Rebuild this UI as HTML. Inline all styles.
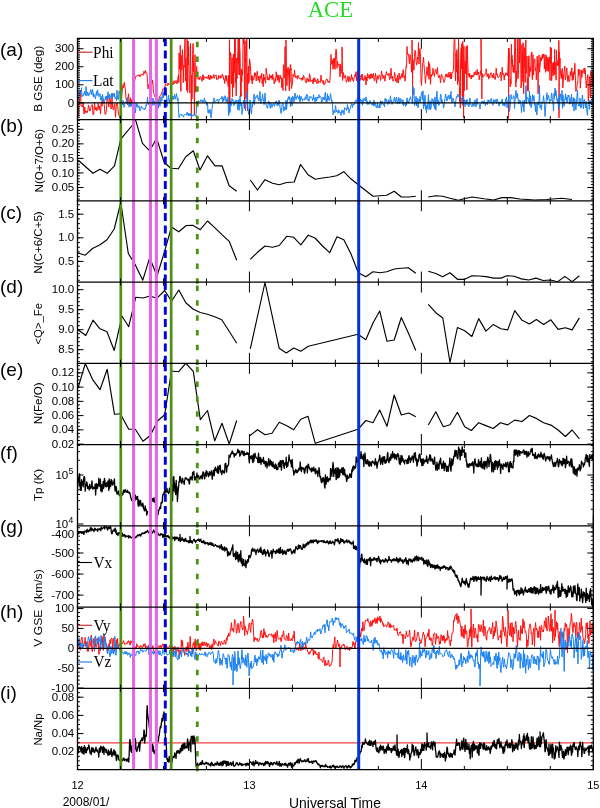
<!DOCTYPE html>
<html><head><meta charset="utf-8"><title>ACE</title>
<style>html,body{margin:0;padding:0;background:#fff;}svg{display:block;will-change:transform;}</style></head>
<body><svg width="600" height="808" viewBox="0 0 600 808">
<rect width="600" height="808" fill="#fff"/>
<text x="330.4" y="16.6" font-family="'Liberation Serif', serif" font-size="22.7" fill="#22dd22" text-anchor="middle">ACE</text>
<defs>
<clipPath id="c0"><rect x="77.5" y="38.3" width="515.8" height="81.25"/></clipPath>
<clipPath id="c1"><rect x="77.5" y="119.55" width="515.8" height="81.25"/></clipPath>
<clipPath id="c2"><rect x="77.5" y="200.8" width="515.8" height="81.25"/></clipPath>
<clipPath id="c3"><rect x="77.5" y="282.05" width="515.8" height="81.25"/></clipPath>
<clipPath id="c4"><rect x="77.5" y="363.3" width="515.8" height="81.25"/></clipPath>
<clipPath id="c5"><rect x="77.5" y="444.55" width="515.8" height="81.25"/></clipPath>
<clipPath id="c6"><rect x="77.5" y="525.8" width="515.8" height="81.25"/></clipPath>
<clipPath id="c7"><rect x="77.5" y="607.05" width="515.8" height="81.25"/></clipPath>
<clipPath id="c8"><rect x="77.5" y="688.3" width="515.8" height="81.25"/></clipPath>
</defs>
<g clip-path="url(#c0)">
<polyline points="78.00,116.69 78.75,105.91 79.50,102.65 80.25,96.35 80.50,90.00 80.80,96.35 81.00,106.24 81.75,105.67 82.50,107.09 83.25,102.34 84.00,114.12 84.75,106.98 85.50,112.82 86.25,111.03 87.00,112.76 87.75,110.98 88.50,104.93 89.25,108.59 90.00,111.24 90.75,107.64 91.50,106.22 92.25,104.54 93.00,114.82 93.75,114.29 94.50,102.37 95.25,109.96 96.00,107.13 96.75,110.79 97.50,108.77 98.25,103.27 99.00,109.72 99.75,105.90 100.50,114.05 101.25,101.72 102.00,106.45 102.75,98.81 103.50,100.37 104.25,104.51 105.00,114.30 105.75,114.29 106.50,108.97 107.25,95.61 108.00,100.66 108.75,106.89 109.50,96.98 110.25,98.88 111.00,109.09 111.75,107.27 112.00,93.00 112.30,107.27 112.50,103.33 113.25,109.93 114.00,107.67 114.75,103.53 115.50,117.25 116.25,106.57 117.00,102.89 117.75,106.48 118.50,114.55 119.00,114.89 119.50,116.98 120.00,118.23 120.50,108.81 121.00,99.33 121.50,99.47 122.00,92.20 122.50,89.81 123.00,84.79 123.50,87.66 124.00,82.65 124.50,82.30 125.00,88.04 125.50,90.12 126.00,98.64 126.50,100.39 127.00,98.32 127.50,104.78 128.00,98.43 128.50,93.74 129.00,98.93 129.50,104.06 130.00,104.89 130.50,97.72 131.00,106.32 131.50,99.79 132.00,104.46 132.50,100.08 133.00,100.54 133.50,101.16 134.00,92.10 134.50,81.08 135.00,79.54 135.50,76.64 136.00,76.51 136.50,76.32 137.00,75.41 137.50,75.48 138.00,75.89 138.50,74.79 139.00,75.20 139.50,76.45 140.00,74.58 140.50,76.41 141.00,75.35 141.50,74.78 142.00,73.89 142.50,74.79 143.00,75.39 143.50,74.13 144.00,71.16 144.50,73.39 145.00,73.39 145.50,70.44 146.00,73.16 146.50,73.27 147.00,73.31 147.50,82.66 148.00,88.95 148.50,87.19 149.00,84.14 149.50,89.18 150.00,90.33 150.50,85.62 151.00,91.10 151.50,81.38 152.00,83.75 152.50,79.90 153.00,85.02 153.50,93.23 154.00,93.72 154.50,95.25 155.00,96.81 155.50,95.99 156.00,96.49 156.50,100.47 157.00,100.13 157.50,101.02 158.00,100.50 158.50,100.51 159.00,100.58 159.50,96.93 160.00,95.72 160.50,95.57 161.00,95.32 161.50,93.02 162.00,92.29 162.50,89.38 163.00,89.25 163.50,89.23 164.00,88.12 164.50,87.64 165.00,86.20 165.50,83.77 166.00,85.56 166.50,84.87 167.00,85.39 167.50,85.51 168.00,82.92 168.50,84.62 169.00,84.58 169.50,84.46 170.00,83.76 170.50,83.98 171.00,81.60 171.50,83.13 172.00,83.46 172.50,82.61 173.00,84.77 173.50,84.21 174.00,80.62 174.50,83.53 175.00,82.31 175.50,82.90 176.00,80.47 176.50,82.08 177.00,83.95 177.50,82.11 178.00,77.39 178.50,75.10 178.80,82.44 179.10,52.98 179.40,69.21 179.70,64.26 180.00,65.10 180.30,45.32 180.60,72.10 180.90,91.35 181.20,55.18 181.50,66.29 181.80,67.71 182.10,69.81 182.40,49.63 182.70,60.07 183.00,67.65 183.30,82.67 183.60,68.51 183.90,65.28 184.20,67.35 184.50,48.53 184.80,44.22 185.10,38.30 185.40,81.02 185.70,59.44 186.00,57.88 186.30,77.59 186.60,90.33 186.90,77.97 187.20,38.98 187.50,92.48 187.80,74.41 188.10,41.10 188.40,64.93 188.70,46.62 189.00,67.87 189.30,90.75 189.60,90.72 189.90,93.03 190.20,68.65 190.50,43.33 190.80,68.38 191.10,95.28 191.40,119.50 191.70,75.13 192.00,98.92 192.30,77.20 192.60,54.63 192.90,43.77 193.20,43.44 193.50,71.88 193.80,64.40 194.10,88.02 194.40,114.81 194.70,83.74 195.00,54.70 195.30,83.79 195.60,92.35 195.90,80.81 196.20,72.58 196.70,66.38 197.20,77.55 197.70,78.85 198.20,78.94 198.70,79.36 199.20,76.94 199.70,79.55 200.20,76.31 200.70,76.48 201.20,77.80 201.70,80.80 202.20,81.30 202.70,74.87 203.20,74.92 203.70,79.98 204.20,77.07 204.70,76.74 205.20,77.75 205.70,77.15 206.20,78.39 206.70,76.85 207.20,76.44 207.70,77.59 208.20,79.14 208.70,74.85 209.20,77.37 209.70,79.97 210.20,78.67 210.70,75.23 211.20,78.89 211.70,76.05 212.20,78.06 212.70,77.93 213.20,76.91 213.70,74.45 214.20,78.49 214.70,76.40 215.20,75.04 215.70,75.89 216.20,75.20 216.70,79.76 217.20,79.03 217.70,78.61 218.20,79.23 218.70,75.13 219.20,77.28 219.70,78.00 220.20,78.50 220.70,75.67 221.20,77.05 221.70,77.67 222.20,74.13 222.70,75.48 223.20,75.54 223.70,79.65 224.20,79.18 224.70,83.50 225.20,77.99 225.70,75.52 226.20,81.15 226.70,75.64 227.20,80.47 227.70,81.01 228.20,86.61 228.70,75.19 229.20,111.21 229.50,39.69 229.80,105.39 230.10,59.98 230.40,52.08 230.70,54.88 231.00,54.28 231.30,80.31 231.60,83.94 231.90,60.06 232.20,57.66 232.50,96.92 232.80,71.02 233.10,85.62 233.40,54.04 233.70,87.48 234.00,64.42 234.30,72.86 234.60,38.30 234.90,64.00 235.20,38.30 235.50,82.47 235.80,76.82 236.10,95.84 236.40,92.98 236.70,58.12 237.00,78.59 237.30,63.70 237.60,56.64 237.90,51.71 238.20,38.30 238.50,63.55 238.80,52.22 239.10,74.95 239.00,38.60 239.30,74.95 239.40,38.30 239.70,46.75 240.00,50.31 240.30,66.13 240.60,97.01 240.90,91.27 241.20,96.16 241.50,68.91 241.80,81.74 242.10,71.24 242.40,74.96 242.70,73.02 243.00,38.30 243.00,38.50 243.30,38.30 243.30,38.30 243.60,43.97 243.90,38.30 244.20,43.33 244.50,108.51 244.80,58.07 245.10,40.78 245.40,56.57 245.70,65.13 246.00,99.01 246.30,57.44 246.60,38.30 246.90,38.95 247.20,99.55 247.50,110.97 247.80,73.64 248.10,83.97 248.40,66.13 248.70,66.11 249.00,82.46 249.30,65.61 249.60,58.81 249.90,62.36 250.20,62.38 250.70,71.98 251.20,80.43 251.70,75.55 252.20,83.98 252.70,75.92 253.20,79.33 253.70,80.17 254.20,77.69 254.70,72.61 255.20,75.75 255.70,73.02 256.20,80.92 256.70,77.63 257.20,71.18 257.70,75.28 258.20,80.48 258.70,76.28 259.20,77.34 259.70,82.70 260.20,75.62 260.70,78.47 261.20,78.24 261.70,73.26 262.20,83.67 262.70,78.72 263.20,86.72 263.70,74.11 264.20,80.24 264.70,77.08 265.20,81.17 265.70,83.20 266.20,68.29 266.70,73.39 267.20,75.25 267.70,79.93 268.20,77.54 268.70,80.05 269.20,80.17 269.70,74.45 270.20,78.07 270.70,76.25 271.20,78.14 271.70,75.43 272.20,79.65 272.70,74.23 273.20,78.44 273.70,77.73 274.20,84.09 274.70,81.24 275.20,78.53 275.70,81.61 276.20,71.75 276.70,77.44 277.20,74.72 277.70,80.42 278.20,75.04 278.70,79.86 279.20,82.57 279.70,76.70 280.20,75.07 280.70,78.71 281.20,77.62 281.50,77.81 281.80,87.50 282.10,78.33 282.40,87.33 282.70,83.09 283.00,90.49 283.30,68.99 283.60,64.71 283.90,68.24 284.20,74.67 284.50,78.18 284.80,64.99 285.10,46.74 285.40,84.53 285.70,90.88 286.00,72.06 286.00,40.00 286.30,72.06 286.30,69.82 286.60,76.75 286.90,85.87 287.20,82.40 287.50,68.94 287.80,72.65 288.10,67.18 288.40,71.42 288.70,75.86 289.00,81.32 289.30,90.80 289.60,69.20 289.90,82.64 290.20,64.76 290.50,64.52 290.80,70.06 291.10,68.27 291.40,88.57 291.70,87.33 292.00,85.16 292.50,83.89 293.00,74.40 293.50,75.79 294.00,76.86 294.50,69.93 295.00,73.90 295.50,77.49 296.00,77.94 296.50,75.91 297.00,76.73 297.50,79.23 298.00,75.38 298.50,77.59 299.00,78.03 299.50,77.93 300.00,79.19 300.50,78.79 301.00,78.97 301.50,78.12 302.00,80.53 302.50,77.09 303.00,79.54 303.50,75.40 304.00,76.46 304.50,77.26 305.00,78.88 305.50,81.85 306.00,82.91 306.50,82.64 307.00,77.84 307.50,78.64 308.00,81.47 308.50,79.10 309.00,82.07 309.50,73.79 310.00,75.72 310.50,81.20 311.00,81.69 311.50,80.74 312.00,79.76 312.50,80.01 313.00,84.06 313.50,77.99 314.00,82.18 314.50,77.74 315.00,78.81 315.50,81.55 316.00,80.55 316.50,82.18 317.00,83.82 317.50,78.76 318.00,79.16 318.50,83.21 319.00,81.44 319.50,81.76 320.00,82.24 320.50,82.50 321.00,75.05 321.50,80.78 322.00,80.08 322.50,81.10 323.00,83.56 323.50,80.59 324.00,85.09 324.50,84.31 325.00,82.50 325.50,82.87 326.00,80.41 326.50,78.88 327.00,79.37 327.50,79.56 328.00,82.42 328.50,81.04 329.00,81.99 329.50,82.71 330.00,79.53 330.50,66.84 331.00,54.48 331.50,64.35 332.00,62.90 332.50,59.87 333.00,69.23 333.50,58.59 334.00,67.55 334.50,58.01 335.00,69.47 335.50,55.51 336.00,49.07 336.50,51.55 337.00,68.35 337.50,61.06 338.00,65.40 338.50,65.62 339.00,63.81 339.50,68.39 340.00,76.98 340.50,64.19 341.00,73.51 341.50,71.48 342.00,60.44 342.00,47.00 342.30,60.44 342.50,80.45 343.00,73.09 343.50,72.55 344.00,78.32 344.50,76.66 345.00,75.54 345.50,75.35 346.00,79.86 346.50,82.42 347.00,79.73 347.50,80.03 348.00,76.09 348.50,81.60 349.00,78.81 349.50,76.75 350.00,81.82 350.50,80.51 351.00,77.88 351.50,74.44 352.00,79.51 352.50,77.49 353.00,80.84 353.50,81.61 354.00,78.34 354.50,76.76 355.00,74.46 355.50,76.55 356.00,71.71 356.50,80.65 357.00,75.85 357.50,70.73 358.00,82.28 358.50,77.85 359.00,81.12 359.50,80.44 360.00,80.87 360.50,77.22 361.00,75.71 361.50,74.47 362.00,80.05 362.50,74.15 363.00,78.98 363.50,81.02 364.00,78.69 364.50,79.47 365.00,75.48 365.50,76.69 366.00,84.94 366.50,77.04 367.00,80.84 367.50,73.56 368.00,78.03 368.50,77.73 369.00,74.64 369.50,79.20 370.00,78.38 370.50,73.84 371.00,78.48 371.50,74.13 372.00,74.28 372.50,78.05 373.00,73.98 373.50,73.45 374.00,79.67 374.50,81.03 375.00,76.94 375.50,73.26 376.00,77.81 376.50,83.28 377.00,79.36 377.50,75.80 378.00,79.52 378.50,78.58 379.00,74.87 379.50,75.37 380.00,75.51 380.50,80.53 381.00,76.92 381.50,71.12 382.00,73.63 382.50,74.68 383.00,78.76 383.50,77.09 384.00,75.38 384.50,78.42 385.00,81.29 385.50,75.35 386.00,73.70 386.50,71.62 387.00,74.99 387.50,74.71 388.00,75.73 388.50,74.65 389.00,73.03 389.50,79.70 390.00,79.08 390.50,76.69 391.00,68.17 391.50,75.28 392.00,78.63 392.50,76.42 393.00,81.28 393.50,79.90 394.00,78.97 394.50,72.16 395.00,74.16 395.50,81.30 396.00,78.77 396.50,78.54 397.00,82.86 397.50,75.43 398.00,79.07 398.50,82.75 399.00,73.02 399.50,75.05 400.00,79.56 400.50,76.67 401.00,78.19 401.50,74.92 402.00,73.41 402.50,77.38 403.00,69.67 403.50,70.64 404.00,77.65 404.50,75.76 405.00,81.20 405.50,76.44 406.00,66.52 406.50,67.42 407.00,46.45 407.50,54.42 408.00,54.64 408.50,53.88 409.00,59.65 409.50,63.86 410.00,54.63 410.50,56.19 411.00,62.61 411.50,72.29 412.00,53.89 412.00,40.00 412.30,53.89 412.50,59.30 412.50,100.00 412.80,59.30 413.00,59.42 413.50,66.45 414.00,70.21 414.50,56.55 415.00,50.28 415.50,51.46 416.00,60.30 416.50,64.91 417.00,64.61 417.50,57.24 418.00,59.00 418.50,42.54 419.00,64.10 419.50,51.82 420.00,48.68 420.50,56.26 421.00,79.90 421.50,85.52 422.00,76.58 422.50,63.37 423.00,62.37 423.50,57.16 424.00,65.16 424.50,69.33 425.00,76.77 425.50,83.32 426.00,75.88 426.50,74.56 427.00,66.90 427.50,73.77 428.00,75.92 428.50,61.47 429.00,79.41 429.50,63.45 430.00,67.46 430.50,84.37 431.00,74.70 431.50,76.75 432.00,73.96 432.50,75.13 433.00,68.18 433.50,73.61 434.00,74.15 434.50,76.47 435.00,71.10 435.50,69.28 436.00,69.92 436.50,74.10 437.00,71.30 437.50,67.59 438.00,75.46 438.50,77.54 439.00,78.06 439.50,74.95 440.00,76.85 440.50,82.98 441.00,78.62 441.50,74.07 442.00,75.98 442.50,76.55 443.00,78.40 443.50,80.10 444.00,82.50 444.50,80.67 445.00,79.17 445.50,74.42 446.00,74.55 446.50,76.63 447.00,73.71 447.50,77.16 448.00,76.15 448.50,77.20 449.00,72.06 449.50,77.14 450.00,74.37 450.50,78.97 451.00,72.30 451.50,78.94 452.00,73.63 452.50,72.93 453.00,71.68 453.50,68.07 454.00,42.53 454.30,38.30 454.60,38.30 454.90,40.85 455.20,67.00 455.50,81.00 455.80,71.82 456.10,52.86 456.40,72.11 456.70,50.68 457.00,49.61 457.30,58.35 457.60,84.51 457.90,59.64 458.20,81.30 458.50,38.30 458.80,60.75 459.10,75.21 459.40,87.91 459.70,101.68 460.00,88.09 460.30,107.99 460.60,58.50 460.90,52.93 461.20,47.47 461.50,69.02 461.80,43.63 462.10,59.74 462.40,102.62 462.70,41.32 463.00,46.68 463.30,58.26 463.60,117.65 463.90,46.05 464.20,90.71 464.50,79.54 464.80,60.97 465.10,62.32 465.40,63.56 465.70,73.95 466.00,47.24 466.30,46.59 466.60,74.21 466.90,89.96 467.20,45.47 467.70,59.98 468.20,75.34 468.70,74.21 469.20,77.29 469.70,73.32 470.20,77.09 470.70,75.85 471.20,79.08 471.70,75.17 472.20,77.48 472.70,75.09 473.20,75.88 473.70,76.57 474.20,72.26 474.70,75.00 475.20,74.35 475.70,71.33 476.20,73.86 476.70,75.05 477.20,69.46 477.70,74.73 478.20,74.29 478.70,71.98 479.20,79.79 479.70,75.76 480.20,75.53 480.70,70.85 481.20,71.72 481.00,39.00 481.30,71.72 481.70,76.04 481.80,99.00 482.10,76.04 482.20,73.44 482.70,77.14 483.20,77.04 483.70,76.33 484.20,74.60 484.70,75.21 485.20,74.13 485.70,74.05 486.20,68.76 486.70,72.56 487.20,76.73 487.70,74.66 488.20,73.59 488.70,79.13 489.20,75.78 489.70,77.63 490.20,74.02 490.70,72.93 491.20,72.72 491.70,74.54 492.20,77.62 492.70,74.93 493.20,77.99 493.70,73.16 494.20,77.91 494.70,77.70 495.20,79.59 495.70,75.62 496.20,68.26 496.70,74.70 497.20,73.76 497.70,77.26 498.20,77.76 498.70,77.56 499.20,76.74 499.70,75.49 500.20,73.38 500.70,72.08 501.20,80.92 501.70,77.24 502.20,67.36 502.70,74.66 503.20,73.67 503.70,73.50 504.20,80.07 504.70,75.14 505.20,76.05 505.70,72.76 506.20,74.70 506.70,74.03 507.20,72.79 507.70,75.89 508.20,61.21 508.70,48.03 508.50,118.50 508.80,48.03 509.20,50.36 509.70,58.11 510.20,86.92 510.50,78.76 510.80,83.70 511.10,84.15 511.40,44.21 511.70,63.10 512.00,54.92 512.30,66.31 512.60,59.60 512.90,70.60 513.20,72.40 513.50,69.72 513.80,65.37 514.10,69.19 514.40,72.70 514.70,38.30 515.00,38.30 515.30,38.30 515.60,56.03 515.90,87.06 516.20,70.55 516.50,81.76 516.80,76.95 517.10,72.68 517.40,38.30 517.70,65.02 518.00,78.67 518.30,74.06 518.60,69.35 518.90,41.15 519.20,38.30 519.50,62.86 519.80,56.94 520.10,38.30 520.40,52.09 520.70,52.86 521.00,88.01 521.30,85.45 521.60,85.45 521.90,44.51 522.20,73.32 522.50,51.32 522.80,81.56 523.10,42.64 523.40,82.72 523.70,93.78 524.00,68.65 524.30,47.49 524.60,67.29 524.90,55.58 525.20,82.49 525.50,63.32 525.80,39.87 526.10,73.29 526.40,73.22 526.70,69.27 527.00,56.00 527.30,90.62 527.60,82.85 527.90,77.86 528.20,91.36 528.50,61.21 528.80,55.72 529.10,56.23 529.40,76.71 529.70,75.86 530.00,66.76 530.30,69.66 530.60,71.42 530.90,66.11 531.20,54.51 531.50,56.16 531.80,51.93 532.10,77.33 532.40,79.60 532.70,66.12 533.00,54.78 533.30,68.46 533.60,75.11 533.90,64.81 534.20,60.37 534.50,59.49 534.80,58.88 535.10,65.67 535.40,70.67 535.70,68.27 536.00,70.12 536.30,79.89 536.60,75.51 536.90,65.28 537.20,56.20 537.50,67.78 537.80,65.14 538.10,93.85 538.40,63.25 538.70,64.70 539.00,54.97 539.30,67.21 539.60,72.29 539.90,67.13 540.20,66.63 540.50,58.05 540.80,58.13 541.10,56.88 541.40,60.82 541.70,57.75 542.00,56.10 542.30,54.67 542.60,58.45 542.90,54.28 543.20,57.27 543.50,53.94 543.80,56.57 544.10,56.90 544.40,69.00 544.70,58.29 545.00,54.64 545.30,62.09 545.60,72.37 545.90,68.75 546.20,55.18 546.50,56.34 546.80,70.71 547.10,62.49 547.40,57.69 547.70,60.60 548.00,71.16 548.30,59.54 548.60,71.42 548.90,57.09 549.20,58.24 549.50,56.84 549.80,73.40 550.10,80.41 550.40,46.97 550.70,63.22 551.00,60.47 551.30,47.83 551.60,80.72 551.90,76.92 552.20,73.00 552.50,72.52 552.80,63.27 553.10,75.89 553.40,62.00 553.70,69.86 554.00,66.77 554.30,74.61 554.60,49.09 554.90,74.42 555.20,62.19 555.50,65.83 555.80,68.13 556.10,80.20 556.40,50.32 556.70,57.25 557.00,65.74 557.30,64.10 557.60,65.11 557.90,60.53 558.20,65.92 558.50,66.24 558.80,40.24 559.10,51.75 559.00,118.00 559.30,51.75 559.40,57.34 559.70,64.10 560.00,58.04 560.30,68.82 560.80,76.39 561.30,78.66 561.80,71.02 562.30,68.34 562.80,88.02 563.30,80.04 563.80,73.40 564.30,70.77 564.80,66.10 565.30,79.80 565.80,77.67 566.30,72.08 566.80,67.87 567.30,75.75 567.80,81.58 568.30,75.40 568.80,80.01 569.30,81.70 569.80,79.95 570.30,71.54 570.80,75.97 571.30,73.73 571.80,67.78 572.30,80.52 572.80,72.90 573.30,79.67 573.80,71.66 574.30,74.56 574.80,63.22 575.30,74.69 575.80,91.38 576.30,90.22 576.80,88.58 577.30,82.07 577.80,82.52 578.30,69.20 578.80,75.64 579.30,71.61 579.80,69.39 580.30,88.08 580.80,80.76 581.30,70.00 581.80,77.57 582.30,71.04 582.80,72.97 583.30,68.70 583.80,69.60 584.30,73.68 584.80,67.99 585.30,70.07 585.80,80.11 586.30,87.97 586.80,80.49 587.30,78.32 587.80,74.68 588.30,101.04 588.80,92.53 589.30,76.51 589.80,79.72 590.30,97.81 590.80,70.92 591.30,73.91 591.80,76.44 592.30,86.79 592.80,69.90" fill="none" stroke="#ff1010" stroke-width="1.0" stroke-linejoin="round" />
<polyline points="78.00,99.66 78.50,98.28 79.00,95.65 79.50,94.02 80.00,91.50 80.50,93.09 81.00,93.64 81.50,87.74 82.00,96.95 82.50,94.97 83.00,95.86 83.50,94.02 84.00,94.08 84.50,91.08 85.00,94.78 85.50,95.54 86.00,86.58 86.50,91.34 87.00,95.85 87.50,91.89 88.00,92.83 88.50,95.86 89.00,95.56 89.50,92.93 90.00,93.49 90.50,89.90 91.00,89.51 91.50,93.90 92.00,95.13 92.50,89.50 93.00,91.84 93.50,97.08 94.00,94.18 94.50,96.29 95.00,96.97 95.50,99.04 96.00,94.12 96.50,91.54 97.00,95.60 97.50,89.71 98.00,92.88 98.50,94.00 99.00,96.62 99.50,95.56 100.00,93.66 100.50,99.81 101.00,99.44 101.50,96.44 102.00,101.06 102.50,94.41 103.00,97.45 103.50,100.18 104.00,103.58 104.50,101.59 105.00,99.34 105.50,96.38 106.00,100.23 106.50,96.24 107.00,97.11 107.50,98.67 108.00,91.80 108.50,97.87 109.00,98.98 109.50,94.13 110.00,97.63 110.50,97.12 111.00,95.51 111.50,93.33 112.00,98.71 112.50,96.58 113.00,93.43 113.50,94.09 114.00,96.77 114.50,93.25 115.00,98.65 115.50,97.65 116.00,97.87 116.50,100.59 117.00,90.10 117.50,98.72 118.00,99.72 118.50,98.91 119.00,90.95 119.50,93.38 120.00,94.16 120.50,99.27 121.00,102.47 121.50,101.10 122.00,104.67 122.50,104.74 123.00,100.35 123.50,103.48 124.00,107.40 124.50,106.11 125.00,102.50 125.50,101.66 126.00,101.33 126.50,103.33 127.00,101.96 127.50,97.56 128.00,99.11 128.50,104.14 129.00,107.18 129.50,106.64 130.00,103.40 130.50,106.49 131.00,102.86 131.50,105.73 132.00,105.46 132.50,102.82 133.00,106.84 133.50,109.15 134.00,107.84 134.50,106.18 135.00,109.13 135.50,112.85 136.00,103.03 136.50,106.93 137.00,103.80 137.50,105.29 138.00,107.68 138.50,106.84 139.00,105.57 139.50,109.90 140.00,110.92 140.50,109.87 141.00,106.86 141.50,106.04 142.00,108.35 142.50,108.14 143.00,108.22 143.50,109.27 144.00,109.01 144.50,110.01 145.00,108.20 145.50,108.89 146.00,104.58 146.50,106.10 147.00,103.58 147.50,97.03 148.00,103.14 148.50,103.31 149.00,104.98 149.50,102.23 150.00,107.90 150.50,103.60 151.00,103.65 151.50,97.84 152.00,105.89 152.50,101.87 153.00,97.88 153.50,100.72 154.00,105.21 154.50,101.75 155.00,100.93 155.50,107.11 156.00,102.94 156.50,106.08 157.00,107.43 157.50,100.23 158.00,98.80 158.50,108.11 159.00,100.77 159.50,103.20 160.00,106.30 160.50,99.66 161.00,96.64 161.50,101.37 162.00,100.16 162.50,95.36 163.00,92.01 163.50,97.81 164.00,93.16 164.50,89.09 165.00,86.88 165.50,87.22 166.00,92.48 166.50,95.44 167.00,105.19 167.50,106.21 168.00,99.42 168.50,95.03 169.00,99.59 169.50,103.26 170.00,98.66 170.50,103.06 171.00,102.95 171.50,97.97 172.00,95.98 172.50,99.79 173.00,96.05 173.50,99.22 174.00,99.32 174.50,94.41 175.00,95.97 175.50,99.16 176.00,96.65 176.50,93.57 177.00,96.59 177.50,100.56 178.00,98.27 178.50,109.94 179.00,117.46 179.50,115.21 180.00,115.02 180.50,114.39 181.00,114.15 181.50,115.45 182.00,114.44 182.50,115.27 183.00,116.26 183.50,117.16 184.00,115.12 184.50,114.46 185.00,114.42 185.50,114.44 186.00,114.80 186.50,115.21 187.00,112.14 187.50,113.16 188.00,115.18 188.50,113.09 189.00,115.98 189.50,113.65 190.00,114.60 190.50,115.59 191.00,113.12 191.50,117.60 192.00,115.49 192.50,115.15 193.00,115.98 193.50,114.70 194.00,114.21 194.50,114.61 195.00,116.02 195.50,116.15 196.00,115.43 196.50,109.28 197.00,102.41 197.50,102.21 198.00,102.06 198.50,100.45 199.00,101.10 199.50,101.74 200.00,101.49 200.50,101.39 201.00,99.63 201.50,101.22 202.00,99.94 202.50,102.07 203.00,100.58 203.50,101.72 204.00,99.64 204.50,98.03 205.00,102.27 205.50,101.06 206.00,100.99 206.50,105.17 207.00,104.87 207.50,102.48 208.00,112.66 208.50,110.38 209.00,113.35 209.50,112.39 210.00,109.03 210.50,113.21 211.00,117.95 211.50,114.54 212.00,108.86 212.50,104.42 213.00,103.06 213.50,100.26 214.00,97.94 214.50,101.83 215.00,101.23 215.50,101.48 216.00,101.46 216.50,100.13 217.00,99.84 217.50,98.99 218.00,100.37 218.50,103.16 219.00,99.36 219.50,99.62 220.00,98.70 220.50,98.43 221.00,98.30 221.50,98.61 222.00,96.39 222.50,101.49 223.00,97.32 223.50,101.26 224.00,100.80 224.50,96.87 225.00,95.67 225.50,96.73 226.00,101.82 226.50,98.94 227.00,99.04 227.50,103.21 228.00,97.11 228.50,115.68 229.00,113.67 229.50,104.19 230.00,112.53 230.50,100.73 231.00,106.02 231.50,103.31 232.00,98.38 232.50,100.68 233.00,99.65 233.50,104.87 234.00,105.70 234.50,101.74 235.00,104.11 235.50,99.86 236.00,101.71 236.50,101.35 237.00,99.92 237.50,108.34 238.00,109.78 238.50,99.69 239.00,110.42 239.50,104.74 240.00,96.29 240.50,104.33 241.00,106.36 241.50,103.43 242.00,114.41 242.50,111.18 243.00,106.30 243.50,100.00 244.00,100.70 244.50,102.44 245.00,100.66 245.50,110.92 246.00,104.62 246.50,91.07 247.00,94.77 247.50,97.82 248.00,109.14 248.50,113.19 249.00,114.75 249.50,106.51 250.00,99.94 250.50,106.82 251.00,112.40 251.50,113.86 252.00,104.44 252.50,107.23 253.00,101.30 253.50,103.18 254.00,94.15 254.50,104.74 255.00,99.14 255.50,96.83 256.00,97.75 256.50,95.74 257.00,96.35 257.50,95.04 258.00,99.15 258.50,97.86 259.00,101.12 259.50,95.60 260.00,91.42 260.50,101.47 261.00,103.63 261.50,99.19 262.00,100.15 262.50,93.91 263.00,97.27 263.50,99.71 264.00,104.66 264.50,99.78 265.00,93.07 265.50,101.32 266.00,104.76 266.50,104.80 267.00,106.93 267.50,108.45 268.00,105.38 268.50,100.92 269.00,101.81 269.50,102.43 270.00,107.46 270.50,108.33 271.00,103.29 271.50,104.44 272.00,107.47 272.50,104.80 273.00,105.04 273.50,103.37 274.00,105.24 274.50,106.43 275.00,102.85 275.50,102.74 276.00,100.74 276.50,101.21 277.00,105.52 277.50,102.34 278.00,105.93 278.50,102.04 279.00,99.97 279.50,100.81 280.00,107.46 280.50,109.13 281.00,113.53 281.50,112.84 282.00,104.64 282.50,103.08 283.00,103.20 283.50,110.95 284.00,111.14 284.50,106.88 285.00,109.49 285.50,109.51 286.00,100.05 286.50,109.63 287.00,105.14 287.50,100.02 288.00,98.18 288.50,96.71 289.00,99.66 289.50,96.68 290.00,98.80 290.50,106.61 291.00,99.51 291.50,97.54 292.00,105.92 292.50,96.43 293.00,96.35 293.50,97.78 294.00,102.46 294.50,97.05 295.00,93.07 295.50,96.38 296.00,99.61 296.50,98.30 297.00,96.00 297.50,95.56 298.00,98.17 298.50,97.78 299.00,99.54 299.50,95.13 300.00,102.15 300.50,99.09 301.00,96.11 301.50,99.10 302.00,99.40 302.50,101.24 303.00,98.59 303.50,99.09 304.00,99.84 304.50,99.96 305.00,97.61 305.50,96.81 306.00,99.53 306.50,94.07 307.00,96.07 307.50,94.98 308.00,100.35 308.50,99.06 309.00,101.38 309.50,97.00 310.00,96.32 310.50,97.87 311.00,97.27 311.50,96.98 312.00,97.37 312.50,100.74 313.00,100.10 313.50,94.69 314.00,99.11 314.50,97.92 315.00,102.08 315.50,100.02 316.00,97.07 316.50,101.15 317.00,99.71 317.50,96.95 318.00,98.34 318.50,96.38 319.00,94.59 319.50,97.71 320.00,96.85 320.50,96.46 321.00,97.04 321.50,102.22 322.00,100.77 322.50,101.22 323.00,97.14 323.50,99.28 324.00,97.25 324.50,100.01 325.00,93.22 325.50,92.12 326.00,101.66 326.50,98.83 327.00,101.87 327.50,93.74 328.00,100.25 328.50,96.01 329.00,99.42 329.50,100.60 330.00,98.00 330.50,93.55 331.00,96.67 331.50,101.39 332.00,100.33 332.50,103.61 333.00,114.76 333.50,112.71 334.00,110.23 334.50,111.92 335.00,112.74 335.50,105.55 336.00,108.72 336.50,111.98 337.00,110.65 337.50,111.41 338.00,113.47 338.50,109.91 339.00,109.95 339.50,112.70 340.00,111.94 340.50,113.27 341.00,115.49 341.50,111.78 342.00,109.91 342.50,112.66 343.00,111.24 343.50,110.63 344.00,114.80 344.50,107.70 345.00,108.59 345.50,108.49 346.00,108.03 346.50,110.64 347.00,109.45 347.50,104.54 348.00,109.06 348.50,107.66 349.00,113.03 349.50,109.82 350.00,108.92 350.50,108.53 351.00,105.91 351.50,103.64 352.00,103.62 352.50,107.52 353.00,104.36 353.50,104.98 354.00,103.99 354.50,104.37 355.00,101.36 355.50,100.56 356.00,100.05 356.50,101.93 357.00,99.83 357.50,97.49 358.00,97.59 358.50,100.02 359.00,102.51 359.50,100.94 360.00,100.40 360.50,98.86 361.00,101.80 361.50,99.98 362.00,103.32 362.50,105.30 363.00,98.53 363.50,101.49 364.00,101.05 364.50,98.38 365.00,99.30 365.50,101.10 366.00,96.88 366.50,98.99 367.00,104.39 367.50,100.92 368.00,104.42 368.50,102.78 369.00,104.33 369.50,103.18 370.00,100.42 370.50,102.79 371.00,102.37 371.50,103.65 372.00,105.15 372.50,103.11 373.00,105.51 373.50,105.85 374.00,99.92 374.50,105.49 375.00,103.64 375.50,103.16 376.00,107.09 376.50,105.90 377.00,108.12 377.50,103.11 378.00,105.81 378.50,107.16 379.00,107.88 379.50,104.33 380.00,108.02 380.50,100.83 381.00,101.11 381.50,104.77 382.00,101.03 382.50,101.91 383.00,103.34 383.50,104.92 384.00,104.88 384.50,106.96 385.00,98.38 385.50,100.18 386.00,101.73 386.50,99.18 387.00,103.22 387.50,103.03 388.00,104.54 388.50,99.66 389.00,100.93 389.50,103.25 390.00,99.57 390.50,95.80 391.00,101.73 391.50,100.03 392.00,104.49 392.50,103.43 393.00,101.92 393.50,100.19 394.00,99.07 394.50,97.18 395.00,101.89 395.50,101.62 396.00,98.08 396.50,97.27 397.00,102.75 397.50,104.07 398.00,100.64 398.50,97.29 399.00,102.91 399.50,104.02 400.00,98.13 400.50,102.34 401.00,100.61 401.50,99.42 402.00,100.66 402.50,104.31 403.00,99.74 403.50,105.64 404.00,103.72 404.50,103.70 405.00,103.27 405.50,106.54 406.00,102.94 406.50,105.27 407.00,97.76 407.50,103.11 408.00,100.76 408.50,103.45 409.00,102.17 409.50,98.80 410.00,98.89 410.50,96.75 411.00,99.49 411.50,100.46 412.00,100.70 412.50,104.07 413.00,86.60 413.50,94.52 414.00,88.35 414.50,106.01 415.00,103.93 415.50,103.30 416.00,96.24 416.50,105.97 417.00,98.01 417.50,99.36 418.00,107.98 418.50,102.90 419.00,98.90 419.50,101.50 420.00,96.55 420.50,102.68 421.00,96.68 421.50,93.81 422.00,91.68 422.50,99.30 423.00,90.92 423.50,108.49 424.00,98.19 424.50,105.83 425.00,95.07 425.50,109.30 426.00,105.99 426.50,112.90 427.00,104.65 427.50,108.45 428.00,100.97 428.50,94.76 429.00,109.63 429.50,106.92 430.00,100.70 430.50,109.65 431.00,108.53 431.50,102.92 432.00,98.47 432.50,100.30 433.00,102.11 433.50,105.60 434.00,99.17 434.50,108.64 435.00,96.90 435.50,109.27 436.00,110.29 436.50,96.77 437.00,91.12 437.50,103.99 438.00,99.87 438.50,105.24 439.00,105.42 439.50,103.39 440.00,101.62 440.50,94.08 441.00,94.99 441.50,102.60 442.00,99.49 442.50,103.23 443.00,103.57 443.50,108.06 444.00,106.08 444.50,102.07 445.00,98.14 445.50,94.20 446.00,94.93 446.50,99.91 447.00,101.11 447.50,98.77 448.00,95.85 448.50,95.50 449.00,98.43 449.50,99.17 450.00,94.84 450.50,98.75 451.00,91.34 451.50,101.32 452.00,100.97 452.50,102.40 453.00,98.05 453.50,100.75 454.00,101.20 454.50,102.16 455.00,106.78 455.50,104.56 456.00,99.12 456.50,96.57 457.00,97.40 457.50,95.23 458.00,94.01 458.50,96.91 459.00,95.74 459.50,95.71 460.00,97.21 460.50,96.99 461.00,97.87 461.50,98.75 462.00,102.72 462.50,105.38 463.00,96.60 463.50,99.70 464.00,100.13 464.50,99.69 465.00,106.63 465.50,105.53 466.00,100.01 466.50,104.33 467.00,99.33 467.50,101.46 468.00,105.38 468.50,103.23 469.00,106.82 469.50,99.44 470.00,97.96 470.50,101.87 471.00,105.21 471.50,105.47 472.00,106.88 472.50,105.18 473.00,102.80 473.50,105.32 474.00,106.39 474.50,102.98 475.00,99.81 475.50,103.76 476.00,106.93 476.50,101.72 477.00,98.33 477.50,104.11 478.00,104.38 478.50,103.68 479.00,104.24 479.50,104.69 480.00,109.05 480.50,104.11 481.00,103.83 481.50,103.45 482.00,100.85 482.50,102.83 483.00,102.28 483.50,103.98 484.00,100.40 484.50,101.05 485.00,104.18 485.50,105.78 486.00,102.38 486.50,103.35 487.00,101.82 487.50,104.61 488.00,99.63 488.50,101.97 489.00,101.03 489.50,100.47 490.00,102.65 490.50,101.25 491.00,98.71 491.50,98.13 492.00,103.19 492.50,104.67 493.00,105.43 493.50,99.82 494.00,99.45 494.50,102.16 495.00,100.58 495.50,101.61 496.00,99.36 496.50,103.45 497.00,98.95 497.50,99.60 498.00,102.09 498.50,102.19 499.00,106.24 499.50,102.07 500.00,103.38 500.50,103.62 501.00,101.62 501.50,102.48 502.00,98.88 502.50,100.88 503.00,105.64 503.50,103.11 504.00,105.36 504.50,103.01 505.00,106.35 505.50,98.90 506.00,100.31 506.50,96.89 507.00,107.83 507.50,105.62 508.00,100.49 508.50,101.45 509.00,95.30 509.50,111.56 510.00,107.13 510.50,104.43 511.00,94.52 511.50,98.48 512.00,98.94 512.50,98.52 513.00,98.16 513.50,95.60 514.00,96.17 514.50,108.40 515.00,101.59 515.50,92.75 516.00,90.47 516.50,94.39 517.00,98.33 517.50,93.44 518.00,98.90 518.50,102.43 519.00,103.95 519.50,99.98 520.00,100.02 520.50,100.68 521.00,105.54 521.50,112.53 522.00,104.79 522.50,106.26 523.00,100.43 523.50,105.98 524.00,111.68 524.50,100.31 525.00,103.05 525.50,98.69 526.00,85.58 526.50,103.97 527.00,97.41 527.50,97.39 528.00,98.38 528.50,99.98 529.00,102.33 529.50,91.33 530.00,105.52 530.50,95.79 531.00,107.74 531.50,107.04 532.00,100.82 532.50,94.66 533.00,101.11 533.50,97.94 534.00,95.61 534.50,105.14 535.00,104.57 535.50,111.66 536.00,103.40 536.50,111.64 537.00,114.94 537.50,103.48 538.00,101.76 538.50,105.12 539.00,104.37 539.50,85.09 540.00,107.91 540.50,105.12 541.00,107.14 541.50,110.10 542.00,101.66 542.50,103.07 543.00,100.81 543.50,95.73 544.00,99.92 544.50,105.62 545.00,116.44 545.50,109.00 546.00,103.76 546.50,95.99 547.00,92.72 547.50,100.23 548.00,97.34 548.50,95.28 549.00,97.32 549.50,103.54 550.00,100.42 550.50,99.55 551.00,101.04 551.50,93.19 552.00,94.85 552.50,102.45 553.00,102.36 553.50,111.12 554.00,93.35 554.50,98.56 555.00,88.06 555.50,95.61 556.00,90.49 556.50,96.98 557.00,100.89 557.50,102.79 558.00,98.34 558.50,109.67 559.00,95.28 559.50,106.81 560.00,98.57 560.50,93.82 561.00,97.65 561.50,100.54 562.00,90.42 562.50,108.35 563.00,94.89 563.50,101.50 564.00,106.37 564.50,103.56 565.00,98.42 565.50,93.80 566.00,99.92 566.50,97.22 567.00,102.63 567.50,99.43 568.00,95.18 568.50,96.72 569.00,95.21 569.50,104.16 570.00,97.83 570.50,103.91 571.00,101.40 571.50,94.32 572.00,101.54 572.50,106.41 573.00,98.52 573.50,97.56 574.00,111.11 574.50,98.54 575.00,99.49 575.50,108.26 576.00,110.07 576.50,102.59 577.00,95.05 577.50,90.14 578.00,101.98 578.50,106.19 579.00,105.07 579.50,106.09 580.00,98.06 580.50,107.89 581.00,108.37 581.50,107.25 582.00,98.50 582.50,94.93 583.00,104.75 583.50,108.90 584.00,99.89 584.50,99.51 585.00,103.84 585.50,107.79 586.00,101.26 586.50,105.29 587.00,112.59 587.50,115.34 588.00,104.82 588.50,101.61 589.00,100.94 589.50,109.37 590.00,100.15 590.50,103.82 591.00,103.43 591.50,104.29 592.00,105.20 592.50,95.99 593.00,109.28" fill="none" stroke="#1a80f0" stroke-width="1.0" stroke-linejoin="round" />
</g>
<g clip-path="url(#c1)">
<polyline points="78.30,160.30 85.60,166.80 93.00,173.30 100.00,169.30 107.20,173.30 114.50,165.80 120.80,139.20 132.50,125.00 135.30,119.20 142.50,143.30 149.70,150.80 156.70,138.30 164.20,162.50 170.80,168.30 178.30,168.80 185.80,156.70 193.30,150.80 200.00,170.00 207.50,155.80 215.00,165.80 222.00,165.80 229.20,185.80 236.70,191.30" fill="none" stroke="#000" stroke-width="1.15" stroke-linejoin="round" />
<polyline points="250.30,180.00 257.50,190.00 265.00,179.70 272.50,183.30 279.20,184.70 286.70,182.50 294.20,182.00 300.50,164.50 308.00,174.70 315.30,179.20 322.50,178.00 330.00,177.00 336.70,175.80 343.80,171.70 350.80,178.80 358.30,184.70 365.00,190.00 373.00,196.20 380.00,195.80 386.70,195.30 394.20,191.30 401.30,197.00 409.20,197.00 415.80,196.30" fill="none" stroke="#000" stroke-width="1.15" stroke-linejoin="round" />
<polyline points="428.30,197.00 435.80,195.70 442.50,196.30 450.00,198.30 458.30,200.30 465.00,198.50 472.00,197.00 484.00,198.80 493.60,200.00 502.00,197.60 510.60,197.60 520.00,199.00 534.70,200.00 546.80,199.50 561.30,198.30 572.00,199.50" fill="none" stroke="#000" stroke-width="1.15" stroke-linejoin="round" />
</g>
<g clip-path="url(#c2)">
<polyline points="78.00,253.00 85.30,255.20 92.50,248.50 100.00,244.70 107.00,239.70 114.20,229.00 120.80,202.50 128.30,253.50 135.00,264.30 142.80,280.20 149.70,257.70 157.00,276.00 164.20,252.70 171.50,227.00 178.70,231.80 186.30,225.50 192.80,225.20 200.30,229.70 207.50,221.00 214.70,227.70 222.00,234.70 229.20,241.30 236.70,260.20" fill="none" stroke="#000" stroke-width="1.15" stroke-linejoin="round" />
<polyline points="250.30,259.30 257.50,252.30 265.00,246.00 272.50,247.30 279.20,245.50 286.70,236.30 293.70,237.30 300.80,244.80 308.30,235.20 315.00,238.00 322.50,246.00 329.70,252.70 337.00,236.80 343.80,239.70 350.80,253.50 358.30,272.70 365.80,276.80 373.00,271.80 380.00,272.70 386.70,271.80 394.20,269.00 401.30,268.20 408.30,267.70 415.80,273.20" fill="none" stroke="#000" stroke-width="1.15" stroke-linejoin="round" />
<polyline points="428.30,271.30 435.80,273.50 442.50,276.80 450.00,272.70 457.40,279.30 464.70,279.30 471.90,275.70 479.00,276.00 486.00,276.60 493.60,278.10 500.90,278.10 506.90,275.70 514.20,276.20 521.40,278.90 528.70,280.00 535.90,278.10 543.20,280.50 550.40,280.00 557.70,281.70 564.90,276.40 572.10,281.70 579.40,275.70" fill="none" stroke="#000" stroke-width="1.15" stroke-linejoin="round" />
</g>
<g clip-path="url(#c3)">
<polyline points="78.30,330.00 85.80,335.50 93.00,320.20 100.00,328.80 107.00,331.70 114.20,350.50 122.00,316.30 128.70,326.70 135.80,297.20 143.00,298.00 150.00,296.00 156.70,298.30 164.70,290.50 171.50,301.30 178.80,290.00 185.80,302.70 193.30,309.20 200.30,312.50 207.50,314.30 214.70,316.70 221.70,319.70 229.20,331.30 236.70,343.30" fill="none" stroke="#000" stroke-width="1.15" stroke-linejoin="round" />
<polyline points="250.30,348.80 265.00,282.50 279.20,348.30 286.30,353.00 293.70,348.00 300.80,351.30 308.30,346.30 358.00,334.30 365.80,339.70 373.00,323.00 379.70,311.00 387.00,341.30 394.20,340.00 401.30,317.50 408.70,333.80 415.80,350.50" fill="none" stroke="#000" stroke-width="1.15" stroke-linejoin="round" />
<polyline points="428.30,304.30 435.80,312.70 442.80,318.00 450.00,362.50 457.40,327.50 464.70,330.70 471.90,336.50 478.70,318.60 485.90,331.10 493.20,324.60 500.90,328.70 507.70,329.90 514.70,310.60 522.10,320.30 529.40,323.90 536.40,319.50 543.60,324.40 550.90,319.80 558.10,329.40 565.40,327.80 572.10,329.90 579.40,317.90" fill="none" stroke="#000" stroke-width="1.15" stroke-linejoin="round" />
</g>
<g clip-path="url(#c4)">
<polyline points="78.00,388.00 85.30,363.60 92.50,379.30 100.00,389.70 107.20,369.30 114.50,414.30 120.30,413.80 128.70,429.20 135.30,429.20 143.00,441.30 150.30,435.50 157.50,421.00 164.70,414.70 171.50,371.00 178.70,371.70 185.80,363.30 193.30,371.30 200.30,419.70 207.50,410.50 214.70,440.80 222.00,423.30 229.20,444.00 236.70,420.50" fill="none" stroke="#000" stroke-width="1.15" stroke-linejoin="round" />
<polyline points="250.00,435.50 257.50,429.70 265.00,434.70 272.00,433.30 279.20,422.20 286.30,425.50 293.70,429.70 300.80,419.30 308.00,416.30 315.30,443.30 358.00,429.30 365.80,420.50 373.00,422.70 379.70,410.00 387.00,426.30 394.20,395.00 401.30,415.00 408.70,413.00 415.80,416.70" fill="none" stroke="#000" stroke-width="1.15" stroke-linejoin="round" />
<polyline points="428.30,425.00 435.80,411.80 443.30,426.70 450.00,424.70 457.40,412.30 464.70,426.80 471.40,430.50 478.70,422.70 485.90,425.60 493.20,428.50 500.40,422.70 507.70,424.90 514.70,420.10 522.10,421.50 529.40,415.50 536.40,418.40 543.60,422.70 550.90,425.10 558.10,430.00 565.40,436.50 572.10,430.00 579.40,438.90" fill="none" stroke="#000" stroke-width="1.15" stroke-linejoin="round" />
</g>
<g clip-path="url(#c5)">
<polyline points="78.00,477.55 78.40,481.70 78.80,476.93 79.20,484.85 79.60,473.60 80.00,483.98 80.40,490.15 80.80,482.74 81.20,490.44 81.60,479.68 82.00,483.15 82.40,481.29 82.80,484.82 83.20,486.79 83.60,480.23 84.00,476.69 84.40,476.63 84.80,479.16 85.20,491.17 85.60,485.54 86.00,485.98 86.40,484.55 86.80,481.91 87.20,483.78 87.60,488.40 88.00,487.72 88.40,486.53 88.80,487.69 89.20,490.01 89.60,484.38 90.00,487.70 90.40,488.47 90.80,488.36 91.20,486.33 91.60,483.88 92.00,480.91 92.40,487.93 92.80,489.04 93.20,488.50 93.60,487.16 94.00,488.50 94.40,488.11 94.80,486.68 95.20,484.13 95.60,494.99 96.00,488.59 96.40,483.53 96.80,484.98 97.20,488.48 97.60,488.05 98.00,484.09 98.40,485.75 98.80,478.23 99.20,484.38 99.60,485.70 100.00,486.70 100.40,479.08 100.80,490.99 101.20,485.45 101.60,484.57 102.00,491.86 102.40,489.87 102.80,488.60 103.20,481.45 103.60,488.34 104.00,486.82 104.40,478.49 104.80,479.87 105.20,483.78 105.60,486.41 106.00,484.16 106.40,486.90 106.80,482.64 107.20,483.49 107.60,486.07 108.00,481.01 108.40,484.74 108.80,490.35 109.20,478.87 109.60,488.09 110.00,481.45 110.40,486.07 110.80,486.30 111.20,479.43 111.60,480.38 112.00,480.95 112.40,484.68 112.80,485.17 113.20,483.10 113.60,483.21 114.00,481.17 114.40,478.97 114.80,488.16 115.20,491.24 115.60,486.91 116.00,486.43 116.40,487.29 116.80,493.03 117.20,494.39 117.60,492.75 118.00,492.52 118.40,490.86 118.80,493.94 119.20,495.30 119.60,495.52 120.00,495.94 120.40,494.53 120.80,495.66 121.20,496.50 121.60,494.05 122.00,494.99 122.40,493.04 122.80,494.80 123.20,492.69 123.60,490.08 124.00,492.36 124.40,490.90 124.80,492.04 125.20,489.36 125.60,491.54 126.00,491.95 126.40,491.99 126.80,491.68 127.20,490.19 127.60,492.33 128.00,492.13 128.40,491.78 128.80,491.72 129.20,493.26 129.60,492.67 130.00,493.17 130.40,495.29 130.80,497.63 131.20,498.42 131.60,500.28 132.00,498.98 132.40,500.21 132.80,498.10 133.20,497.15 133.60,498.74 134.00,499.44 134.40,500.39 134.80,501.18 135.20,495.01 135.60,496.76 136.00,496.78 136.40,499.43 136.80,498.00 137.20,496.38 137.60,496.43 138.00,504.33 138.40,506.12 138.80,499.86 139.20,503.04 139.60,501.95 140.00,505.86 140.40,500.45 140.80,502.82 141.20,503.81 141.60,504.37 142.00,506.09 142.40,506.62 142.80,503.09 143.20,505.29 143.60,508.81 144.00,508.94 144.40,510.79 144.80,510.40 145.20,505.91 145.60,508.53 146.00,510.74 146.40,509.70 146.80,515.20 147.20,513.59 147.60,510.98" fill="none" stroke="#000" stroke-width="1.3" stroke-linejoin="round" />
<polyline points="152.00,498.59 152.40,498.69 152.80,500.84 153.20,501.59 153.60,498.29 154.00,497.78 154.40,500.90 154.80,502.99" fill="none" stroke="#000" stroke-width="1.3" stroke-linejoin="round" />
<polyline points="157.00,518.27 157.40,513.09 157.80,514.92 158.20,514.00 158.60,511.21 159.00,509.33 159.40,509.27 159.80,507.05 160.20,507.53 160.60,508.55 161.00,503.32 161.40,502.17 161.80,503.04 162.20,502.48 162.60,496.25 163.00,494.20 163.40,494.58 163.80,493.69 164.20,491.59 164.60,493.73 165.00,487.89 165.40,492.40 165.80,489.86 166.20,491.94 166.60,491.68 167.00,488.44 167.40,492.20 167.80,491.72 168.20,492.23 168.60,493.54 169.00,492.51 169.40,488.08 169.80,491.81 170.20,489.99 170.60,490.27 171.00,489.62 171.40,488.01 171.80,496.69 172.20,485.37 172.60,500.85 173.00,477.09 173.40,490.78 173.80,476.62 174.20,482.88 174.60,483.08 175.00,492.25 175.40,490.16 175.80,494.69 176.20,480.38 176.60,489.82 177.00,486.57 177.40,501.37 177.80,495.47 178.20,490.39 178.60,487.24 179.00,481.50 179.40,482.08 179.80,476.33 180.20,476.83 180.60,477.46 181.00,482.32 181.40,482.22 181.80,483.54 182.20,480.47 182.60,478.32 183.00,480.96 183.40,481.67 183.80,482.18 184.20,484.46 184.60,480.64 185.00,479.16 185.40,477.53 185.80,478.93 186.20,478.14 186.60,478.72 187.00,478.77 187.40,480.01 187.80,479.89 188.20,479.04 188.60,479.23 189.00,482.65 189.40,484.05 189.80,480.77 190.20,477.01 190.60,479.30 191.00,478.59 191.40,476.83 191.80,477.80 192.20,480.02 192.60,472.47 193.00,472.28 193.40,474.27 193.80,471.49 194.20,476.27 194.60,479.97 195.00,476.81 195.40,479.75 195.80,477.02 196.20,477.26 196.60,476.06 197.00,472.96 197.40,479.74 197.80,476.25 198.20,475.42 198.60,478.36 199.00,478.15 199.40,478.60 199.80,479.17 200.20,476.01 200.60,477.48 201.00,477.13 201.40,478.02 201.80,475.24 202.20,478.84 202.60,475.15 203.00,471.86 203.40,472.14 203.80,473.66 204.20,476.72 204.60,478.82 205.00,476.85 205.40,472.91 205.80,474.55 206.20,470.65 206.60,476.25 207.00,471.29 207.40,473.72 207.80,473.79 208.20,473.73 208.60,476.67 209.00,475.13 209.40,471.57 209.80,474.59 210.20,475.18 210.60,472.31 211.00,473.78 211.40,470.60 211.80,473.94 212.20,479.23 212.60,476.18 213.00,473.40 213.40,470.37 213.80,470.24 214.20,475.75 214.60,471.57 215.00,468.17 215.40,467.19 215.80,470.32 216.20,470.53 216.60,468.89 217.00,471.91 217.40,472.94 217.80,466.26 218.20,467.99 218.60,473.27 219.00,469.41 219.40,465.94 219.80,468.96 220.20,465.14 220.60,470.61 221.00,472.35 221.40,472.86 221.80,474.51 222.20,470.68 222.60,470.31 223.00,471.21 223.40,472.41 223.80,471.34 224.20,473.14 224.60,472.21 225.00,464.19 225.40,463.40 225.80,463.35 226.20,467.67 226.60,472.15 227.00,466.36 227.40,466.77 227.80,465.48 228.20,465.43 228.60,464.51 229.00,455.22 229.40,457.78 229.80,456.83 230.20,457.03 230.60,454.69 231.00,453.34 231.40,453.80 231.80,452.79 232.20,450.97 232.60,451.86 233.00,453.73 233.40,453.14 233.80,453.47 234.20,457.03 234.60,453.81 235.00,453.66 235.40,455.36 235.80,454.98 236.20,454.03 236.60,453.80 237.00,452.68 237.40,452.00 237.80,449.21 238.20,452.08 238.60,452.69 239.00,450.72 239.40,451.28 239.80,456.30 240.20,455.03 240.60,455.16 241.00,453.06 241.40,450.95 241.80,452.52 242.20,451.29 242.60,451.11 243.00,454.49 243.40,453.67 243.80,455.71 244.20,451.35 244.60,455.12 245.00,453.31 245.40,454.64 245.80,453.88 246.20,454.30 246.60,453.75 247.00,452.35 247.40,454.37 247.80,452.97 248.20,452.91 248.60,454.21 249.00,460.33 249.40,462.96 249.80,455.95 250.20,458.43 250.60,457.26 251.00,456.14 251.40,458.60 251.80,455.64 252.20,456.74 252.60,462.08 253.00,462.56 253.40,454.21 253.80,461.12 254.20,458.43 254.60,456.84 255.00,453.18 255.40,455.68 255.80,456.72 256.20,457.94 256.60,458.27 257.00,458.07 257.40,458.50 257.80,462.49 258.20,457.02 258.60,453.07 259.00,462.72 259.40,459.30 259.80,462.24 260.20,457.43 260.60,457.43 261.00,464.32 261.40,460.79 261.80,459.48 262.20,461.95 262.60,460.61 263.00,460.84 263.40,457.46 263.80,463.54 264.20,460.93 264.60,463.37 265.00,461.27 265.40,466.25 265.80,461.66 266.20,464.62 266.60,461.56 267.00,468.02 267.40,463.86 267.80,463.96 268.20,463.93 268.60,458.65 269.00,466.06 269.40,464.71 269.80,462.88 270.20,459.93 270.60,464.82 271.00,464.58 271.40,461.39 271.80,465.27 272.20,466.63 272.60,465.10 273.00,461.97 273.40,466.82 273.80,464.77 274.20,468.21 274.60,466.27 275.00,468.36 275.40,463.86 275.80,465.45 276.20,465.06 276.60,469.68 277.00,467.61 277.40,468.01 277.80,469.65 278.20,465.83 278.60,463.12 279.00,462.67 279.40,462.97 279.80,466.99 280.20,460.63 280.60,466.11 281.00,460.54 281.40,470.16 281.80,465.70 282.20,463.19 282.60,460.44 283.00,462.08 283.40,460.82 283.80,466.08 284.20,468.48 284.60,464.76 285.00,463.01 285.40,464.26 285.80,464.93 286.20,457.21 286.60,467.41 287.00,464.92 287.40,463.02 287.80,466.21 288.20,462.50 288.60,460.69 289.00,454.93 289.40,459.08 289.80,460.14 290.20,460.37 290.60,462.88 291.00,460.63 291.40,466.86 291.80,462.89 292.20,459.29 292.60,466.50 293.00,469.14 293.40,470.62 293.80,475.03 294.20,473.17 294.60,472.20 295.00,470.66 295.40,471.00 295.80,469.29 296.20,472.89 296.60,471.09 297.00,470.34 297.40,472.28 297.80,470.29 298.20,471.12 298.60,469.81 299.00,468.18 299.40,468.02 299.80,469.85 300.20,461.99 300.60,468.58 301.00,467.11 301.40,471.66 301.80,467.35 302.20,467.64 302.60,469.07 303.00,468.98 303.40,468.24 303.80,467.86 304.20,472.08 304.60,473.28 305.00,471.20 305.40,468.30 305.80,466.83 306.20,466.33 306.60,465.95 307.00,468.48 307.40,472.91 307.80,466.17 308.20,464.15 308.60,464.77 309.00,467.91 309.40,467.29 309.80,469.47 310.20,468.86 310.60,469.60 311.00,470.40 311.40,471.93 311.80,467.83 312.20,468.20 312.60,470.96 313.00,470.81 313.40,469.20 313.80,467.14 314.20,470.93 314.60,469.30 315.00,470.64 315.40,473.96 315.80,468.56 316.20,472.86 316.60,472.67 317.00,472.77 317.40,470.94 317.80,476.46 318.20,472.57 318.60,472.20 319.00,467.61 319.40,469.85 319.80,476.11 320.20,477.67 320.60,476.51 321.00,480.69 321.40,482.72 321.80,478.95 322.20,480.05 322.60,481.94 323.00,477.53 323.40,480.46 323.80,478.01 324.20,481.93 324.60,486.74 325.00,488.02 325.40,474.91 325.80,478.51 326.20,484.01 326.60,477.91 327.00,481.24 327.40,476.87 327.80,481.43 328.20,481.62 328.60,478.73 329.00,478.99 329.40,479.89 329.80,478.41 330.20,479.93 330.60,468.49 331.00,469.73 331.40,470.33 331.80,476.32 332.20,471.99 332.60,466.76 333.00,462.43 333.40,466.34 333.80,476.50 334.20,469.82 334.60,473.02 335.00,472.01 335.40,468.50 335.80,473.49 336.20,479.59 336.60,478.14 337.00,467.54 337.40,471.87 337.80,477.85 338.20,468.30 338.60,468.19 339.00,477.38 339.40,470.12 339.80,475.76 340.20,469.72 340.60,471.69 341.00,471.19 341.40,472.46 341.80,467.78 342.20,468.06 342.60,473.48 343.00,474.85 343.40,467.75 343.80,474.04 344.20,469.97 344.60,469.38 345.00,476.05 345.40,474.11 345.80,474.88 346.20,477.31 346.60,481.38 347.00,480.40 347.40,475.18 347.80,477.06 348.20,478.32 348.60,477.15 349.00,477.68 349.40,476.81 349.80,473.96 350.20,476.89 350.60,476.22 351.00,473.93 351.40,477.42 351.80,469.94 352.20,471.82 352.60,467.45 353.00,470.68 353.40,465.91 353.80,467.06 354.20,466.44 354.60,468.91 355.00,466.97 355.40,467.89 355.80,466.49 356.20,456.90 356.60,458.18 357.00,459.54 357.40,462.29 357.80,461.39 358.20,458.76 358.60,460.04 359.00,455.62 359.40,457.40 359.80,454.34 360.20,457.71 360.60,458.53 361.00,451.75 361.40,455.33 361.80,456.54 362.20,459.16 362.60,457.25 363.00,457.65 363.40,454.29 363.80,466.55 364.20,460.28 364.60,459.30 365.00,452.97 365.40,456.86 365.80,463.67 366.20,461.12 366.60,461.79 367.00,463.98 367.40,459.77 367.80,462.84 368.20,460.81 368.60,465.56 369.00,463.13 369.40,466.27 369.80,461.48 370.20,462.61 370.60,463.59 371.00,465.28 371.40,466.12 371.80,461.75 372.20,461.68 372.60,461.02 373.00,462.60 373.40,462.10 373.80,463.30 374.20,462.80 374.60,465.00 375.00,461.26 375.40,458.74 375.80,462.04 376.20,464.93 376.60,462.02 377.00,468.23 377.40,465.74 377.80,463.05 378.20,461.52 378.60,460.93 379.00,460.16 379.40,457.72 379.80,455.07 380.20,458.80 380.60,464.28 381.00,461.50 381.40,461.84 381.80,457.78 382.20,461.86 382.60,464.28 383.00,456.58 383.40,457.36 383.80,460.83 384.20,461.95 384.60,456.68 385.00,463.28 385.40,462.89 385.80,460.34 386.20,462.72 386.60,459.38 387.00,460.10 387.40,453.90 387.80,452.50 388.20,460.56 388.60,461.91 389.00,462.62 389.40,460.40 389.80,457.44 390.20,457.07 390.60,460.24 391.00,454.06 391.40,456.93 391.80,458.31 392.20,457.15 392.60,451.41 393.00,456.97 393.40,455.43 393.80,457.24 394.20,453.70 394.60,458.86 395.00,458.20 395.40,454.67 395.80,456.74 396.20,457.27 396.60,459.58 397.00,454.29 397.40,455.62 397.80,453.49 398.20,456.71 398.60,454.81 399.00,460.11 399.40,463.70 399.80,458.30 400.20,464.62 400.60,461.10 401.00,455.52 401.40,462.05 401.80,459.26 402.20,456.00 402.60,460.70 403.00,458.73 403.40,460.63 403.80,462.40 404.20,461.50 404.60,463.93 405.00,460.18 405.40,460.19 405.80,460.25 406.20,460.44 406.60,460.31 407.00,463.57 407.40,459.77 407.80,458.71 408.20,463.43 408.60,457.52 409.00,455.58 409.40,457.62 409.80,458.88 410.20,462.49 410.60,461.72 411.00,457.89 411.40,459.90 411.80,459.03 412.20,455.87 412.60,457.19 413.00,456.92 413.40,462.13 413.80,457.55 414.20,453.14 414.60,457.47 415.00,457.89 415.40,452.69 415.80,460.49 416.20,458.10 416.60,462.15 417.00,466.18 417.40,464.69 417.80,459.35 418.20,461.64 418.60,460.67 419.00,454.85 419.40,455.55 419.80,453.84 420.20,457.14 420.60,460.61 421.00,462.22 421.40,459.24 421.80,465.50 422.20,460.55 422.60,459.17 423.00,465.49 423.40,458.82 423.80,463.83 424.20,462.14 424.60,461.86 425.00,460.45 425.40,459.82 425.80,461.32 426.20,461.28 426.60,455.96 427.00,459.92 427.40,462.95 427.80,463.33 428.20,459.77 428.60,459.77 429.00,458.41 429.40,457.20 429.80,454.64 430.20,461.07 430.60,455.77 431.00,459.60 431.40,459.08 431.80,460.96 432.20,458.89 432.60,459.50 433.00,463.35 433.40,464.43 433.80,462.39 434.20,460.03 434.60,457.20 435.00,463.83 435.40,465.44 435.80,470.19 436.20,465.57 436.60,466.74 437.00,462.18 437.40,470.28 437.80,467.51 438.20,464.08 438.60,465.21 439.00,469.05 439.40,461.20 439.80,464.02 440.20,460.25 440.60,458.04 441.00,463.83 441.40,464.76 441.80,468.49 442.20,463.98 442.60,468.04 443.00,466.68 443.40,461.12 443.80,464.09 444.20,470.71 444.60,463.17 445.00,465.34 445.40,463.53 445.80,466.10 446.20,469.30 446.60,471.37 447.00,466.11 447.40,466.64 447.80,469.22 448.20,471.35 448.60,466.87 449.00,464.82 449.40,464.81 449.80,458.00 450.20,462.10 450.60,469.57 451.00,471.15 451.40,464.63 451.80,458.82 452.20,461.14 452.60,465.24 453.00,463.05 453.40,459.36 453.80,456.22 454.20,456.51 454.60,453.76 455.00,450.26 455.40,456.10 455.80,450.86 456.20,451.08 456.60,450.68 457.00,456.81 457.40,458.34 457.80,458.79 458.20,454.28 458.60,447.04 459.00,450.60 459.40,449.04 459.80,454.74 460.20,459.91 460.60,450.48 461.00,450.10 461.40,455.19 461.80,455.63 462.20,446.74 462.60,450.57 463.00,452.02 463.40,451.19 463.80,450.38 464.20,449.65 464.60,457.26 465.00,453.00 465.40,453.28 465.80,452.93 466.20,461.49 466.60,460.72 467.00,466.79 467.40,463.91 467.80,464.16 468.20,467.26 468.60,464.70 469.00,467.06 469.40,463.78 469.80,463.60 470.20,465.58 470.60,465.55 471.00,465.49 471.40,463.66 471.80,463.09 472.20,464.76 472.60,461.83 473.00,466.06 473.40,465.41 473.80,473.00 474.20,461.83 474.60,460.77 475.00,458.82 475.40,463.13 475.80,465.68 476.20,463.98 476.60,464.15 477.00,466.70 477.40,464.38 477.80,466.62 478.20,463.37 478.60,459.56 479.00,466.53 479.40,464.73 479.80,464.51 480.20,461.56 480.60,465.94 481.00,466.89 481.40,457.87 481.80,467.67 482.20,465.51 482.60,464.21 483.00,468.62 483.40,462.34 483.80,462.79 484.20,461.22 484.60,469.19 485.00,462.84 485.40,466.02 485.80,461.42 486.20,461.51 486.60,463.19 487.00,467.97 487.40,459.34 487.80,457.21 488.20,459.43 488.60,461.54 489.00,466.61 489.40,462.66 489.80,461.67 490.20,454.33 490.60,455.03 491.00,459.90 491.40,463.81 491.80,471.75 492.20,462.29 492.60,462.60 493.00,463.68 493.40,471.93 493.80,468.32 494.20,465.58 494.60,461.66 495.00,469.53 495.40,460.70 495.80,466.19 496.20,461.10 496.60,463.32 497.00,464.46 497.40,469.18 497.80,461.52 498.20,467.05 498.60,465.73 499.00,462.91 499.40,459.93 499.80,465.38 500.20,463.76 500.60,473.38 501.00,467.86 501.40,464.10 501.80,465.85 502.20,465.39 502.60,467.94 503.00,469.39 503.40,463.81 503.80,463.96 504.20,464.62 504.60,465.90 505.00,466.46 505.40,466.17 505.80,462.35 506.20,467.12 506.60,466.77 507.00,464.31 507.40,463.93 507.80,462.25 508.20,464.67 508.60,471.79 509.00,469.02 509.40,471.71 509.80,462.23 510.20,463.08 510.60,461.74 511.00,467.15 511.40,463.70 511.80,467.61 512.20,467.43 512.60,467.23 513.00,468.05 513.40,460.78 513.80,462.00 514.20,450.14 514.60,451.37 515.00,449.95 515.40,455.11 515.80,452.89 516.20,449.99 516.60,453.76 517.00,450.82 517.40,455.69 517.80,456.36 518.20,450.29 518.60,453.77 519.00,451.54 519.40,450.72 519.80,455.50 520.20,451.64 520.60,451.59 521.00,452.60 521.40,452.30 521.80,453.17 522.20,452.41 522.60,452.35 523.00,451.36 523.40,450.02 523.80,449.91 524.20,454.08 524.60,451.24 525.00,454.14 525.40,452.82 525.80,451.37 526.20,454.66 526.60,451.37 527.00,457.23 527.40,454.30 527.80,455.22 528.20,451.77 528.60,456.01 529.00,453.97 529.40,453.78 529.80,454.39 530.20,451.94 530.60,451.33 531.00,449.25 531.40,451.66 531.80,449.23 532.20,448.29 532.60,455.28 533.00,453.94 533.40,454.79 533.80,455.48 534.20,454.68 534.60,458.12 535.00,458.56 535.40,452.61 535.80,457.94 536.20,456.13 536.60,457.00 537.00,458.70 537.40,457.70 537.80,454.88 538.20,456.19 538.60,453.97 539.00,456.85 539.40,457.04 539.80,456.00 540.20,454.41 540.60,456.80 541.00,452.12 541.40,456.93 541.80,456.04 542.20,454.61 542.60,458.23 543.00,457.23 543.40,459.22 543.80,454.59 544.20,453.33 544.60,455.29 545.00,456.28 545.40,459.59 545.80,460.97 546.20,458.01 546.60,457.85 547.00,456.87 547.40,456.38 547.80,458.52 548.20,456.94 548.60,459.01 549.00,457.45 549.40,456.86 549.80,460.98 550.20,457.03 550.60,458.12 551.00,458.65 551.40,454.81 551.80,458.39 552.20,460.14 552.60,463.12 553.00,464.40 553.40,466.50 553.80,464.97 554.20,462.48 554.60,466.17 555.00,462.93 555.40,466.23 555.80,464.72 556.20,462.43 556.60,461.04 557.00,462.20 557.40,458.45 557.80,461.53 558.20,465.52 558.60,466.85 559.00,464.21 559.40,459.28 559.80,461.67 560.20,462.92 560.60,461.13 561.00,461.84 561.40,464.95 561.80,461.33 562.20,465.82 562.60,463.56 563.00,458.47 563.40,463.85 563.80,458.63 564.20,463.24 564.60,463.55 565.00,459.33 565.40,467.68 565.80,464.82 566.20,464.54 566.60,456.23 567.00,461.78 567.40,463.31 567.80,461.90 568.20,461.25 568.60,461.72 569.00,461.80 569.40,466.02 569.80,464.69 570.20,463.39 570.60,461.03 571.00,458.93 571.40,467.09 571.80,458.84 572.20,463.31 572.60,465.54 573.00,467.59 573.40,473.13 573.80,469.73 574.20,466.77 574.60,473.83 575.00,474.35 575.40,474.91 575.80,469.08 576.20,470.74 576.60,470.31 577.00,476.15 577.40,468.20 577.80,470.60 578.20,470.14 578.60,468.80 579.00,467.50 579.40,464.55 579.80,468.28 580.20,470.91 580.60,466.13 581.00,468.72 581.40,461.25 581.80,462.76 582.20,462.82 582.60,463.91 583.00,463.00 583.40,466.95 583.80,464.74 584.20,465.01 584.60,464.12 585.00,461.59 585.40,457.70 585.80,456.39 586.20,454.36 586.60,457.82 587.00,461.86 587.40,455.94 587.80,455.63 588.20,461.78 588.60,458.54 589.00,462.64 589.40,466.35 589.80,454.46 590.20,457.25 590.60,458.22 591.00,457.29 591.40,457.93 591.80,454.88 592.20,459.92 592.60,458.23 593.00,453.76" fill="none" stroke="#000" stroke-width="1.3" stroke-linejoin="round" />
</g>
<g clip-path="url(#c6)">
<polyline points="78.00,534.15 78.40,531.38 78.80,533.79 79.20,531.93 79.60,531.69 80.00,532.85 80.40,531.88 80.80,531.66 81.20,532.22 81.60,533.34 82.00,532.49 82.40,533.13 82.80,531.65 83.20,532.19 83.60,533.82 84.00,534.48 84.40,531.19 84.80,531.26 85.20,531.24 85.60,531.13 86.00,530.84 86.40,532.66 86.80,530.44 87.20,529.28 87.60,531.73 88.00,530.70 88.40,531.75 88.80,530.85 89.20,529.84 89.60,530.99 90.00,531.01 90.40,527.71 90.80,529.07 91.20,527.94 91.60,530.62 92.00,528.32 92.40,530.10 92.80,529.95 93.20,529.47 93.60,529.52 94.00,531.54 94.40,529.55 94.80,528.24 95.20,530.13 95.60,528.97 96.00,529.73 96.40,529.73 96.80,529.49 97.20,529.22 97.60,531.27 98.00,528.96 98.40,529.20 98.80,529.64 99.20,528.64 99.60,529.67 100.00,529.81 100.40,528.64 100.80,530.68 101.20,527.03 101.60,528.73 102.00,528.24 102.40,528.92 102.80,528.10 103.20,527.98 103.60,527.44 104.00,527.82 104.40,525.80 104.80,529.00 105.20,526.05 105.60,526.72 106.00,526.64 106.40,527.17 106.80,528.07 107.20,528.79 107.60,530.19 108.00,527.46 108.40,526.86 108.80,527.04 109.20,528.71 109.60,528.20 110.00,527.83 110.40,526.08 110.80,527.42 111.20,531.10 111.60,533.33 112.00,533.78 112.40,532.70 112.80,530.78 113.20,530.32 113.60,530.89 114.00,529.46 114.40,531.10 114.80,529.40 115.20,528.14 115.60,532.28 116.00,529.87 116.40,534.31 116.80,533.86 117.20,534.31 117.60,533.05 118.00,535.59 118.40,533.00 118.80,533.45 119.20,532.40 119.60,532.72 120.00,533.58 120.40,535.25 120.80,535.93 121.20,534.59 121.60,534.95 122.00,535.11 122.40,533.25 122.80,536.32 123.20,535.16 123.60,536.01 124.00,534.98 124.40,534.54 124.80,534.93 125.20,537.08 125.60,535.98 126.00,535.63 126.40,536.50 126.80,536.57 127.20,536.22 127.60,536.00 128.00,536.89 128.40,535.72 128.80,538.21 129.20,536.47 129.60,536.78 130.00,535.98 130.40,536.86 130.80,537.60 131.20,537.74 131.60,537.68 132.00,537.22 132.40,537.19 132.80,536.56 133.20,536.88 133.60,536.71 134.00,538.29 134.40,538.19 134.80,537.85 135.20,537.97 135.60,537.91 136.00,536.49 136.40,537.12 136.80,537.01 137.20,535.39 137.60,535.48 138.00,534.94 138.40,535.27 138.80,535.80 139.20,534.67 139.60,534.33 140.00,535.34 140.40,535.62 140.80,536.11 141.20,533.89 141.60,534.32 142.00,533.61 142.40,532.96 142.80,533.08 143.20,533.56 143.60,533.36 144.00,532.82 144.40,533.47 144.80,532.29 145.20,532.44 145.60,532.82 146.00,531.26 146.40,532.00 146.80,531.96 147.20,531.26 147.60,530.43 148.00,532.15 148.40,532.22 148.80,532.73 149.20,532.89 149.60,533.46 150.00,536.14 150.40,535.50 150.80,535.17 151.20,533.92 151.60,532.56 152.00,533.07 152.40,533.05 152.80,531.78 153.20,531.29 153.60,529.94 154.00,530.72 154.40,531.96 154.80,532.19 155.20,533.22 155.60,531.92 156.00,532.88 156.40,534.08 156.80,534.55 157.20,533.12 157.60,533.79 158.00,533.02 158.40,534.87 158.80,534.68 159.20,534.86 159.60,535.02 160.00,535.79 160.40,534.35 160.80,533.62 161.20,534.22 161.60,534.65 162.00,534.50 162.40,534.18 162.80,537.36 163.20,534.45 163.60,534.67 164.00,537.18 164.40,536.93 164.80,535.54 165.20,532.93 165.60,536.75 166.00,535.42 166.40,536.78 166.80,536.94 167.20,535.93 167.60,536.59 168.00,535.30 168.40,537.04 168.80,537.59 169.20,536.65 169.60,538.01 170.00,537.77 170.40,539.01 170.80,537.62 171.20,537.78 171.60,537.33 172.00,538.45 172.40,536.78 172.80,538.80 173.20,538.16 173.60,537.68 174.00,538.17 174.40,536.98 174.80,540.61 175.20,538.48 175.60,537.23 176.00,537.65 176.40,538.88 176.80,537.05 177.20,538.39 177.60,537.43 178.00,537.91 178.40,540.18 178.80,540.53 179.20,539.10 179.60,537.52 180.00,540.34 180.00,534.50 180.30,540.34 180.40,541.69 180.80,540.08 181.20,539.87 181.60,540.31 182.00,537.43 182.40,539.86 182.80,539.25 183.20,539.18 183.60,541.15 184.00,539.67 184.40,541.24 184.80,541.17 185.20,538.37 185.60,538.47 186.00,540.82 186.40,541.44 186.80,540.50 187.20,541.72 187.60,541.65 188.00,540.82 188.40,541.36 188.80,542.71 189.20,540.78 189.60,542.62 190.00,540.00 190.00,536.50 190.30,540.00 190.40,540.82 190.80,541.81 191.20,542.46 191.60,540.76 192.00,542.42 192.40,543.09 192.80,541.11 193.20,540.75 193.60,539.85 194.00,539.15 194.40,539.49 194.80,541.45 195.20,541.03 195.60,542.58 196.00,540.57 196.40,541.10 196.80,540.74 197.20,540.12 197.60,539.63 198.00,539.78 198.40,540.70 198.80,539.00 199.20,539.67 199.60,541.29 200.00,540.91 200.40,539.89 200.80,539.06 201.20,541.35 201.60,542.41 202.00,541.72 202.40,542.41 202.80,541.28 203.20,542.93 203.60,540.59 204.00,541.22 204.40,542.90 204.80,543.76 205.20,542.19 205.60,543.78 206.00,542.69 206.40,543.01 206.80,542.93 207.20,543.44 207.60,542.49 208.00,544.33 208.40,544.93 208.80,544.39 209.20,543.03 209.60,543.51 210.00,544.54 210.40,542.67 210.80,544.64 211.20,543.69 211.60,542.82 212.00,545.32 212.40,545.28 212.80,543.33 213.20,545.58 213.60,545.68 214.00,546.31 214.40,545.75 214.80,545.37 215.20,544.44 215.60,545.36 216.00,545.47 216.40,545.68 216.80,546.50 217.20,546.92 217.60,546.00 218.00,546.09 218.40,546.21 218.80,546.98 219.20,545.78 219.60,546.76 220.00,548.55 220.40,546.86 220.80,546.84 221.20,544.37 221.60,547.32 222.00,549.74 222.40,546.62 222.80,548.82 223.20,550.16 223.60,548.45 224.00,548.69 224.40,546.91 224.80,551.01 225.20,550.13 225.60,548.35 226.00,547.76 226.40,547.80 226.80,550.23 227.20,549.14 227.60,555.98 228.00,555.37 228.40,552.88 228.80,551.76 229.20,554.90 229.60,553.77 230.00,554.72 230.40,553.22 230.80,552.03 231.20,550.11 231.60,549.70 232.00,547.63 232.40,547.74 232.80,544.87 233.20,555.12 233.60,556.66 234.00,556.26 234.40,553.91 234.80,553.39 235.20,553.49 235.60,559.50 236.00,551.17 236.40,558.59 236.80,558.68 237.20,552.82 237.60,552.36 238.00,560.13 238.40,561.77 238.80,556.52 239.20,554.59 239.60,554.46 240.00,561.00 240.40,560.24 240.80,550.67 241.20,562.45 241.60,563.34 242.00,558.39 242.40,565.96 242.80,565.55 243.20,565.03 243.60,559.42 244.00,564.86 244.40,564.41 244.80,565.82 245.20,565.81 245.60,560.03 246.00,567.71 246.40,562.48 246.80,561.64 247.20,563.25 247.60,559.58 248.00,560.86 248.40,561.84 248.80,555.92 249.20,555.38 249.60,555.72 250.00,557.64 250.40,556.71 250.80,555.51 251.20,554.08 251.60,549.46 252.00,551.60 252.40,550.60 252.80,548.21 253.20,550.38 253.60,551.00 254.00,550.60 254.40,549.80 254.80,549.18 255.20,551.99 255.60,550.98 256.00,554.71 256.40,550.73 256.80,550.32 257.20,550.04 257.60,549.08 258.00,550.71 258.40,552.27 258.80,551.28 259.20,551.60 259.60,549.95 260.00,548.53 260.40,552.03 260.80,547.23 261.20,552.50 261.60,549.95 262.00,552.80 262.40,554.20 262.80,554.67 263.20,553.22 263.60,550.13 264.00,553.53 264.40,549.50 264.80,550.61 265.20,551.36 265.60,555.91 266.00,552.33 266.40,553.66 266.80,553.63 267.20,552.29 267.60,550.03 268.00,550.38 268.40,553.21 268.80,555.72 269.20,556.63 269.60,554.16 270.00,553.51 270.40,552.07 270.80,552.73 271.20,550.60 271.60,554.03 272.00,558.08 272.40,551.51 272.80,553.27 273.20,549.07 273.60,550.85 274.00,551.60 274.40,551.34 274.80,551.76 275.20,551.39 275.60,553.55 276.00,552.70 276.40,550.13 276.80,552.69 277.20,549.89 277.60,551.51 278.00,550.32 278.40,552.77 278.80,548.64 279.20,553.23 279.60,552.79 280.00,550.47 280.40,547.39 280.80,553.15 281.20,551.14 281.60,552.05 282.00,552.41 282.40,549.63 282.80,554.39 283.20,550.87 283.60,553.36 284.00,553.53 284.40,553.27 284.80,550.54 285.20,551.48 285.60,553.74 286.00,554.56 286.40,552.27 286.80,551.64 287.20,549.82 287.60,549.46 288.00,549.65 288.40,551.30 288.80,549.34 289.20,550.67 289.60,549.79 290.00,548.64 290.40,549.11 290.80,549.76 291.20,551.08 291.60,553.06 292.00,553.95 292.40,551.96 292.80,551.90 293.20,552.44 293.60,550.10 294.00,551.92 294.40,550.25 294.80,553.10 295.20,550.11 295.60,548.33 296.00,546.39 296.40,548.23 296.80,548.30 297.20,549.04 297.60,549.58 298.00,548.19 298.40,545.15 298.80,545.23 299.20,548.44 299.60,545.77 300.00,545.45 300.40,546.78 300.80,546.28 301.20,548.84 301.60,548.41 302.00,549.44 302.40,549.05 302.80,547.69 303.20,544.20 303.60,547.43 304.00,545.65 304.40,545.45 304.80,547.62 305.20,544.40 305.60,546.25 306.00,544.97 306.40,543.53 306.80,545.33 307.20,543.30 307.60,543.15 308.00,541.90 308.40,544.22 308.80,543.94 309.20,542.94 309.60,541.72 310.00,541.04 310.40,542.10 310.80,540.18 311.20,542.79 311.60,540.30 312.00,542.22 312.40,541.01 312.80,540.28 313.20,542.94 313.60,541.82 314.00,540.03 314.40,541.15 314.80,541.28 315.20,540.35 315.60,541.05 316.00,539.74 316.40,541.10 316.80,541.90 317.20,542.68 317.60,543.56 318.00,540.72 318.40,542.29 318.80,541.01 319.20,541.91 319.60,541.23 320.00,541.20 320.40,541.22 320.80,541.38 321.20,540.63 321.60,540.92 322.00,541.61 322.40,540.80 322.80,541.01 323.20,541.81 323.60,542.54 324.00,540.39 324.40,541.46 324.80,542.36 325.20,542.52 325.60,541.98 326.00,542.57 326.40,542.01 326.80,542.65 327.20,540.61 327.60,541.75 328.00,542.44 328.40,543.04 328.80,543.96 329.20,541.22 329.60,541.92 330.00,543.28 330.40,541.01 330.80,541.77 331.20,542.89 331.60,543.46 332.00,543.03 332.40,542.17 332.80,541.21 333.20,542.42 333.60,542.78 334.00,542.61 334.40,544.95 334.80,542.32 335.20,539.69 335.60,541.02 336.00,539.47 336.40,540.41 336.80,540.44 337.20,541.15 337.60,539.09 338.00,538.78 338.40,541.82 338.80,540.30 339.20,543.15 339.60,543.79 340.00,542.71 340.40,542.50 340.80,538.44 341.20,541.46 341.60,541.49 342.00,539.67 342.40,541.37 342.80,539.66 343.20,540.11 343.60,542.75 344.00,542.73 344.40,543.02 344.80,541.06 345.20,541.45 345.60,541.76 346.00,541.57 346.40,540.08 346.80,539.86 347.20,542.56 347.60,541.18 348.00,541.18 348.40,541.70 348.80,540.39 349.20,541.10 349.60,542.95 350.00,543.06 350.40,541.83 350.80,542.30 351.20,544.18 351.60,543.04 352.00,543.74 352.40,543.18 352.80,543.56 353.20,541.19 353.60,548.33 354.00,547.46 354.40,548.62 354.80,547.37 355.20,545.76 355.60,549.45 356.00,548.81 356.40,547.29 356.80,546.50 357.20,550.74" fill="none" stroke="#000" stroke-width="1.3" stroke-linejoin="round" />
<polyline points="359.00,560.94 359.40,569.25 359.80,564.08 360.20,558.74 360.60,560.38 361.00,561.73 361.40,554.93 361.80,554.13 362.20,558.48 362.60,560.10 363.00,560.90 363.40,559.88 363.80,562.22 364.20,562.65 364.60,558.74 365.00,562.92 365.40,560.91 365.80,561.24 366.20,564.07 366.60,559.71 367.00,562.31 367.40,564.47 367.80,559.59 368.20,559.04 368.60,559.96 369.00,559.95 369.40,560.56 369.80,557.95 370.20,557.42 370.60,565.60 371.00,561.34 371.40,559.05 371.80,560.42 372.20,560.15 372.60,560.28 373.00,558.82 373.40,560.08 373.80,560.22 374.20,557.31 374.60,558.19 375.00,559.20 375.40,558.89 375.80,560.09 376.20,560.21 376.60,558.62 377.00,561.77 377.40,559.00 377.80,558.18 378.20,558.42 378.60,556.33 379.00,561.02 379.40,559.00 379.80,562.32 380.20,559.90 380.60,563.83 381.00,561.29 381.40,561.42 381.80,560.46 382.20,560.84 382.60,559.64 383.00,560.23 383.40,561.01 383.80,562.18 384.20,560.86 384.60,562.01 385.00,560.15 385.40,558.62 385.80,560.76 386.20,560.54 386.60,559.49 387.00,560.63 387.40,562.36 387.80,560.50 388.20,560.21 388.60,560.24 389.00,556.29 389.40,559.55 389.80,559.59 390.20,560.42 390.60,559.86 391.00,559.98 391.40,562.21 391.80,560.95 392.20,560.77 392.60,559.40 393.00,560.47 393.40,560.10 393.80,558.57 394.20,560.87 394.60,559.85 395.00,559.21 395.40,559.51 395.80,560.68 396.20,560.35 396.60,557.50 397.00,561.07 397.40,560.48 397.80,558.86 398.20,562.66 398.60,559.09 399.00,560.33 399.40,561.32 399.80,558.18 400.20,560.10 400.60,558.28 401.00,560.56 401.40,560.89 401.80,561.42 402.20,559.90 402.60,560.91 403.00,563.40 403.40,561.30 403.80,560.80 404.20,559.70 404.60,561.52 405.00,559.95 405.40,559.69 405.80,557.57 406.20,560.38 406.60,563.78 407.00,560.43 407.40,561.48 407.80,560.77 408.20,564.93 408.60,561.40 409.00,558.84 409.40,559.20 409.80,560.05 410.20,560.62 410.60,559.25 411.00,562.05 411.40,559.95 411.80,560.58 412.20,560.66 412.60,562.10 413.00,559.96 413.40,558.76 413.80,559.23 414.20,560.76 414.60,561.03 415.00,556.68 415.40,559.95 415.80,558.70 416.20,558.52 416.60,555.93 417.00,560.91 417.40,559.01 417.80,557.56 418.20,556.89 418.60,560.75 419.00,559.85 419.40,558.91 419.80,557.51 420.20,558.94 420.60,559.13 421.00,558.21 421.40,559.11 421.80,557.19 422.20,560.42 422.60,559.91 423.00,560.04 423.40,558.69 423.80,564.21 424.20,560.44 424.60,562.86 425.00,560.92 425.40,563.61 425.80,563.48 426.20,560.44 426.60,560.04 427.00,565.14 427.40,563.65 427.80,566.51 428.20,559.89 428.60,560.52 429.00,561.24 429.40,564.90 429.80,563.19 430.20,563.79 430.60,567.57 431.00,565.65 431.40,565.94 431.80,564.43 432.20,567.16 432.60,564.97 433.00,567.59 433.40,565.85 433.80,567.09 434.20,565.18 434.60,567.16 435.00,569.12 435.40,567.87 435.80,565.36 436.20,566.61 436.60,568.14 437.00,565.22 437.40,567.34 437.80,564.91 438.20,568.31 438.60,567.77 439.00,566.56 439.40,566.84 439.80,567.63 440.20,570.49 440.60,567.34 441.00,567.74 441.40,568.29 441.80,568.32 442.20,566.58 442.60,567.04 443.00,568.02 443.40,566.73 443.80,565.71 444.20,567.28 444.60,566.29 445.00,566.77 445.40,568.25 445.80,569.29 446.20,567.55 446.60,567.37 447.00,567.85 447.40,567.69 447.80,568.48 448.20,570.12 448.60,568.21 449.00,569.64 449.40,567.63 449.80,566.93 450.20,569.14 450.60,566.12 451.00,566.71 451.40,567.51 451.80,568.03 452.20,569.66 452.60,570.94 453.00,570.30 453.40,569.94 453.80,572.66 454.20,570.73 454.60,571.70 455.00,573.89 455.40,576.05 455.80,575.53 456.20,575.11 456.60,577.28 457.00,575.11 457.40,577.36 457.80,578.25 458.20,580.73 458.60,580.22 459.00,582.12 459.40,581.95 459.80,584.14 460.20,583.91 460.60,586.55 461.00,586.26 461.40,583.44 461.80,581.26 462.20,578.06 462.60,580.94 463.00,582.65 463.40,582.91 463.80,581.28 464.20,582.57 464.60,583.74 465.00,581.38 465.40,584.83 465.80,582.06 466.20,578.63 466.60,580.12 467.00,582.82 467.40,582.69 467.80,585.28 468.20,587.07 468.60,584.03 469.00,587.18 469.40,583.81 469.80,583.17 470.20,579.75 470.60,578.33 471.00,577.88 471.40,579.26 471.80,579.83 472.20,578.69 472.60,579.51 473.00,576.43 473.40,577.85 473.80,581.47 474.20,580.03 474.60,576.91 475.00,579.15 475.40,579.06 475.80,576.35 476.20,580.60 476.60,581.09 477.00,577.24 477.40,579.88 477.80,579.31 478.20,577.49 478.60,577.02 479.00,579.41 479.40,578.55 479.80,578.99 480.20,579.62 480.60,576.76 481.00,579.39 481.00,595.00 481.30,579.39 481.40,580.80 481.80,577.33 482.20,577.93 482.60,577.23 483.00,577.63 483.40,579.15 483.80,577.07 484.20,580.09 484.60,577.29 485.00,579.08 485.40,579.95 485.80,579.66 486.20,581.38 486.60,578.35 487.00,576.30 487.40,578.41 487.80,579.15 488.20,579.13 488.60,580.69 489.00,578.62 489.40,577.23 489.80,579.21 490.20,580.19 490.60,581.39 491.00,576.99 491.40,576.09 491.80,579.32 492.20,578.84 492.60,579.43 493.00,578.33 493.40,578.18 493.80,577.82 494.20,576.90 494.60,578.80 495.00,576.85 495.40,577.48 495.80,579.65 496.20,578.75 496.60,577.68 497.00,578.76 497.40,579.08 497.80,577.62 498.20,578.62 498.60,581.18 499.00,579.81 499.40,577.77 499.80,575.34 500.20,577.81 500.60,578.47 501.00,576.18 501.40,578.34 501.80,579.75 502.20,581.42 502.60,579.57 503.00,579.03 503.40,577.27 503.80,579.52 504.20,579.15 504.60,577.93 505.00,579.25 505.40,576.44 505.80,578.04 506.20,576.92 506.60,578.71 507.00,577.08 507.00,589.00 507.30,577.08 507.40,575.83 507.80,581.67 508.20,582.30 508.60,579.58 509.00,582.20 509.40,580.11 509.80,578.88 510.20,579.98 510.60,581.33 511.00,580.32 511.40,579.33 511.80,578.84 512.20,579.79 512.60,583.20 513.00,589.17 513.40,590.44 513.80,588.80 514.20,590.49 514.60,594.27 515.00,591.54 515.40,592.18 515.80,593.56 516.20,590.95 516.60,595.87 517.00,590.41 517.40,590.30 517.80,591.61 518.20,590.42 518.60,593.68 519.00,590.19 519.40,594.99 519.80,591.16 520.20,593.65 520.60,593.13 521.00,587.75 521.40,592.87 521.80,592.87 522.20,588.94 522.60,591.31 523.00,591.21 523.40,594.98 523.80,592.94 524.20,590.02 524.60,590.12 525.00,589.85 525.40,587.19 525.80,591.74 526.20,591.56 526.60,591.87 527.00,590.17 527.40,592.42 527.80,590.46 528.20,591.62 528.60,588.81 529.00,589.29 529.40,591.94 529.80,588.57 530.20,591.62 530.60,587.62 531.00,592.59 531.40,591.76 531.80,587.82 532.20,592.92 532.60,589.11 533.00,593.07 533.40,588.48 533.80,588.38 534.20,586.74 534.60,588.52 535.00,593.23 535.40,593.72 535.80,587.46 536.20,592.26 536.60,593.36 537.00,588.53 537.40,588.34 537.80,588.63 538.20,592.32 538.60,594.20 539.00,590.55 539.40,589.80 539.80,591.37 540.20,592.87 540.60,584.63 541.00,589.92 541.40,591.03 541.80,592.59 542.20,590.67 542.60,587.37 543.00,588.00 543.40,590.36 543.80,589.48 544.20,587.99 544.60,588.95 545.00,589.49 545.40,590.49 545.80,586.66 546.20,593.24 546.60,591.43 547.00,586.65 547.40,590.08 547.80,589.41 548.20,589.77 548.60,586.11 549.00,587.71 549.40,591.74 549.80,591.08 550.20,593.49 550.60,590.51 551.00,594.09 551.40,589.39 551.80,589.29 552.20,589.60 552.60,590.13 553.00,585.14 553.40,591.15 553.80,592.89 554.20,587.08 554.60,590.00 555.00,588.28 555.40,588.11 555.80,589.45 556.20,585.03 556.60,587.65 557.00,584.23 557.40,581.49 557.80,588.73 558.20,597.59 558.60,588.15 559.00,587.36 559.40,596.42 559.80,592.95 560.20,590.82 560.60,596.29 561.00,594.58 561.40,588.77 561.80,583.69 562.20,591.18 562.60,586.84 563.00,588.34 563.40,590.93 563.80,590.17 564.20,590.31 564.60,589.50 565.00,593.72 565.40,589.21 565.80,590.78 566.20,597.54 566.60,590.31 567.00,592.25 567.40,596.26 567.80,593.82 568.20,585.97 568.60,587.96 569.00,590.58 569.40,592.25 569.80,588.32 570.20,590.16 570.60,586.19 571.00,587.85 571.40,592.23 571.80,596.81 572.20,592.64 572.60,591.98 573.00,596.77 573.40,586.23 573.80,593.31 574.20,587.68 574.60,588.07 575.00,585.66 575.40,593.08 575.80,593.75 576.20,593.82 576.60,599.73 577.00,600.75 577.40,591.78 577.80,584.00 578.20,589.24 578.60,594.64 579.00,591.05 579.40,587.63 579.80,601.04 580.20,596.99 580.60,595.44 581.00,597.57 581.40,589.23 581.80,593.10 582.20,595.53 582.60,602.59 583.00,598.49 583.40,591.92 583.80,595.52 584.20,592.54 584.60,593.78 585.00,596.60 585.40,599.22 585.80,602.49 586.20,588.19 586.60,597.13 587.00,600.36 587.40,593.29 587.80,596.08 588.20,598.29 588.60,596.07 589.00,598.71 589.40,601.50 589.80,591.82 590.20,590.39 590.60,588.72 591.00,596.12 591.40,599.49 591.80,604.89 592.20,599.49 592.60,606.68 593.00,601.29" fill="none" stroke="#000" stroke-width="1.3" stroke-linejoin="round" />
</g>
<g clip-path="url(#c7)">
<polyline points="78.00,644.74 78.55,642.14 79.10,643.90 79.65,648.16 80.20,650.14 80.75,642.10 81.30,638.94 81.85,636.96 82.40,640.18 82.95,644.16 83.50,647.11 84.05,643.24 84.60,643.84 85.15,637.39 85.70,646.46 86.25,644.90 86.80,641.60 87.35,651.33 87.90,646.22 88.45,651.22 89.00,642.37 89.55,640.62 90.10,646.46 90.65,644.83 91.20,635.07 91.75,649.07 92.30,651.74 92.85,647.22 93.40,638.78 93.95,640.87 94.50,651.27 95.05,637.53 95.60,646.59 96.15,646.05 96.70,647.24 97.25,640.38 97.80,637.96 98.35,638.93 98.90,654.41 99.45,648.61 100.00,645.85 100.55,642.98 101.10,638.34 101.65,643.73 102.20,636.62 102.75,643.96 103.30,650.46 103.85,634.89 104.40,641.20 104.95,636.69 105.50,644.01 106.05,643.31 106.60,644.22 107.15,652.25 107.70,650.96 108.25,648.18 108.80,643.89 109.35,648.77 109.90,640.10 110.45,643.66 111.00,638.57 111.55,638.05 112.10,640.00 112.65,649.93 113.20,638.13 113.75,639.20 114.30,651.31 114.85,649.45 115.40,649.33 115.95,646.53 116.50,639.64 117.05,648.56 117.60,638.33 118.15,648.52 118.70,644.88 119.25,646.10 119.80,643.80 120.35,643.01 120.90,644.45 121.45,643.79 122.00,643.03 122.55,643.99 123.10,641.94 123.65,640.58 124.20,642.92 124.75,644.58 125.30,644.40 125.85,643.50 126.40,643.16 126.95,644.13 127.50,641.62 128.05,642.49 128.60,640.58 129.15,641.70 129.70,644.82 130.25,644.95 130.80,640.58 131.35,641.08 131.90,643.00 132.45,643.13 133.00,642.10 133.55,644.13 134.10,647.73 134.65,650.10 135.20,646.72 135.75,648.98 136.30,648.80 136.85,643.71 137.40,646.23 137.95,646.78 138.50,646.26 139.05,646.13 139.60,648.87 140.15,646.76 140.70,645.28 141.25,647.06 141.80,646.41 142.35,647.66 142.90,647.12 143.45,644.06 144.00,646.57 144.55,645.28 145.10,643.59 145.65,648.48 146.20,646.58 146.75,646.16 147.30,647.95 147.85,648.10 148.40,645.17 148.95,646.11 149.50,643.75 150.05,646.27 150.60,647.18 151.15,648.20 151.70,646.14 152.25,648.45 152.80,645.56 153.35,649.08 153.90,651.03 154.45,651.64 155.00,652.72 155.55,651.34 156.10,647.82 156.65,652.14 157.20,646.38 157.75,647.71 158.30,646.65 158.85,645.43 159.40,647.16 159.95,647.64 160.50,645.47 161.05,647.60 161.60,645.72 162.15,646.42 162.70,643.96 163.25,643.85 163.80,646.85 164.35,649.27 164.90,646.88 165.45,649.57 166.00,644.70 166.55,647.15 167.10,647.06 167.65,646.80 168.20,647.79 168.75,647.25 169.30,646.56 169.85,645.16 170.40,648.14 170.95,647.79 171.50,645.00 172.05,645.51 172.60,647.21 173.15,656.81 173.70,647.19 174.25,649.86 174.80,646.19 175.35,649.02 175.90,651.80 176.45,649.40 177.00,650.84 177.55,651.27 178.10,646.90 178.65,649.02 179.20,658.41 179.75,650.02 180.30,650.60 180.85,654.22 181.40,639.78 181.95,646.26 182.50,640.61 183.05,649.92 183.60,652.19 184.15,651.38 184.70,655.38 185.25,647.80 185.80,650.22 186.35,646.79 186.90,651.61 187.45,648.32 188.00,642.17 188.55,652.72 189.10,646.44 189.65,646.72 190.20,636.43 190.75,648.84 191.30,648.97 191.85,649.43 192.40,653.87 192.95,643.76 193.50,645.09 194.05,641.78 194.60,648.75 195.15,638.89 195.70,648.55 196.25,650.48 196.80,647.71 197.35,643.41 197.90,639.05 198.45,647.63 199.00,643.45 199.55,649.81 200.10,643.55 200.65,650.33 201.20,645.50 201.75,642.35 202.30,645.80 202.85,641.71 203.40,645.33 203.95,645.90 204.50,641.91 205.05,644.41 205.60,645.53 206.15,642.43 206.70,645.48 207.25,646.93 207.80,643.49 208.35,645.04 208.90,643.79 209.45,647.76 210.00,646.45 210.55,647.70 211.10,645.23 211.65,649.54 212.20,643.96 212.75,647.58 213.30,642.40 213.85,638.90 214.40,645.15 214.95,642.96 215.50,640.78 216.05,642.70 216.60,643.51 217.15,644.20 217.70,645.58 218.25,646.20 218.80,640.88 219.35,642.13 219.90,643.50 220.45,645.48 221.00,642.45 221.55,641.19 222.10,642.52 222.65,644.02 223.20,643.73 223.75,644.40 224.30,640.01 224.85,640.32 225.40,644.15 225.95,644.18 226.50,637.64 227.05,640.49 227.60,635.61 228.15,636.93 228.70,633.15 229.25,636.21 229.80,635.43 230.35,629.72 230.90,627.70 231.45,622.74 232.00,630.74 232.55,628.86 233.10,628.10 233.65,632.27 234.20,625.06 234.75,619.46 235.30,623.59 235.85,624.21 236.40,633.33 236.95,631.84 237.50,626.72 238.05,623.18 238.60,627.07 239.15,632.72 239.70,630.30 240.25,624.45 240.80,621.35 241.35,626.32 241.90,626.61 242.45,629.91 243.00,629.75 243.55,616.06 244.10,622.77 244.65,635.62 245.20,626.06 245.75,628.82 246.30,632.04 246.85,631.01 247.40,634.44 247.95,631.25 248.50,627.55 249.05,623.52 249.60,622.96 250.15,629.51 250.70,632.54 251.25,622.96 251.80,624.28 252.35,619.03 252.90,620.08 253.45,629.10 254.00,641.79 254.55,637.64 255.10,639.41 255.65,637.68 256.20,640.04 256.75,640.31 257.30,638.35 257.85,641.33 258.40,641.91 258.95,640.91 259.50,639.13 260.05,638.17 260.60,632.49 261.15,630.39 261.70,632.61 262.25,637.87 262.80,634.87 263.35,637.97 263.90,628.56 264.45,634.96 265.00,631.69 265.55,636.87 266.10,637.32 266.65,635.08 267.20,637.37 267.75,637.26 268.30,635.57 268.85,634.22 269.40,633.99 269.95,634.63 270.50,635.10 271.05,634.18 271.60,633.88 272.15,636.91 272.70,636.80 273.25,634.40 273.80,642.80 274.35,634.74 274.90,637.94 275.45,632.56 276.00,641.65 276.55,637.85 277.10,630.32 277.65,635.61 278.20,638.72 278.75,638.97 279.30,638.80 279.85,638.50 280.40,637.60 280.95,641.64 281.50,641.08 282.05,634.89 282.60,636.62 283.15,632.58 283.70,630.88 284.25,639.06 284.80,638.61 285.35,639.54 285.90,640.43 286.45,635.33 287.00,636.78 287.55,636.93 288.10,641.02 288.65,632.92 289.20,639.47 289.75,639.98 290.30,640.79 290.85,639.09 291.40,638.36 291.95,640.70 292.50,640.47 293.05,635.41 293.60,638.03 294.15,630.93 294.70,641.21 295.25,643.53 295.80,648.16 296.35,649.64 296.90,650.08 297.45,649.05 298.00,647.54 298.55,650.65 299.10,648.91 299.65,643.56 300.20,646.97 300.75,650.81 301.30,646.81 301.85,650.15 302.40,646.53 302.95,649.75 303.50,648.38 304.05,646.94 304.60,648.47 305.15,649.43 305.70,642.52 306.25,648.20 306.80,647.82 307.35,649.56 307.90,652.32 308.45,652.34 309.00,654.39 309.55,651.88 310.10,653.25 310.65,651.16 311.20,650.99 311.75,648.59 312.30,650.29 312.85,648.66 313.40,655.32 313.95,650.11 314.50,651.50 315.05,654.09 315.60,651.24 316.15,654.63 316.70,654.26 317.25,653.83 317.80,655.42 318.35,659.15 318.90,652.03 319.45,657.85 320.00,659.42 320.55,659.99 321.10,659.34 321.65,660.62 322.20,661.47 322.75,662.51 323.30,658.27 323.85,656.85 324.40,662.38 324.95,665.79 325.50,660.58 326.05,665.47 326.60,663.56 327.15,665.05 327.70,664.35 328.25,659.98 328.80,661.62 329.35,666.32 329.90,666.32 330.45,665.07 331.00,665.12 331.55,663.46 332.10,660.88 332.65,649.86 333.20,644.57 333.75,647.74 334.30,640.75 334.85,636.87 335.40,648.32 335.95,648.24 336.50,645.45 337.05,643.09 337.60,640.04 338.15,643.48 338.70,646.57 339.25,643.77 339.80,647.17 340.00,667.00 340.30,647.17 340.35,649.50 340.90,647.25 341.45,647.60 342.00,644.80 342.55,644.99 343.10,645.57 343.65,643.91 344.20,644.52 344.75,647.66 345.30,649.77 345.85,647.49 346.40,647.17 346.95,646.13 347.50,649.39 348.05,649.26 348.60,649.91 349.15,647.23 349.70,650.61 350.25,648.06 350.80,647.14 351.35,649.14 351.90,646.88 352.45,646.48 353.00,641.45 353.55,644.99 354.10,642.88 354.65,648.85 355.20,646.97 355.75,642.02 356.30,639.18 356.85,637.27 357.40,637.86 357.95,637.94 358.50,635.21 359.05,632.82 359.60,635.11 360.15,632.74 360.70,637.16 361.25,631.13 361.80,628.14 362.35,631.30 362.90,621.70 363.45,628.90 364.00,630.71 364.55,626.71 365.10,621.97 365.65,620.14 366.20,620.43 366.75,620.54 367.30,621.06 367.85,618.44 368.40,622.61 368.95,622.49 369.50,622.83 370.05,626.75 370.60,621.07 371.15,621.33 371.70,626.21 372.25,625.07 372.80,619.93 373.35,622.48 373.90,619.72 374.45,621.49 375.00,617.84 375.55,623.40 376.10,623.28 376.65,618.64 377.20,623.41 377.75,616.76 378.30,618.75 378.85,620.31 379.40,620.82 379.95,615.94 380.50,622.68 381.05,618.34 381.60,621.15 382.15,620.91 382.70,624.64 383.25,623.47 383.80,626.90 384.35,625.55 384.90,624.85 385.45,624.91 386.00,625.75 386.55,627.20 387.10,625.26 387.65,623.37 388.20,621.90 388.75,622.85 389.30,627.52 389.85,623.42 390.40,627.83 390.95,624.61 391.50,626.99 392.05,627.10 392.60,626.68 393.15,625.40 393.70,625.29 394.25,630.20 394.80,629.07 395.35,629.52 395.90,630.60 396.45,630.75 397.00,627.81 397.55,634.55 398.10,635.27 398.65,635.58 399.20,633.16 399.75,632.06 400.30,631.54 400.85,633.49 401.40,635.54 401.95,634.84 402.50,634.46 403.05,643.61 403.60,634.49 404.15,637.52 404.70,638.11 405.25,638.76 405.80,635.95 406.35,631.11 406.90,635.03 407.45,636.92 408.00,636.15 408.55,635.39 409.10,634.30 409.65,629.98 410.20,638.80 410.75,646.92 411.30,645.80 411.85,641.86 412.40,639.32 412.95,636.82 413.50,640.33 414.05,637.02 414.60,629.94 415.15,640.49 415.70,641.95 416.25,640.10 416.80,638.08 417.35,634.94 417.90,631.85 418.45,634.39 419.00,636.35 419.55,640.96 420.10,639.75 420.65,643.60 421.20,643.19 421.75,640.22 422.30,637.58 422.85,634.67 423.40,632.01 423.95,635.27 424.50,635.02 425.05,646.79 425.60,638.40 426.15,638.60 426.70,637.71 427.25,635.82 427.80,632.89 428.35,636.64 428.90,629.15 429.45,639.74 430.00,637.45 430.55,640.71 431.10,637.80 431.65,638.39 432.20,645.57 432.75,642.94 433.30,636.57 433.85,633.49 434.40,632.98 434.95,633.29 435.50,644.34 436.05,640.39 436.60,633.69 437.15,638.54 437.70,638.41 438.25,636.24 438.80,637.78 439.35,644.44 439.90,641.11 440.45,643.78 441.00,634.63 441.55,636.25 442.10,640.57 442.65,636.04 443.20,640.58 443.75,635.18 444.30,636.71 444.85,643.19 445.40,639.24 445.95,640.58 446.50,637.96 447.05,640.34 447.60,630.55 448.15,637.81 448.70,636.36 449.25,640.09 449.80,643.03 450.35,646.04 450.90,640.06 451.45,641.07 452.00,632.67 452.55,632.76 453.10,632.49 453.65,620.33 454.20,621.30 454.75,616.26 455.30,615.79 455.85,614.67 456.40,619.67 456.95,613.42 457.50,618.01 458.05,623.47 458.60,615.80 459.15,620.49 459.70,620.11 460.25,624.61 460.80,627.36 461.35,636.32 461.90,626.12 462.45,633.99 463.00,637.23 463.55,629.02 464.10,638.48 464.65,627.50 465.20,624.76 465.75,634.30 466.30,630.68 466.85,632.02 467.40,647.18 467.95,646.03 468.50,638.10 469.05,639.16 469.60,629.57 470.15,636.54 470.70,627.40 471.25,633.54 471.00,609.00 471.30,633.54 471.80,647.21 472.35,630.93 472.90,629.60 473.45,623.97 474.00,638.10 474.55,632.94 475.10,628.00 475.65,629.52 476.20,638.14 476.75,637.23 477.30,634.57 477.85,642.13 478.40,624.54 478.95,624.28 479.50,627.86 480.05,631.75 480.60,630.14 481.15,624.77 481.70,629.01 482.25,631.62 482.80,632.61 483.35,620.08 483.90,636.09 484.45,626.53 485.00,626.40 485.55,631.32 486.10,638.33 486.65,640.26 487.20,633.31 487.75,630.75 488.30,630.13 488.85,630.03 489.40,627.20 489.95,628.47 490.50,633.09 491.05,633.97 491.60,629.02 492.15,627.80 492.70,622.52 493.25,638.83 493.80,630.87 494.35,635.94 494.90,626.78 495.45,632.33 496.00,621.01 496.55,624.46 497.10,628.77 497.65,634.03 498.20,640.16 498.75,637.62 499.30,635.74 499.85,636.89 500.40,637.55 500.95,630.05 501.50,643.51 502.05,630.85 502.60,616.20 503.15,621.51 503.70,631.91 504.25,632.02 504.80,636.12 505.35,626.99 505.90,632.62 506.45,642.26 507.00,646.93 507.55,634.42 508.10,627.77 508.00,610.00 508.30,627.77 508.65,626.41 509.20,630.75 509.75,635.54 510.30,623.13 510.85,634.85 511.40,637.10 511.95,622.55 512.50,626.57 513.05,641.63 513.60,627.43 514.15,631.29 514.70,633.67 515.25,624.79 515.80,621.42 516.35,628.49 516.90,633.06 517.45,647.16 518.00,638.50 518.55,630.04 519.10,639.27 519.65,638.08 520.20,640.49 520.75,625.65 521.30,633.32 521.85,628.77 522.40,633.92 522.95,618.92 523.50,628.01 524.05,621.27 524.60,625.69 525.15,632.31 525.70,631.35 526.25,634.19 526.80,647.63 527.35,639.74 527.90,646.22 528.45,639.82 529.00,628.36 529.55,626.98 530.10,623.80 530.65,626.43 531.20,633.90 531.75,632.79 532.30,644.76 532.85,637.28 533.40,629.94 533.95,628.21 534.50,646.51 535.05,627.82 535.60,622.58 536.15,630.23 536.70,628.32 537.25,629.79 537.80,637.83 538.35,631.09 538.90,637.47 539.45,626.60 540.00,627.86 540.55,640.29 541.10,625.57 541.65,625.32 542.20,631.59 542.75,630.39 543.30,632.03 543.85,628.75 544.40,620.78 544.95,624.37 545.50,627.34 546.05,617.58 546.60,629.07 547.15,631.05 547.70,629.66 548.25,615.97 548.80,620.95 549.35,627.44 549.90,631.44 550.45,627.12 551.00,613.71 551.55,631.20 552.10,619.04 552.65,642.84 553.20,627.37 553.75,632.32 554.30,640.50 554.85,636.75 555.00,610.00 555.30,636.75 555.40,634.63 555.95,630.46 556.50,621.49 557.05,629.53 557.60,623.04 558.15,633.15 558.70,639.49 559.25,646.60 559.80,631.54 560.35,640.24 560.90,637.26 561.45,631.95 562.00,632.53 562.55,637.66 563.10,633.28 563.65,645.28 564.20,627.85 564.75,630.69 565.30,622.84 565.85,627.24 566.40,624.29 566.95,628.48 567.50,652.98 568.05,628.34 568.60,642.10 569.15,638.57 569.70,628.98 570.25,622.95 570.80,622.11 571.35,613.25 571.90,617.57 572.45,629.10 573.00,632.72 573.55,625.05 574.10,622.56 574.65,626.50 575.20,625.60 575.75,635.22 576.30,622.07 576.85,623.08 577.40,637.92 577.95,631.98 578.50,636.91 579.05,631.42 579.60,622.43 580.15,629.72 580.70,632.42 581.25,618.21 581.80,630.11 582.35,626.44 582.90,636.97 583.45,640.23 584.00,639.39 584.55,643.50 585.10,640.24 585.65,634.21 586.20,623.09 586.75,628.85 587.30,622.64 587.85,638.46 588.40,634.10 588.95,643.62 589.50,629.19 590.05,620.42 590.60,635.34 591.15,634.03 591.70,629.09 592.25,623.19 592.80,634.20" fill="none" stroke="#ff1010" stroke-width="1.0" stroke-linejoin="round" />
<polyline points="78.00,645.61 78.55,646.40 79.10,637.79 79.65,645.72 80.20,642.94 80.75,647.97 81.30,645.32 81.85,642.59 82.40,648.37 82.95,644.13 83.50,646.19 84.05,646.20 84.60,645.20 85.15,644.56 85.70,644.40 86.25,643.48 86.80,645.38 87.35,648.59 87.90,640.23 88.45,636.66 89.00,638.69 89.55,642.31 90.10,639.17 90.65,639.59 91.20,636.88 91.75,637.49 92.30,642.00 92.85,641.35 93.40,643.94 93.95,643.44 94.50,650.56 95.05,637.31 95.60,635.80 96.15,640.54 96.70,639.05 97.25,644.52 97.80,640.83 98.35,642.57 98.90,636.53 99.45,639.66 100.00,642.31 100.55,650.99 101.10,635.37 101.65,640.00 102.20,648.19 102.75,644.27 103.30,643.91 103.85,642.78 104.40,634.23 104.95,647.54 105.50,639.51 106.05,644.64 106.60,645.52 107.15,647.84 107.70,653.84 108.25,645.64 108.80,646.86 109.35,652.75 109.90,656.82 110.45,655.87 111.00,646.14 111.55,653.28 112.10,653.26 112.65,650.72 113.20,649.59 113.75,654.26 114.30,649.29 114.85,636.33 115.40,643.36 115.95,655.38 116.50,648.90 117.05,648.25 117.60,642.99 118.15,648.51 118.70,649.14 119.25,648.22 119.80,650.22 120.35,647.93 120.90,650.29 121.45,648.77 122.00,651.77 122.55,652.11 123.10,652.98 123.65,654.16 124.20,652.95 124.75,651.38 125.30,654.04 125.85,651.54 126.40,654.03 126.95,652.15 127.50,655.09 128.05,655.01 128.60,652.98 129.15,653.05 129.70,652.91 130.25,657.54 130.80,654.34 131.35,654.32 131.90,655.49 132.45,653.70 133.00,654.48 133.55,654.96 134.10,654.21 134.65,653.87 135.20,654.75 135.75,655.61 136.30,651.57 136.85,651.63 137.40,650.91 137.95,652.23 138.50,651.48 139.05,654.12 139.60,652.59 140.15,650.57 140.70,649.15 141.25,650.81 141.80,649.96 142.35,650.14 142.90,652.26 143.45,651.13 144.00,650.67 144.55,650.09 145.10,650.60 145.65,651.55 146.20,651.00 146.75,648.84 147.30,649.60 147.85,647.66 148.40,645.77 148.95,654.74 149.50,651.01 150.05,656.03 150.60,652.76 151.15,655.65 151.70,650.68 152.25,651.61 152.80,653.40 153.35,651.48 153.90,654.35 154.45,653.69 155.00,651.01 155.55,651.07 156.10,648.62 156.65,650.07 157.20,652.92 157.75,651.89 158.30,650.63 158.85,654.66 159.40,654.79 159.95,650.72 160.50,654.31 161.05,655.52 161.60,655.59 162.15,653.83 162.70,649.67 163.25,652.31 163.80,652.30 164.35,654.73 164.90,653.25 165.45,650.68 166.00,651.28 166.55,653.65 167.10,655.30 167.65,654.62 168.20,654.66 168.75,654.16 169.30,654.09 169.85,650.10 170.40,652.02 170.95,652.16 171.50,654.86 172.05,652.40 172.60,655.57 173.15,651.72 173.70,656.20 174.25,650.82 174.80,652.96 175.35,657.13 175.90,647.11 176.45,651.69 177.00,658.42 177.55,659.89 178.10,659.83 178.65,655.51 179.20,658.81 179.75,654.84 180.30,651.09 180.85,651.35 181.40,656.94 181.95,652.26 182.50,649.74 183.05,650.43 183.60,647.91 184.15,652.03 184.70,652.49 185.25,653.13 185.80,654.37 186.35,652.76 186.90,654.71 187.45,652.95 188.00,656.70 188.55,656.00 189.10,650.32 189.65,652.86 190.20,651.18 190.75,655.81 191.30,652.11 191.85,656.98 192.40,648.10 192.95,651.43 193.50,648.69 194.05,654.36 194.60,657.19 195.15,659.60 195.70,651.77 196.25,656.49 196.80,653.62 197.35,655.14 197.90,656.31 198.45,654.84 199.00,654.63 199.55,653.31 200.10,655.08 200.65,654.24 201.20,655.06 201.75,653.49 202.30,653.74 202.85,654.54 203.40,654.30 203.95,655.36 204.50,654.08 205.05,651.73 205.60,656.27 206.15,653.77 206.70,653.78 207.25,656.76 207.80,655.17 208.35,653.13 208.90,652.17 209.45,652.90 210.00,652.47 210.55,654.51 211.10,653.30 211.65,653.06 212.20,651.41 212.75,651.82 213.30,654.06 213.85,661.70 214.40,662.10 214.95,660.94 215.50,663.55 216.05,658.49 216.60,663.10 217.15,659.80 217.70,655.68 218.25,650.34 218.80,651.15 219.35,657.50 219.90,665.22 220.45,658.22 221.00,663.68 221.55,660.39 222.10,665.25 222.65,657.35 223.20,653.71 223.75,655.65 224.30,658.44 224.85,659.21 225.40,658.08 225.95,664.26 226.50,657.83 227.05,668.31 227.60,661.94 228.15,654.41 228.70,655.12 229.25,655.62 229.80,662.13 230.35,667.18 230.90,661.80 231.45,670.10 232.00,657.63 232.55,654.38 233.10,657.54 233.00,685.00 233.30,657.54 233.65,661.36 234.20,670.75 234.75,651.46 235.30,658.81 235.85,670.23 236.40,664.00 236.95,671.65 237.50,664.30 238.05,650.85 238.60,664.98 239.15,657.68 239.70,664.53 240.25,668.77 240.80,665.18 241.35,660.52 241.90,649.55 242.45,657.03 243.00,663.23 243.55,657.60 244.10,659.06 244.65,663.08 245.20,665.49 245.75,654.98 246.30,659.78 246.85,667.17 247.40,658.31 247.95,652.99 248.50,658.62 249.05,675.95 249.60,671.89 250.15,663.33 250.70,667.83 251.25,660.98 251.80,668.74 252.35,667.06 252.90,667.20 253.45,666.05 254.00,662.73 254.55,656.75 255.10,655.12 255.65,662.30 256.20,658.56 256.75,665.65 257.30,658.93 257.85,662.18 258.40,656.68 258.95,658.73 259.50,657.43 260.05,659.59 260.60,650.49 261.15,658.37 261.70,661.88 262.25,663.01 262.80,649.91 263.35,664.48 263.90,655.76 264.45,659.42 265.00,657.36 265.55,661.05 266.10,654.47 266.65,663.95 267.20,656.45 267.75,658.11 268.30,652.92 268.85,653.29 269.40,655.73 269.95,653.94 270.50,657.20 271.05,657.00 271.60,656.87 272.15,654.13 272.70,660.16 273.25,654.45 273.80,662.41 274.35,655.40 274.90,651.60 275.45,652.12 276.00,654.27 276.55,654.56 277.10,653.51 277.65,657.05 278.20,654.12 278.75,656.20 279.30,653.52 279.85,651.40 280.40,649.69 280.95,645.35 281.50,652.79 282.05,658.23 282.60,653.26 283.15,650.98 283.70,651.69 284.25,648.05 284.80,644.80 285.35,647.78 285.90,650.42 286.45,647.73 287.00,647.84 287.55,648.67 288.10,648.46 288.65,647.30 289.20,648.80 289.75,647.80 290.30,648.79 290.85,651.93 291.40,649.73 291.95,650.08 292.50,650.14 293.05,651.85 293.60,653.08 294.15,649.47 294.70,651.74 295.25,646.88 295.80,646.18 296.35,642.16 296.90,644.12 297.45,641.04 298.00,643.46 298.55,642.30 299.10,643.25 299.65,643.91 300.20,640.51 300.75,639.28 301.30,649.97 301.85,648.82 302.40,641.33 302.95,647.09 303.50,645.03 304.05,642.46 304.60,644.45 305.15,642.45 305.70,643.74 306.25,640.73 306.80,637.12 307.35,643.26 307.90,641.35 308.45,639.55 309.00,639.77 309.55,640.43 310.10,637.97 310.65,631.89 311.20,637.44 311.75,637.07 312.30,637.83 312.85,635.76 313.40,635.21 313.95,633.97 314.50,631.95 315.05,634.58 315.60,633.32 316.15,630.38 316.70,630.62 317.25,631.71 317.80,629.06 318.35,630.88 318.90,630.12 319.45,630.41 320.00,628.71 320.55,634.01 321.10,633.29 321.65,630.49 322.20,629.08 322.75,625.58 323.30,626.51 323.85,624.54 324.40,624.50 324.95,632.71 325.50,626.76 326.05,624.30 326.60,623.38 327.15,619.73 327.70,626.65 328.25,625.52 328.80,631.06 329.35,623.55 329.90,621.27 330.45,622.00 331.00,621.90 331.55,621.36 332.10,618.24 332.65,620.76 333.20,625.41 333.75,620.77 334.30,622.13 334.85,622.54 335.40,617.46 335.95,619.90 336.50,617.70 337.05,619.22 337.60,619.80 338.15,617.77 338.70,618.05 339.25,623.20 339.80,625.35 340.35,622.59 340.90,627.71 341.45,625.33 342.00,623.55 342.55,625.14 343.10,625.03 343.65,628.35 344.20,628.46 344.75,626.19 345.30,626.86 345.85,625.31 346.40,632.77 346.95,631.96 347.50,631.84 348.05,630.24 348.60,630.24 349.15,628.90 349.70,633.54 350.25,632.78 350.80,633.32 351.35,632.72 351.90,633.55 352.45,635.17 353.00,634.50 353.55,632.92 354.10,637.99 354.65,640.15 355.20,637.48 355.75,636.66 356.30,637.14 356.85,641.98 357.40,637.59 357.95,640.92 358.50,646.69 359.05,641.93 359.60,641.22 360.15,640.46 360.70,639.42 361.25,640.49 361.80,638.31 362.35,642.76 362.90,642.84 363.45,644.49 364.00,635.20 364.55,641.66 365.10,638.63 365.65,641.83 366.20,635.80 366.75,635.73 367.30,636.88 367.85,641.14 368.40,638.93 368.95,641.43 369.50,642.85 370.05,642.30 370.60,642.17 371.15,642.37 371.70,640.04 372.25,644.84 372.80,647.44 373.35,650.46 373.90,638.67 374.45,643.45 375.00,637.18 375.55,641.02 376.10,643.30 376.65,640.16 377.20,640.85 377.75,645.17 378.30,645.22 378.85,643.36 379.40,645.39 379.95,651.10 380.50,651.50 381.05,651.79 381.60,649.90 382.15,654.24 382.70,652.38 383.25,658.83 383.80,647.58 384.35,652.66 384.90,650.15 385.45,654.97 386.00,654.20 386.55,652.67 387.10,651.85 387.65,658.08 388.20,650.54 388.75,653.58 389.30,651.55 389.85,653.68 390.40,654.37 390.95,650.43 391.50,649.50 392.05,650.73 392.60,650.77 393.15,653.95 393.70,658.31 394.25,648.91 394.80,651.47 395.35,654.05 395.90,654.95 396.45,654.46 397.00,653.24 397.55,653.37 398.10,658.13 398.65,649.47 399.20,658.88 399.75,656.99 400.30,659.81 400.85,652.44 401.40,659.74 401.95,655.90 402.50,662.66 403.05,660.29 403.60,654.71 404.15,659.34 404.70,660.06 405.25,660.56 405.80,649.76 406.35,655.62 406.90,664.22 407.45,651.15 408.00,654.79 408.55,650.18 409.10,656.05 409.65,665.93 410.20,658.68 410.75,657.10 411.30,661.75 411.85,667.28 412.40,660.21 412.95,655.26 413.50,662.84 414.05,662.75 414.60,656.82 415.15,665.37 415.70,656.65 416.25,654.94 416.80,657.92 417.35,662.44 417.90,660.44 418.45,659.90 419.00,657.23 419.55,642.40 420.10,657.86 420.65,650.98 421.20,653.50 421.75,656.12 422.30,653.12 422.85,649.21 423.40,651.88 423.95,652.04 424.50,648.41 425.05,651.01 425.60,658.07 426.15,656.99 426.70,650.14 427.25,654.76 427.80,653.79 428.35,654.00 428.90,650.70 429.45,659.67 430.00,659.44 430.55,657.65 431.10,653.39 431.65,658.15 432.20,648.33 432.75,648.16 433.30,652.72 433.85,645.12 434.40,649.63 434.95,653.87 435.50,652.37 436.05,658.70 436.60,650.86 437.15,652.69 437.70,650.11 438.25,654.17 438.80,655.19 439.35,646.30 439.90,653.42 440.45,653.69 441.00,653.10 441.55,653.65 442.10,654.35 442.65,656.62 443.20,656.15 443.75,656.42 444.30,655.98 444.85,651.81 445.40,650.88 445.95,651.30 446.50,649.57 447.05,651.63 447.60,654.31 448.15,655.40 448.70,656.61 449.25,651.07 449.80,651.94 450.35,657.87 450.90,658.02 451.45,654.76 452.00,654.27 452.55,657.23 453.10,656.18 453.65,659.27 454.20,657.95 454.75,660.49 455.30,664.57 455.85,669.49 456.40,664.81 456.95,668.19 457.50,665.42 458.05,665.28 458.60,666.00 459.15,659.77 459.70,664.83 460.25,659.97 460.80,654.05 461.35,653.18 461.90,666.86 462.45,661.23 463.00,663.20 463.55,656.47 464.10,660.34 464.65,657.52 465.20,659.41 465.75,663.74 466.30,659.67 466.85,660.52 467.40,655.89 467.95,662.52 468.50,650.74 469.05,651.64 469.60,659.05 470.15,658.60 470.70,654.51 471.25,657.37 471.80,655.40 472.35,656.10 472.90,658.98 473.45,660.96 474.00,659.91 474.55,667.06 475.10,666.39 475.65,652.88 476.20,656.36 476.75,652.86 477.30,649.63 477.85,663.52 478.40,662.26 478.95,668.64 479.50,664.16 480.05,672.32 480.00,686.00 480.30,672.32 480.60,656.35 481.15,646.88 481.70,654.39 482.25,656.25 482.80,652.04 483.35,657.38 483.90,651.30 484.45,656.30 485.00,662.24 485.55,660.15 486.10,651.10 486.65,658.49 487.20,661.42 487.75,654.59 488.30,651.82 488.85,663.58 489.40,651.56 489.95,662.10 490.50,656.88 491.05,666.46 491.60,665.05 492.15,664.63 492.70,663.84 493.25,662.36 493.80,664.67 494.35,655.97 494.90,660.42 495.45,660.73 496.00,652.93 496.55,663.21 497.10,668.50 497.65,655.91 498.20,664.71 498.75,651.98 499.30,660.79 499.85,657.66 500.40,668.72 500.95,672.57 501.50,664.39 502.05,661.21 502.60,657.01 503.15,664.60 503.70,667.24 504.25,658.82 504.80,663.26 505.35,666.99 505.90,665.59 506.45,669.00 507.00,665.80 507.55,660.79 508.10,657.63 508.65,652.50 509.20,653.28 509.75,654.35 510.30,657.01 510.85,667.72 511.40,662.21 511.95,659.35 512.50,669.69 513.05,667.82 513.60,664.33 514.15,653.67 514.70,658.16 515.25,658.20 515.80,650.99 516.35,645.45 516.90,653.30 517.45,660.03 518.00,661.23 518.55,659.68 519.10,652.26 519.65,654.42 520.20,668.40 520.75,653.63 521.30,656.55 521.85,660.20 522.40,661.89 522.95,667.93 523.50,649.76 524.05,666.88 524.60,653.87 525.15,663.60 525.70,673.21 526.25,659.18 526.80,664.78 527.35,655.32 527.90,656.31 528.45,669.68 529.00,665.97 529.55,659.13 530.10,667.83 530.65,665.75 531.20,657.88 531.75,655.29 532.30,654.81 532.85,656.52 533.40,663.63 533.95,656.34 534.50,656.89 535.05,664.07 535.60,659.68 536.15,658.87 536.70,665.06 537.25,655.83 537.80,657.98 538.35,656.64 538.90,670.14 539.45,658.84 540.00,662.10 540.55,646.21 541.10,656.59 541.65,654.38 542.20,654.00 542.75,658.19 543.30,651.50 543.85,666.77 544.40,664.06 544.95,662.88 545.50,655.71 546.05,648.48 546.60,649.48 547.15,657.39 547.70,660.61 548.25,660.89 548.80,664.03 549.35,664.46 549.90,656.66 550.45,649.62 551.00,654.75 551.55,657.72 552.10,658.39 552.65,656.72 553.20,659.88 553.75,661.20 554.30,664.37 554.85,659.56 555.40,664.42 555.95,662.00 556.50,663.74 557.05,661.62 557.60,655.94 558.15,664.43 558.70,659.22 559.25,658.41 559.80,648.27 560.35,644.76 560.90,628.14 561.45,642.50 562.00,656.87 562.55,650.97 563.10,631.40 563.65,650.46 564.20,671.36 564.75,643.69 565.30,639.88 565.85,650.20 566.40,648.17 566.95,641.96 567.50,643.42 568.05,646.62 568.60,638.68 569.15,635.74 569.70,635.92 570.25,646.07 570.80,640.48 571.35,648.79 571.90,634.39 572.45,633.62 573.00,638.15 573.55,639.19 574.10,658.09 574.65,645.22 575.20,643.55 575.75,634.43 576.30,651.80 576.85,637.80 577.40,644.89 577.95,663.96 578.50,640.45 579.05,632.81 579.60,639.67 580.15,635.78 580.70,636.81 581.25,659.32 581.80,655.46 582.35,648.33 582.90,640.51 583.45,656.38 584.00,647.45 584.55,656.00 585.10,647.25 585.65,645.98 586.20,647.55 586.75,647.34 587.30,640.39 587.85,657.93 588.40,655.28 588.95,651.21 589.50,668.53 590.05,655.06 590.60,651.63 591.15,655.98 591.70,657.00 592.25,654.06 592.80,670.38" fill="none" stroke="#1a80f0" stroke-width="1.0" stroke-linejoin="round" />
</g>
<g clip-path="url(#c8)">
<line x1="77.5" y1="742.8" x2="593.3" y2="742.8" stroke="#f04040" stroke-width="1.3"/>
<polyline points="78.00,748.79 78.40,752.71 78.80,746.65 79.20,746.75 79.60,746.63 80.00,747.50 80.40,748.95 80.80,750.53 81.20,748.60 81.60,746.70 82.00,752.05 82.40,753.42 82.80,750.43 83.20,747.67 83.60,752.28 84.00,754.17 84.40,745.73 84.80,750.80 85.20,747.18 85.60,752.64 86.00,749.68 86.40,752.63 86.80,749.26 87.20,747.66 87.60,749.78 88.00,747.80 88.40,747.50 88.80,744.99 89.20,746.64 89.60,749.63 90.00,753.06 90.40,751.05 90.80,753.54 91.20,754.71 91.60,747.85 92.00,747.73 92.40,749.12 92.80,751.87 93.20,748.12 93.60,749.25 94.00,750.46 94.40,752.54 94.80,752.26 95.20,750.80 95.60,748.91 96.00,747.15 96.40,750.66 96.80,751.15 97.20,749.80 97.60,751.89 98.00,751.89 98.40,752.59 98.80,757.08 99.20,748.64 99.60,747.99 100.00,752.32 100.40,751.10 100.80,746.17 101.20,747.19 101.60,748.52 102.00,747.54 102.40,752.41 102.80,749.16 103.20,746.39 103.60,750.45 104.00,754.35 104.40,747.62 104.80,750.19 105.20,749.11 105.60,749.22 106.00,752.32 106.40,749.39 106.80,752.37 107.20,753.08 107.60,753.15 108.00,755.30 108.40,749.80 108.80,753.96 109.20,754.78 109.60,751.95 110.00,754.47 110.40,754.37 110.80,750.41 111.20,748.56 111.60,754.78 112.00,756.55 112.40,752.89 112.80,754.94 113.20,751.37 113.60,750.96 114.00,749.81 114.40,755.18 114.80,751.24 115.20,751.68 115.60,752.77 116.00,756.71 116.40,760.50 116.80,759.78 117.20,754.97 117.60,755.13 118.00,755.08 118.40,756.75 118.80,759.71 119.20,760.01 119.60,760.47 120.00,760.19 120.40,761.08 120.80,761.00 121.20,761.24 121.60,761.34 122.00,760.42 122.40,760.55 122.80,760.41 123.20,758.19 123.60,758.84 124.00,758.32 124.40,760.60 124.80,760.08 125.20,759.60 125.60,759.60 126.00,759.01 126.40,761.23 126.80,760.20 127.20,759.68 127.60,760.94 128.00,758.31 128.40,760.90 128.80,762.15 129.20,753.48 129.60,741.43 130.00,739.46 130.40,744.73 130.80,750.68 131.20,751.77 131.60,752.19 132.00,745.15 132.40,746.82 132.80,748.75 133.20,750.24 133.60,749.57 134.00,749.06 134.40,752.84 134.80,749.22 135.20,738.41 135.60,740.40 136.00,748.53 136.40,749.48 136.80,751.67 137.20,750.10 137.60,748.33 138.00,746.15 138.40,747.19 138.80,743.62 139.20,742.20 139.60,751.11 140.00,745.43 140.40,742.02 140.80,740.31 141.20,740.59 141.60,739.83 142.00,737.94 142.40,740.66 142.80,740.31 143.20,738.49 143.60,736.39 144.00,729.80 144.40,731.99 144.80,742.99 145.20,735.77 145.60,735.31 146.00,735.63 146.40,736.28 146.80,712.37 147.20,705.61 147.60,713.35 148.00,717.05 148.40,719.58 148.80,721.41 149.20,726.94 149.60,728.82 150.00,730.07 150.40,736.80 150.80,748.05 151.20,752.13 151.60,751.53 152.00,751.43 152.40,744.16 152.80,745.22 153.20,746.32 153.60,751.98 154.00,750.20 154.40,753.72 154.80,750.88 155.20,750.68 155.60,749.26 156.00,747.76 156.40,748.46 156.80,741.73 157.20,745.17 157.60,739.67 158.00,741.05 158.40,741.24 158.80,736.09 159.20,735.66 159.60,731.97 160.00,728.42 160.40,726.30 160.80,727.99 161.20,724.44 161.60,721.91 162.00,718.38 162.40,719.82 162.80,721.06 163.20,715.44 163.60,713.91 164.00,711.99 164.40,717.91 164.80,723.64 165.20,733.38 165.60,739.98 166.00,743.02 166.40,747.29 166.80,758.90 167.20,758.54 167.60,761.38 168.00,759.42 168.40,761.48 168.80,762.11 169.20,756.31 169.60,760.58 170.00,761.07 170.40,758.63 170.80,757.41 171.20,757.80 171.60,758.89 172.00,762.32 172.40,758.57 172.80,757.18 173.20,756.26 173.60,757.12 174.00,757.70 174.40,755.82 174.80,752.95 175.20,755.88 175.60,754.95 176.00,758.38 176.40,753.49 176.80,751.50 177.20,750.61 177.60,752.87 178.00,752.55 178.40,750.67 178.80,752.90 179.20,751.56 179.60,753.41 180.00,750.01 180.40,748.53 180.80,752.10 181.20,750.08 181.60,745.48 182.00,750.56 182.40,744.83 182.80,750.17 183.20,743.77 183.60,747.99 184.00,744.26 184.40,748.58 184.80,743.06 185.20,746.15 185.60,747.84 186.00,746.67 186.40,747.13 186.80,747.83 187.20,743.67 187.60,738.92 188.00,741.93 188.40,748.56 188.80,750.44 189.20,742.34 189.60,744.45 190.00,744.26 190.40,739.70 190.80,751.76 191.20,736.54 191.60,736.36 192.00,737.74 192.40,736.28 192.80,744.06 193.20,736.33 193.60,736.17 194.00,736.02 194.40,743.89 194.80,737.78 195.20,744.32 195.60,757.41 196.00,764.90 196.40,767.29 196.80,765.38 197.20,765.10 197.60,763.12 198.00,765.58 198.40,765.33 198.80,765.22 199.20,764.61 199.60,763.74 200.00,764.50 200.40,762.69 200.80,762.76 201.20,764.68 201.60,763.77 202.00,761.48 202.40,760.54 202.80,763.33 203.20,764.08 203.60,764.15 204.00,763.12 204.40,764.31 204.80,763.98 205.20,763.84 205.60,763.08 206.00,762.13 206.40,763.26 206.80,762.68 207.20,763.99 207.60,764.01 208.00,762.89 208.40,763.78 208.80,764.36 209.20,765.15 209.60,764.50 210.00,763.71 210.40,763.49 210.80,766.19 211.20,763.92 211.60,762.25 212.00,764.19 212.40,763.40 212.80,765.35 213.20,764.47 213.60,765.45 214.00,765.76 214.40,764.09 214.80,764.27 215.20,763.16 215.60,764.92 216.00,764.29 216.40,763.80 216.80,765.00 217.20,761.69 217.60,763.14 218.00,764.12 218.40,763.24 218.80,765.36 219.20,765.29 219.60,763.03 220.00,763.86 220.40,765.08 220.80,762.22 221.20,764.39 221.60,762.62 222.00,765.91 222.40,761.36 222.80,763.62 223.20,765.07 223.60,762.44 224.00,760.71 224.40,762.31 224.80,763.31 225.20,763.29 225.60,761.23 226.00,762.87 226.40,766.06 226.80,761.29 227.20,763.78 227.60,765.16 228.00,761.56 228.40,762.09 228.80,765.51 229.20,764.69 229.60,764.60 230.00,763.52 230.40,762.36 230.80,763.11 231.20,764.59 231.60,765.32 232.00,763.16 232.40,762.98 232.80,764.00 233.20,761.30 233.60,765.98 234.00,766.12 234.40,765.84 234.80,766.00 235.20,765.31 235.60,765.17 236.00,763.40 236.40,762.73 236.80,763.47 237.20,762.87 237.60,764.40 238.00,764.46 238.40,765.27 238.80,765.03 239.20,763.68 239.60,762.87 240.00,764.04 240.40,764.10 240.80,763.39 241.20,765.00 241.60,763.80 242.00,765.55 242.40,764.14 242.80,765.01 243.20,764.58 243.60,764.78 244.00,764.49 244.40,764.36 244.80,764.08 245.20,764.44 245.60,763.58 246.00,765.85 246.40,763.47 246.80,764.04 247.20,764.87 247.60,763.14 248.00,764.43 248.40,765.03 248.80,764.55 249.20,763.29 249.60,763.16 250.00,762.06 250.40,761.89 250.80,762.15 251.20,762.32 251.60,762.99 252.00,764.57 252.40,764.85 252.80,762.87 253.20,761.40 253.60,762.62 254.00,765.93 254.40,762.93 254.80,764.65 255.20,763.36 255.60,760.68 256.00,761.42 256.40,763.48 256.80,762.64 257.20,763.55 257.60,761.88 258.00,762.75 258.40,763.48 258.80,765.51 259.20,763.71 259.60,762.85 260.00,763.52 260.40,762.94 260.80,764.03 261.20,764.27 261.60,764.62 262.00,763.27 262.40,763.93 262.80,763.42 263.20,764.28 263.60,765.63 264.00,764.92 264.40,762.96 264.80,765.15 265.20,764.35 265.60,761.51 266.00,763.31 266.40,762.35 266.80,763.68 267.20,761.63 267.60,763.52 268.00,761.76 268.40,763.68 268.80,763.05 269.20,764.98 269.60,766.49 270.00,763.45 270.40,764.70 270.80,762.39 271.20,762.36 271.60,764.20 272.00,763.11 272.40,764.62 272.80,764.94 273.20,764.38 273.60,762.69 274.00,763.27 274.40,762.54 274.80,762.96 275.20,762.90 275.60,763.23 276.00,764.46 276.40,764.19 276.80,761.32 277.20,763.31 277.60,763.21 278.00,765.28 278.40,764.33 278.80,764.78 279.20,761.34 279.60,764.36 280.00,766.45 280.40,763.54 280.80,763.76 281.20,764.90 281.60,766.11 282.00,764.56 282.40,763.57 282.80,764.38 283.20,764.64 283.60,764.86 284.00,764.98 284.40,763.98 284.80,763.52 285.20,765.21 285.60,763.07 286.00,765.25 286.40,764.25 286.80,765.53 287.20,765.73 287.60,767.24 288.00,764.35 288.40,763.76 288.80,763.25 289.20,765.11 289.60,764.91 290.00,763.51 290.40,762.52 290.80,764.48 291.20,766.01 291.60,767.26 292.00,763.24 292.40,764.65 292.80,765.27 293.20,765.53 293.60,766.20 294.00,765.49 294.40,762.96 294.80,764.51 295.20,764.06 295.60,762.50 296.00,762.65 296.40,761.52 296.80,760.82 297.20,761.91 297.60,762.89 298.00,759.17 298.40,761.20 298.80,759.85 299.20,763.11 299.60,760.97 300.00,759.43 300.40,758.56 300.80,759.94 301.20,760.74 301.60,761.84 302.00,761.10 302.40,761.34 302.80,761.00 303.20,761.47 303.60,760.95 304.00,761.43 304.40,760.04 304.80,759.76 305.20,760.50 305.60,761.85 306.00,761.40 306.40,761.36 306.80,761.14 307.20,759.11 307.60,759.12 308.00,761.11 308.40,758.69 308.80,762.03 309.20,761.43 309.60,762.70 310.00,761.81 310.40,762.06 310.80,762.10 311.20,762.13 311.60,761.11 312.00,762.87 312.40,763.20 312.80,763.27 313.20,760.93 313.60,761.08 314.00,761.66 314.40,761.74 314.80,761.02 315.20,760.82 315.60,761.40 316.00,760.61 316.40,762.39 316.80,761.92 317.20,763.43 317.60,764.19 318.00,764.66 318.40,763.87 318.80,763.98 319.20,765.19 319.60,765.35 320.00,765.90 320.40,767.77 320.80,765.33 321.20,765.40 321.60,765.66 322.00,766.36 322.40,765.42 322.80,765.87 323.20,766.53 323.60,766.67 324.00,765.85 324.40,766.76 324.80,766.33 325.20,765.47 325.60,764.48 326.00,766.72 326.40,766.23 326.80,765.89 327.20,766.38 327.60,767.26 328.00,767.29 328.40,766.97 328.80,766.80 329.20,766.89 329.60,767.41 330.00,765.96 330.40,766.25 330.80,768.04 331.20,767.42 331.60,767.53 332.00,766.59 332.40,765.63 332.80,765.52 333.20,766.60 333.60,765.12 334.00,766.76 334.40,766.12 334.80,767.97 335.20,768.18 335.60,767.61 336.00,766.36 336.40,766.40 336.80,766.69 337.20,767.28 337.60,766.14 338.00,766.85 338.40,767.28 338.80,767.39 339.20,767.23 339.60,766.61 340.00,765.78 340.40,766.02 340.80,766.86 341.20,766.94 341.60,767.66 342.00,766.05 342.40,766.11 342.80,765.57 343.20,766.95 343.60,767.14 344.00,768.48 344.40,766.51 344.80,766.52 345.20,766.25 345.60,766.13 346.00,765.51 346.40,767.25 346.80,767.51 347.20,768.09 347.60,766.43 348.00,766.23 348.40,767.10 348.80,765.44 349.20,765.74 349.60,766.32 350.00,767.60 350.40,767.82 350.80,766.50 351.20,767.21 351.60,766.42 352.00,766.11 352.40,764.06 352.80,765.68 353.20,764.21 353.60,763.73 354.00,764.30 354.40,764.16 354.80,760.89 355.20,760.06 355.60,761.75 356.00,761.38 356.40,761.09 356.80,758.67 357.20,757.18" fill="none" stroke="#000" stroke-width="1.3" stroke-linejoin="round" />
<polyline points="359.00,756.58 359.40,756.20 359.80,752.13 360.20,752.88 360.60,751.35 361.00,751.68 361.40,749.82 361.80,745.26 362.20,747.49 362.60,744.37 363.00,742.09 363.40,743.41 363.80,743.96 364.20,744.30 364.60,743.19 365.00,742.57 365.40,738.83 365.80,741.47 366.20,741.63 366.60,743.10 367.00,742.97 367.40,744.27 367.80,744.48 368.20,744.92 368.60,741.67 369.00,742.73 369.40,745.12 369.80,740.22 370.20,745.35 370.60,744.98 371.00,745.37 371.40,741.10 371.80,742.25 372.20,743.70 372.60,743.53 373.00,746.54 373.40,743.46 373.80,741.58 374.20,743.60 374.60,744.24 375.00,741.68 375.40,740.16 375.80,745.28 376.20,749.36 376.60,749.23 377.00,751.71 377.40,747.83 377.80,750.73 378.20,751.01 378.60,752.19 379.00,752.81 379.40,746.96 379.80,750.08 380.20,750.54 380.60,745.14 381.00,746.84 381.40,746.71 381.80,749.20 382.20,750.21 382.60,746.68 383.00,746.05 383.40,746.57 383.80,749.80 384.20,753.33 384.60,750.32 385.00,749.75 385.40,749.19 385.80,752.04 386.20,753.05 386.60,748.71 387.00,746.48 387.40,750.04 387.80,746.99 388.20,743.94 388.60,748.51 389.00,750.39 389.40,747.45 389.80,749.27 390.20,748.58 390.60,748.82 391.00,751.22 391.40,752.57 391.80,748.48 392.20,750.76 392.60,749.19 393.00,749.61 393.40,746.05 393.80,746.68 394.20,750.40 394.60,747.43 395.00,744.94 395.40,750.13 395.80,750.72 396.20,751.55 396.60,754.93 397.00,751.47 397.00,735.00 397.30,751.47 397.40,755.66 397.80,748.92 398.20,749.61 398.60,755.49 399.00,757.47 399.40,754.10 399.80,751.60 400.20,751.55 400.60,750.59 401.00,753.01 401.40,749.52 401.80,756.50 402.20,749.78 402.60,753.88 403.00,754.66 403.40,748.71 403.80,754.75 404.20,748.21 404.60,757.67 405.00,754.46 405.40,748.36 405.80,752.27 406.20,752.22 406.60,748.39 407.00,749.78 407.40,745.02 407.80,753.52 408.20,753.54 408.60,749.67 409.00,752.89 409.40,754.46 409.80,759.98 410.20,756.76 410.60,757.14 411.00,753.21 411.40,753.18 411.80,751.48 412.20,744.16 412.60,750.11 413.00,750.80 413.40,745.67 413.80,752.46 414.20,755.59 414.60,754.76 415.00,750.62 415.40,749.71 415.80,746.98 416.20,750.05 416.60,750.61 417.00,755.21 417.40,750.89 417.80,749.55 418.20,751.77 418.60,757.73 419.00,754.45 419.40,752.76 419.80,754.44 420.20,754.47 420.60,749.45 421.00,752.82 421.40,750.58 421.80,743.80 422.20,744.16 422.60,750.57 423.00,746.10 423.40,744.96 423.80,750.28 424.20,747.74 424.60,742.74 425.00,744.74 425.40,744.78 425.80,745.74 426.20,750.14 426.60,744.17 427.00,743.79 427.00,733.00 427.30,743.79 427.40,746.64 427.80,746.56 428.20,745.92 428.60,742.58 429.00,747.15 429.40,746.55 429.80,746.83 430.20,747.10 430.60,748.93 431.00,744.14 431.40,741.79 431.80,743.69 432.20,746.72 432.60,749.78 433.00,742.49 433.40,741.51 433.80,744.67 434.20,742.29 434.60,746.05 435.00,742.39 435.40,749.46 435.80,752.04 436.20,756.91 436.60,757.07 437.00,756.95 437.40,757.15 437.80,756.67 438.20,754.19 438.60,751.86 439.00,753.54 439.40,750.93 439.80,752.83 440.20,757.41 440.60,753.38 441.00,753.81 441.40,753.81 441.80,755.36 442.20,756.79 442.60,754.98 443.00,753.97 443.40,757.43 443.80,753.73 444.20,754.30 444.60,752.25 445.00,757.46 445.40,761.01 445.80,755.27 446.20,758.05 446.60,752.53 447.00,747.25 447.40,747.79 447.80,753.90 448.20,752.90 448.60,754.37 449.00,756.34 449.40,754.74 449.80,757.03 450.20,753.38 450.60,753.16 451.00,756.59 451.40,756.44 451.80,753.85 452.20,757.30 452.60,754.29 453.00,754.01 453.40,753.71 453.80,752.37 454.20,749.87 454.60,753.59 455.00,755.17 455.40,751.20 455.80,745.82 456.20,743.81 456.60,739.06 457.00,745.30 457.40,744.08 457.80,745.37 458.20,743.38 458.60,742.87 459.00,743.27 459.40,743.40 459.80,748.59 460.20,750.26 460.60,749.65 461.00,749.08 461.40,743.57 461.80,740.86 462.20,746.11 462.60,749.11 463.00,749.09 463.40,739.98 463.80,738.24 464.20,745.18 464.60,747.12 465.00,751.36 465.40,743.74 465.80,739.30 466.20,749.24 466.60,744.28 467.00,742.81 467.40,748.17 467.80,749.41 468.20,749.66 468.60,747.73 469.00,744.10 469.40,753.37 469.80,748.92 470.20,758.74 470.60,748.90 471.00,747.59 471.40,745.08 471.80,746.69 472.20,757.20 472.60,743.86 473.00,744.68 473.40,741.48 473.80,750.80 474.20,744.15 474.60,744.29 475.00,749.72 475.40,746.94 475.80,748.28 476.20,745.59 476.60,746.83 477.00,747.38 477.40,752.91 477.80,749.19 478.20,744.89 478.60,754.17 479.00,755.36 479.40,745.82 479.80,742.95 480.20,742.79 480.60,748.47 481.00,745.40 481.40,743.92 481.80,743.84 482.20,744.75 482.60,745.32 483.00,748.67 483.40,749.32 483.80,742.99 484.20,748.60 484.60,743.88 485.00,749.23 485.40,749.26 485.80,750.17 486.20,748.78 486.60,745.75 487.00,750.20 487.40,747.44 487.80,748.44 488.20,749.20 488.60,746.77 489.00,748.38 489.40,749.84 489.80,748.20 490.20,753.37 490.60,751.22 491.00,746.24 491.40,748.90 491.80,745.80 492.20,746.83 492.60,744.01 493.00,742.11 493.40,745.89 493.80,741.93 494.20,740.34 494.60,747.02 495.00,744.22 495.40,746.60 495.80,748.35 496.20,744.30 496.60,748.78 497.00,743.25 497.40,739.84 497.80,743.33 498.20,739.46 498.60,743.34 499.00,738.48 499.40,744.13 499.80,747.73 500.20,743.66 500.60,746.49 501.00,741.83 501.40,747.05 501.80,745.61 502.20,748.51 502.60,747.06 503.00,753.14 503.40,746.99 503.80,753.20 504.20,747.05 504.60,751.09 505.00,744.66 505.40,745.89 505.80,741.98 506.20,743.98 506.60,745.30 507.00,739.91 507.40,745.60 507.80,747.80 508.20,744.04 508.60,744.48 509.00,746.81 509.40,743.66 509.80,747.71 510.20,743.81 510.60,747.66 511.00,743.51 511.40,744.76 511.80,739.70 512.20,741.94 512.60,751.80 513.00,744.60 513.40,749.13 513.80,745.10 514.20,750.41 514.60,746.61 515.00,745.47 515.40,743.67 515.80,748.54 516.20,747.08 516.60,743.65 517.00,746.59 517.40,747.22 517.80,749.65 518.20,743.67 518.60,739.98 519.00,744.92 519.40,734.43 519.80,741.82 520.20,741.98 520.60,741.21 521.00,742.98 521.40,748.55 521.80,743.81 522.20,744.16 522.60,740.14 523.00,741.30 523.40,736.17 523.80,744.76 524.20,747.51 524.00,734.00 524.30,747.51 524.60,736.32 525.00,741.68 525.40,739.16 525.80,738.52 526.20,739.83 526.60,735.41 527.00,740.29 527.40,733.39 527.80,740.40 528.20,742.62 528.60,737.08 529.00,742.09 529.40,747.78 529.80,749.00 530.20,743.53 530.60,749.19 531.00,744.55 531.40,736.76 531.80,748.54 532.20,745.65 532.60,747.41 533.00,736.82 533.40,742.55 533.80,742.67 534.20,749.08 534.60,747.11 535.00,745.17 535.40,748.45 535.80,746.06 536.20,748.42 536.60,744.19 537.00,738.21 537.40,746.31 537.80,745.38 538.20,740.72 538.60,736.91 539.00,743.44 539.40,746.72 539.80,746.62 540.20,737.28 540.00,732.00 540.30,737.28 540.60,746.84 541.00,737.29 541.40,743.62 541.80,737.85 542.20,736.10 542.60,735.60 543.00,734.34 543.40,732.76 543.80,737.20 544.20,740.19 544.60,744.08 545.00,751.77 545.40,751.14 545.80,740.68 546.20,739.76 546.60,746.27 547.00,748.36 547.40,748.28 547.80,750.93 548.20,751.27 548.60,755.37 549.00,744.25 549.40,754.72 549.80,751.61 550.20,753.42 550.60,747.81 551.00,744.21 551.40,746.97 551.80,753.53 552.20,757.78 552.60,744.27 553.00,749.74 553.40,747.85 553.80,752.23 554.20,759.06 554.60,753.07 555.00,758.16 555.40,756.01 555.80,745.57 556.20,751.78 556.60,749.44 557.00,749.67 557.40,746.79 557.80,749.37 558.20,749.50 558.60,753.34 559.00,757.51 559.40,742.10 559.80,747.84 560.20,750.29 560.60,749.45 561.00,745.39 561.40,748.62 561.80,748.38 562.20,754.96 562.60,757.31 563.00,754.13 563.40,751.14 563.80,758.94 564.20,757.70 564.60,754.64 565.00,752.75 565.40,749.61 565.80,755.70 566.20,754.17 566.60,751.87 567.00,747.29 567.40,747.26 567.80,747.79 568.20,754.76 568.60,751.64 569.00,747.19 569.40,747.02 569.80,749.93 570.20,747.35 570.60,745.04 571.00,749.64 571.40,755.24 571.80,754.25 572.20,746.44 572.60,752.04 573.00,744.56 573.40,746.52 573.80,742.78 574.20,742.71 574.60,746.60 575.00,747.84 575.40,749.55 575.80,748.44 576.20,746.87 576.60,748.12 577.00,749.57 577.40,749.72 577.80,756.50 578.20,750.11 578.60,746.14 579.00,749.55 579.40,749.60 579.80,744.05 580.20,741.98 580.60,745.79 581.00,746.38 581.40,746.40 581.80,756.66 582.20,750.90 582.60,742.45 583.00,747.24 583.40,749.63 583.80,750.06 584.20,753.31 584.60,753.14 585.00,747.84 585.40,749.98 585.80,750.30 586.20,750.33 586.60,748.90 587.00,748.05 587.40,748.56 587.80,748.64 588.20,746.13 588.60,750.97 589.00,755.26 589.40,748.07 589.80,745.75 590.20,747.78 590.60,747.85 591.00,748.28 591.40,745.11 591.80,748.07 592.20,748.32 592.60,751.35 593.00,752.10" fill="none" stroke="#000" stroke-width="1.3" stroke-linejoin="round" />
</g>
<line x1="120.8" y1="38.3" x2="120.8" y2="769.55" stroke="#4e9114" stroke-width="2.7" />
<line x1="133.5" y1="38.3" x2="133.5" y2="769.55" stroke="#e864e8" stroke-width="3.0" />
<line x1="150.5" y1="38.3" x2="150.5" y2="769.55" stroke="#e864e8" stroke-width="3.0" />
<line x1="156.4" y1="38.3" x2="156.4" y2="769.55" stroke="#e864e8" stroke-width="3.0" />
<line x1="165.3" y1="38.3" x2="165.3" y2="119.55" stroke="#0000e0" stroke-width="2.9" stroke-dasharray="8 4.3"/>
<line x1="165.3" y1="119.55" x2="165.3" y2="200.8" stroke="#0000e0" stroke-width="2.9" stroke-dasharray="8 4.3"/>
<line x1="165.3" y1="200.8" x2="165.3" y2="282.05" stroke="#0000e0" stroke-width="2.9" stroke-dasharray="8 4.3"/>
<line x1="165.3" y1="282.05" x2="165.3" y2="363.3" stroke="#0000e0" stroke-width="2.9" stroke-dasharray="8 4.3"/>
<line x1="165.3" y1="363.3" x2="165.3" y2="444.55" stroke="#0000e0" stroke-width="2.9" stroke-dasharray="8 4.3"/>
<line x1="165.3" y1="444.55" x2="165.3" y2="525.8" stroke="#0000e0" stroke-width="2.9" stroke-dasharray="8 4.3"/>
<line x1="165.3" y1="525.8" x2="165.3" y2="607.05" stroke="#0000e0" stroke-width="2.9" stroke-dasharray="8 4.3"/>
<line x1="165.3" y1="607.05" x2="165.3" y2="688.3" stroke="#0000e0" stroke-width="2.9" stroke-dasharray="8 4.3"/>
<line x1="165.3" y1="688.3" x2="165.3" y2="769.55" stroke="#0000e0" stroke-width="2.9" stroke-dasharray="8 4.3"/>
<line x1="171.2" y1="38.3" x2="171.2" y2="769.55" stroke="#4e9114" stroke-width="2.7" />
<line x1="197.3" y1="41.8" x2="197.3" y2="121.55" stroke="#4c9312" stroke-width="2.8" stroke-dasharray="5.5 9.3"/>
<line x1="197.3" y1="123.05" x2="197.3" y2="202.8" stroke="#4c9312" stroke-width="2.8" stroke-dasharray="5.5 9.3"/>
<line x1="197.3" y1="204.3" x2="197.3" y2="284.05" stroke="#4c9312" stroke-width="2.8" stroke-dasharray="5.5 9.3"/>
<line x1="197.3" y1="285.55" x2="197.3" y2="365.3" stroke="#4c9312" stroke-width="2.8" stroke-dasharray="5.5 9.3"/>
<line x1="197.3" y1="366.8" x2="197.3" y2="446.55" stroke="#4c9312" stroke-width="2.8" stroke-dasharray="5.5 9.3"/>
<line x1="197.3" y1="448.05" x2="197.3" y2="527.8" stroke="#4c9312" stroke-width="2.8" stroke-dasharray="5.5 9.3"/>
<line x1="197.3" y1="529.3" x2="197.3" y2="609.05" stroke="#4c9312" stroke-width="2.8" stroke-dasharray="5.5 9.3"/>
<line x1="197.3" y1="610.55" x2="197.3" y2="690.3" stroke="#4c9312" stroke-width="2.8" stroke-dasharray="5.5 9.3"/>
<line x1="197.3" y1="691.8" x2="197.3" y2="771.55" stroke="#4c9312" stroke-width="2.8" stroke-dasharray="5.5 9.3"/>
<line x1="358.7" y1="38.3" x2="358.7" y2="769.55" stroke="#0033dd" stroke-width="3.0" />
<line x1="77.50" y1="38.3" x2="77.50" y2="48.8" stroke="#000" stroke-width="1"/>
<line x1="77.50" y1="119.55" x2="77.50" y2="109.05" stroke="#000" stroke-width="1"/>
<line x1="120.48" y1="38.3" x2="120.48" y2="41.9" stroke="#000" stroke-width="1"/>
<line x1="120.48" y1="119.55" x2="120.48" y2="115.95" stroke="#000" stroke-width="1"/>
<line x1="163.47" y1="38.3" x2="163.47" y2="41.9" stroke="#000" stroke-width="1"/>
<line x1="163.47" y1="119.55" x2="163.47" y2="115.95" stroke="#000" stroke-width="1"/>
<line x1="206.45" y1="38.3" x2="206.45" y2="41.9" stroke="#000" stroke-width="1"/>
<line x1="206.45" y1="119.55" x2="206.45" y2="115.95" stroke="#000" stroke-width="1"/>
<line x1="249.43" y1="38.3" x2="249.43" y2="48.8" stroke="#000" stroke-width="1"/>
<line x1="249.43" y1="119.55" x2="249.43" y2="109.05" stroke="#000" stroke-width="1"/>
<line x1="292.42" y1="38.3" x2="292.42" y2="41.9" stroke="#000" stroke-width="1"/>
<line x1="292.42" y1="119.55" x2="292.42" y2="115.95" stroke="#000" stroke-width="1"/>
<line x1="335.40" y1="38.3" x2="335.40" y2="41.9" stroke="#000" stroke-width="1"/>
<line x1="335.40" y1="119.55" x2="335.40" y2="115.95" stroke="#000" stroke-width="1"/>
<line x1="378.38" y1="38.3" x2="378.38" y2="41.9" stroke="#000" stroke-width="1"/>
<line x1="378.38" y1="119.55" x2="378.38" y2="115.95" stroke="#000" stroke-width="1"/>
<line x1="421.37" y1="38.3" x2="421.37" y2="48.8" stroke="#000" stroke-width="1"/>
<line x1="421.37" y1="119.55" x2="421.37" y2="109.05" stroke="#000" stroke-width="1"/>
<line x1="464.35" y1="38.3" x2="464.35" y2="41.9" stroke="#000" stroke-width="1"/>
<line x1="464.35" y1="119.55" x2="464.35" y2="115.95" stroke="#000" stroke-width="1"/>
<line x1="507.33" y1="38.3" x2="507.33" y2="41.9" stroke="#000" stroke-width="1"/>
<line x1="507.33" y1="119.55" x2="507.33" y2="115.95" stroke="#000" stroke-width="1"/>
<line x1="550.32" y1="38.3" x2="550.32" y2="41.9" stroke="#000" stroke-width="1"/>
<line x1="550.32" y1="119.55" x2="550.32" y2="115.95" stroke="#000" stroke-width="1"/>
<line x1="593.30" y1="38.3" x2="593.30" y2="48.8" stroke="#000" stroke-width="1"/>
<line x1="593.30" y1="119.55" x2="593.30" y2="109.05" stroke="#000" stroke-width="1"/>
<line x1="77.50" y1="119.55" x2="77.50" y2="130.05" stroke="#000" stroke-width="1"/>
<line x1="77.50" y1="200.8" x2="77.50" y2="190.3" stroke="#000" stroke-width="1"/>
<line x1="120.48" y1="119.55" x2="120.48" y2="123.14999999999999" stroke="#000" stroke-width="1"/>
<line x1="120.48" y1="200.8" x2="120.48" y2="197.20000000000002" stroke="#000" stroke-width="1"/>
<line x1="163.47" y1="119.55" x2="163.47" y2="123.14999999999999" stroke="#000" stroke-width="1"/>
<line x1="163.47" y1="200.8" x2="163.47" y2="197.20000000000002" stroke="#000" stroke-width="1"/>
<line x1="206.45" y1="119.55" x2="206.45" y2="123.14999999999999" stroke="#000" stroke-width="1"/>
<line x1="206.45" y1="200.8" x2="206.45" y2="197.20000000000002" stroke="#000" stroke-width="1"/>
<line x1="249.43" y1="119.55" x2="249.43" y2="130.05" stroke="#000" stroke-width="1"/>
<line x1="249.43" y1="200.8" x2="249.43" y2="190.3" stroke="#000" stroke-width="1"/>
<line x1="292.42" y1="119.55" x2="292.42" y2="123.14999999999999" stroke="#000" stroke-width="1"/>
<line x1="292.42" y1="200.8" x2="292.42" y2="197.20000000000002" stroke="#000" stroke-width="1"/>
<line x1="335.40" y1="119.55" x2="335.40" y2="123.14999999999999" stroke="#000" stroke-width="1"/>
<line x1="335.40" y1="200.8" x2="335.40" y2="197.20000000000002" stroke="#000" stroke-width="1"/>
<line x1="378.38" y1="119.55" x2="378.38" y2="123.14999999999999" stroke="#000" stroke-width="1"/>
<line x1="378.38" y1="200.8" x2="378.38" y2="197.20000000000002" stroke="#000" stroke-width="1"/>
<line x1="421.37" y1="119.55" x2="421.37" y2="130.05" stroke="#000" stroke-width="1"/>
<line x1="421.37" y1="200.8" x2="421.37" y2="190.3" stroke="#000" stroke-width="1"/>
<line x1="464.35" y1="119.55" x2="464.35" y2="123.14999999999999" stroke="#000" stroke-width="1"/>
<line x1="464.35" y1="200.8" x2="464.35" y2="197.20000000000002" stroke="#000" stroke-width="1"/>
<line x1="507.33" y1="119.55" x2="507.33" y2="123.14999999999999" stroke="#000" stroke-width="1"/>
<line x1="507.33" y1="200.8" x2="507.33" y2="197.20000000000002" stroke="#000" stroke-width="1"/>
<line x1="550.32" y1="119.55" x2="550.32" y2="123.14999999999999" stroke="#000" stroke-width="1"/>
<line x1="550.32" y1="200.8" x2="550.32" y2="197.20000000000002" stroke="#000" stroke-width="1"/>
<line x1="593.30" y1="119.55" x2="593.30" y2="130.05" stroke="#000" stroke-width="1"/>
<line x1="593.30" y1="200.8" x2="593.30" y2="190.3" stroke="#000" stroke-width="1"/>
<line x1="77.50" y1="200.8" x2="77.50" y2="211.3" stroke="#000" stroke-width="1"/>
<line x1="77.50" y1="282.05" x2="77.50" y2="271.55" stroke="#000" stroke-width="1"/>
<line x1="120.48" y1="200.8" x2="120.48" y2="204.4" stroke="#000" stroke-width="1"/>
<line x1="120.48" y1="282.05" x2="120.48" y2="278.45" stroke="#000" stroke-width="1"/>
<line x1="163.47" y1="200.8" x2="163.47" y2="204.4" stroke="#000" stroke-width="1"/>
<line x1="163.47" y1="282.05" x2="163.47" y2="278.45" stroke="#000" stroke-width="1"/>
<line x1="206.45" y1="200.8" x2="206.45" y2="204.4" stroke="#000" stroke-width="1"/>
<line x1="206.45" y1="282.05" x2="206.45" y2="278.45" stroke="#000" stroke-width="1"/>
<line x1="249.43" y1="200.8" x2="249.43" y2="211.3" stroke="#000" stroke-width="1"/>
<line x1="249.43" y1="282.05" x2="249.43" y2="271.55" stroke="#000" stroke-width="1"/>
<line x1="292.42" y1="200.8" x2="292.42" y2="204.4" stroke="#000" stroke-width="1"/>
<line x1="292.42" y1="282.05" x2="292.42" y2="278.45" stroke="#000" stroke-width="1"/>
<line x1="335.40" y1="200.8" x2="335.40" y2="204.4" stroke="#000" stroke-width="1"/>
<line x1="335.40" y1="282.05" x2="335.40" y2="278.45" stroke="#000" stroke-width="1"/>
<line x1="378.38" y1="200.8" x2="378.38" y2="204.4" stroke="#000" stroke-width="1"/>
<line x1="378.38" y1="282.05" x2="378.38" y2="278.45" stroke="#000" stroke-width="1"/>
<line x1="421.37" y1="200.8" x2="421.37" y2="211.3" stroke="#000" stroke-width="1"/>
<line x1="421.37" y1="282.05" x2="421.37" y2="271.55" stroke="#000" stroke-width="1"/>
<line x1="464.35" y1="200.8" x2="464.35" y2="204.4" stroke="#000" stroke-width="1"/>
<line x1="464.35" y1="282.05" x2="464.35" y2="278.45" stroke="#000" stroke-width="1"/>
<line x1="507.33" y1="200.8" x2="507.33" y2="204.4" stroke="#000" stroke-width="1"/>
<line x1="507.33" y1="282.05" x2="507.33" y2="278.45" stroke="#000" stroke-width="1"/>
<line x1="550.32" y1="200.8" x2="550.32" y2="204.4" stroke="#000" stroke-width="1"/>
<line x1="550.32" y1="282.05" x2="550.32" y2="278.45" stroke="#000" stroke-width="1"/>
<line x1="593.30" y1="200.8" x2="593.30" y2="211.3" stroke="#000" stroke-width="1"/>
<line x1="593.30" y1="282.05" x2="593.30" y2="271.55" stroke="#000" stroke-width="1"/>
<line x1="77.50" y1="282.05" x2="77.50" y2="292.55" stroke="#000" stroke-width="1"/>
<line x1="77.50" y1="363.3" x2="77.50" y2="352.8" stroke="#000" stroke-width="1"/>
<line x1="120.48" y1="282.05" x2="120.48" y2="285.65000000000003" stroke="#000" stroke-width="1"/>
<line x1="120.48" y1="363.3" x2="120.48" y2="359.7" stroke="#000" stroke-width="1"/>
<line x1="163.47" y1="282.05" x2="163.47" y2="285.65000000000003" stroke="#000" stroke-width="1"/>
<line x1="163.47" y1="363.3" x2="163.47" y2="359.7" stroke="#000" stroke-width="1"/>
<line x1="206.45" y1="282.05" x2="206.45" y2="285.65000000000003" stroke="#000" stroke-width="1"/>
<line x1="206.45" y1="363.3" x2="206.45" y2="359.7" stroke="#000" stroke-width="1"/>
<line x1="249.43" y1="282.05" x2="249.43" y2="292.55" stroke="#000" stroke-width="1"/>
<line x1="249.43" y1="363.3" x2="249.43" y2="352.8" stroke="#000" stroke-width="1"/>
<line x1="292.42" y1="282.05" x2="292.42" y2="285.65000000000003" stroke="#000" stroke-width="1"/>
<line x1="292.42" y1="363.3" x2="292.42" y2="359.7" stroke="#000" stroke-width="1"/>
<line x1="335.40" y1="282.05" x2="335.40" y2="285.65000000000003" stroke="#000" stroke-width="1"/>
<line x1="335.40" y1="363.3" x2="335.40" y2="359.7" stroke="#000" stroke-width="1"/>
<line x1="378.38" y1="282.05" x2="378.38" y2="285.65000000000003" stroke="#000" stroke-width="1"/>
<line x1="378.38" y1="363.3" x2="378.38" y2="359.7" stroke="#000" stroke-width="1"/>
<line x1="421.37" y1="282.05" x2="421.37" y2="292.55" stroke="#000" stroke-width="1"/>
<line x1="421.37" y1="363.3" x2="421.37" y2="352.8" stroke="#000" stroke-width="1"/>
<line x1="464.35" y1="282.05" x2="464.35" y2="285.65000000000003" stroke="#000" stroke-width="1"/>
<line x1="464.35" y1="363.3" x2="464.35" y2="359.7" stroke="#000" stroke-width="1"/>
<line x1="507.33" y1="282.05" x2="507.33" y2="285.65000000000003" stroke="#000" stroke-width="1"/>
<line x1="507.33" y1="363.3" x2="507.33" y2="359.7" stroke="#000" stroke-width="1"/>
<line x1="550.32" y1="282.05" x2="550.32" y2="285.65000000000003" stroke="#000" stroke-width="1"/>
<line x1="550.32" y1="363.3" x2="550.32" y2="359.7" stroke="#000" stroke-width="1"/>
<line x1="593.30" y1="282.05" x2="593.30" y2="292.55" stroke="#000" stroke-width="1"/>
<line x1="593.30" y1="363.3" x2="593.30" y2="352.8" stroke="#000" stroke-width="1"/>
<line x1="77.50" y1="363.3" x2="77.50" y2="373.8" stroke="#000" stroke-width="1"/>
<line x1="77.50" y1="444.55" x2="77.50" y2="434.05" stroke="#000" stroke-width="1"/>
<line x1="120.48" y1="363.3" x2="120.48" y2="366.90000000000003" stroke="#000" stroke-width="1"/>
<line x1="120.48" y1="444.55" x2="120.48" y2="440.95" stroke="#000" stroke-width="1"/>
<line x1="163.47" y1="363.3" x2="163.47" y2="366.90000000000003" stroke="#000" stroke-width="1"/>
<line x1="163.47" y1="444.55" x2="163.47" y2="440.95" stroke="#000" stroke-width="1"/>
<line x1="206.45" y1="363.3" x2="206.45" y2="366.90000000000003" stroke="#000" stroke-width="1"/>
<line x1="206.45" y1="444.55" x2="206.45" y2="440.95" stroke="#000" stroke-width="1"/>
<line x1="249.43" y1="363.3" x2="249.43" y2="373.8" stroke="#000" stroke-width="1"/>
<line x1="249.43" y1="444.55" x2="249.43" y2="434.05" stroke="#000" stroke-width="1"/>
<line x1="292.42" y1="363.3" x2="292.42" y2="366.90000000000003" stroke="#000" stroke-width="1"/>
<line x1="292.42" y1="444.55" x2="292.42" y2="440.95" stroke="#000" stroke-width="1"/>
<line x1="335.40" y1="363.3" x2="335.40" y2="366.90000000000003" stroke="#000" stroke-width="1"/>
<line x1="335.40" y1="444.55" x2="335.40" y2="440.95" stroke="#000" stroke-width="1"/>
<line x1="378.38" y1="363.3" x2="378.38" y2="366.90000000000003" stroke="#000" stroke-width="1"/>
<line x1="378.38" y1="444.55" x2="378.38" y2="440.95" stroke="#000" stroke-width="1"/>
<line x1="421.37" y1="363.3" x2="421.37" y2="373.8" stroke="#000" stroke-width="1"/>
<line x1="421.37" y1="444.55" x2="421.37" y2="434.05" stroke="#000" stroke-width="1"/>
<line x1="464.35" y1="363.3" x2="464.35" y2="366.90000000000003" stroke="#000" stroke-width="1"/>
<line x1="464.35" y1="444.55" x2="464.35" y2="440.95" stroke="#000" stroke-width="1"/>
<line x1="507.33" y1="363.3" x2="507.33" y2="366.90000000000003" stroke="#000" stroke-width="1"/>
<line x1="507.33" y1="444.55" x2="507.33" y2="440.95" stroke="#000" stroke-width="1"/>
<line x1="550.32" y1="363.3" x2="550.32" y2="366.90000000000003" stroke="#000" stroke-width="1"/>
<line x1="550.32" y1="444.55" x2="550.32" y2="440.95" stroke="#000" stroke-width="1"/>
<line x1="593.30" y1="363.3" x2="593.30" y2="373.8" stroke="#000" stroke-width="1"/>
<line x1="593.30" y1="444.55" x2="593.30" y2="434.05" stroke="#000" stroke-width="1"/>
<line x1="77.50" y1="444.55" x2="77.50" y2="455.05" stroke="#000" stroke-width="1"/>
<line x1="77.50" y1="525.8" x2="77.50" y2="515.3" stroke="#000" stroke-width="1"/>
<line x1="120.48" y1="444.55" x2="120.48" y2="448.15000000000003" stroke="#000" stroke-width="1"/>
<line x1="120.48" y1="525.8" x2="120.48" y2="522.1999999999999" stroke="#000" stroke-width="1"/>
<line x1="163.47" y1="444.55" x2="163.47" y2="448.15000000000003" stroke="#000" stroke-width="1"/>
<line x1="163.47" y1="525.8" x2="163.47" y2="522.1999999999999" stroke="#000" stroke-width="1"/>
<line x1="206.45" y1="444.55" x2="206.45" y2="448.15000000000003" stroke="#000" stroke-width="1"/>
<line x1="206.45" y1="525.8" x2="206.45" y2="522.1999999999999" stroke="#000" stroke-width="1"/>
<line x1="249.43" y1="444.55" x2="249.43" y2="455.05" stroke="#000" stroke-width="1"/>
<line x1="249.43" y1="525.8" x2="249.43" y2="515.3" stroke="#000" stroke-width="1"/>
<line x1="292.42" y1="444.55" x2="292.42" y2="448.15000000000003" stroke="#000" stroke-width="1"/>
<line x1="292.42" y1="525.8" x2="292.42" y2="522.1999999999999" stroke="#000" stroke-width="1"/>
<line x1="335.40" y1="444.55" x2="335.40" y2="448.15000000000003" stroke="#000" stroke-width="1"/>
<line x1="335.40" y1="525.8" x2="335.40" y2="522.1999999999999" stroke="#000" stroke-width="1"/>
<line x1="378.38" y1="444.55" x2="378.38" y2="448.15000000000003" stroke="#000" stroke-width="1"/>
<line x1="378.38" y1="525.8" x2="378.38" y2="522.1999999999999" stroke="#000" stroke-width="1"/>
<line x1="421.37" y1="444.55" x2="421.37" y2="455.05" stroke="#000" stroke-width="1"/>
<line x1="421.37" y1="525.8" x2="421.37" y2="515.3" stroke="#000" stroke-width="1"/>
<line x1="464.35" y1="444.55" x2="464.35" y2="448.15000000000003" stroke="#000" stroke-width="1"/>
<line x1="464.35" y1="525.8" x2="464.35" y2="522.1999999999999" stroke="#000" stroke-width="1"/>
<line x1="507.33" y1="444.55" x2="507.33" y2="448.15000000000003" stroke="#000" stroke-width="1"/>
<line x1="507.33" y1="525.8" x2="507.33" y2="522.1999999999999" stroke="#000" stroke-width="1"/>
<line x1="550.32" y1="444.55" x2="550.32" y2="448.15000000000003" stroke="#000" stroke-width="1"/>
<line x1="550.32" y1="525.8" x2="550.32" y2="522.1999999999999" stroke="#000" stroke-width="1"/>
<line x1="593.30" y1="444.55" x2="593.30" y2="455.05" stroke="#000" stroke-width="1"/>
<line x1="593.30" y1="525.8" x2="593.30" y2="515.3" stroke="#000" stroke-width="1"/>
<line x1="77.50" y1="525.8" x2="77.50" y2="536.3" stroke="#000" stroke-width="1"/>
<line x1="77.50" y1="607.05" x2="77.50" y2="596.55" stroke="#000" stroke-width="1"/>
<line x1="120.48" y1="525.8" x2="120.48" y2="529.4" stroke="#000" stroke-width="1"/>
<line x1="120.48" y1="607.05" x2="120.48" y2="603.4499999999999" stroke="#000" stroke-width="1"/>
<line x1="163.47" y1="525.8" x2="163.47" y2="529.4" stroke="#000" stroke-width="1"/>
<line x1="163.47" y1="607.05" x2="163.47" y2="603.4499999999999" stroke="#000" stroke-width="1"/>
<line x1="206.45" y1="525.8" x2="206.45" y2="529.4" stroke="#000" stroke-width="1"/>
<line x1="206.45" y1="607.05" x2="206.45" y2="603.4499999999999" stroke="#000" stroke-width="1"/>
<line x1="249.43" y1="525.8" x2="249.43" y2="536.3" stroke="#000" stroke-width="1"/>
<line x1="249.43" y1="607.05" x2="249.43" y2="596.55" stroke="#000" stroke-width="1"/>
<line x1="292.42" y1="525.8" x2="292.42" y2="529.4" stroke="#000" stroke-width="1"/>
<line x1="292.42" y1="607.05" x2="292.42" y2="603.4499999999999" stroke="#000" stroke-width="1"/>
<line x1="335.40" y1="525.8" x2="335.40" y2="529.4" stroke="#000" stroke-width="1"/>
<line x1="335.40" y1="607.05" x2="335.40" y2="603.4499999999999" stroke="#000" stroke-width="1"/>
<line x1="378.38" y1="525.8" x2="378.38" y2="529.4" stroke="#000" stroke-width="1"/>
<line x1="378.38" y1="607.05" x2="378.38" y2="603.4499999999999" stroke="#000" stroke-width="1"/>
<line x1="421.37" y1="525.8" x2="421.37" y2="536.3" stroke="#000" stroke-width="1"/>
<line x1="421.37" y1="607.05" x2="421.37" y2="596.55" stroke="#000" stroke-width="1"/>
<line x1="464.35" y1="525.8" x2="464.35" y2="529.4" stroke="#000" stroke-width="1"/>
<line x1="464.35" y1="607.05" x2="464.35" y2="603.4499999999999" stroke="#000" stroke-width="1"/>
<line x1="507.33" y1="525.8" x2="507.33" y2="529.4" stroke="#000" stroke-width="1"/>
<line x1="507.33" y1="607.05" x2="507.33" y2="603.4499999999999" stroke="#000" stroke-width="1"/>
<line x1="550.32" y1="525.8" x2="550.32" y2="529.4" stroke="#000" stroke-width="1"/>
<line x1="550.32" y1="607.05" x2="550.32" y2="603.4499999999999" stroke="#000" stroke-width="1"/>
<line x1="593.30" y1="525.8" x2="593.30" y2="536.3" stroke="#000" stroke-width="1"/>
<line x1="593.30" y1="607.05" x2="593.30" y2="596.55" stroke="#000" stroke-width="1"/>
<line x1="77.50" y1="607.05" x2="77.50" y2="617.55" stroke="#000" stroke-width="1"/>
<line x1="77.50" y1="688.3" x2="77.50" y2="677.8" stroke="#000" stroke-width="1"/>
<line x1="120.48" y1="607.05" x2="120.48" y2="610.65" stroke="#000" stroke-width="1"/>
<line x1="120.48" y1="688.3" x2="120.48" y2="684.6999999999999" stroke="#000" stroke-width="1"/>
<line x1="163.47" y1="607.05" x2="163.47" y2="610.65" stroke="#000" stroke-width="1"/>
<line x1="163.47" y1="688.3" x2="163.47" y2="684.6999999999999" stroke="#000" stroke-width="1"/>
<line x1="206.45" y1="607.05" x2="206.45" y2="610.65" stroke="#000" stroke-width="1"/>
<line x1="206.45" y1="688.3" x2="206.45" y2="684.6999999999999" stroke="#000" stroke-width="1"/>
<line x1="249.43" y1="607.05" x2="249.43" y2="617.55" stroke="#000" stroke-width="1"/>
<line x1="249.43" y1="688.3" x2="249.43" y2="677.8" stroke="#000" stroke-width="1"/>
<line x1="292.42" y1="607.05" x2="292.42" y2="610.65" stroke="#000" stroke-width="1"/>
<line x1="292.42" y1="688.3" x2="292.42" y2="684.6999999999999" stroke="#000" stroke-width="1"/>
<line x1="335.40" y1="607.05" x2="335.40" y2="610.65" stroke="#000" stroke-width="1"/>
<line x1="335.40" y1="688.3" x2="335.40" y2="684.6999999999999" stroke="#000" stroke-width="1"/>
<line x1="378.38" y1="607.05" x2="378.38" y2="610.65" stroke="#000" stroke-width="1"/>
<line x1="378.38" y1="688.3" x2="378.38" y2="684.6999999999999" stroke="#000" stroke-width="1"/>
<line x1="421.37" y1="607.05" x2="421.37" y2="617.55" stroke="#000" stroke-width="1"/>
<line x1="421.37" y1="688.3" x2="421.37" y2="677.8" stroke="#000" stroke-width="1"/>
<line x1="464.35" y1="607.05" x2="464.35" y2="610.65" stroke="#000" stroke-width="1"/>
<line x1="464.35" y1="688.3" x2="464.35" y2="684.6999999999999" stroke="#000" stroke-width="1"/>
<line x1="507.33" y1="607.05" x2="507.33" y2="610.65" stroke="#000" stroke-width="1"/>
<line x1="507.33" y1="688.3" x2="507.33" y2="684.6999999999999" stroke="#000" stroke-width="1"/>
<line x1="550.32" y1="607.05" x2="550.32" y2="610.65" stroke="#000" stroke-width="1"/>
<line x1="550.32" y1="688.3" x2="550.32" y2="684.6999999999999" stroke="#000" stroke-width="1"/>
<line x1="593.30" y1="607.05" x2="593.30" y2="617.55" stroke="#000" stroke-width="1"/>
<line x1="593.30" y1="688.3" x2="593.30" y2="677.8" stroke="#000" stroke-width="1"/>
<line x1="77.50" y1="688.3" x2="77.50" y2="698.8" stroke="#000" stroke-width="1"/>
<line x1="77.50" y1="769.55" x2="77.50" y2="759.05" stroke="#000" stroke-width="1"/>
<line x1="120.48" y1="688.3" x2="120.48" y2="691.9" stroke="#000" stroke-width="1"/>
<line x1="120.48" y1="769.55" x2="120.48" y2="765.9499999999999" stroke="#000" stroke-width="1"/>
<line x1="163.47" y1="688.3" x2="163.47" y2="691.9" stroke="#000" stroke-width="1"/>
<line x1="163.47" y1="769.55" x2="163.47" y2="765.9499999999999" stroke="#000" stroke-width="1"/>
<line x1="206.45" y1="688.3" x2="206.45" y2="691.9" stroke="#000" stroke-width="1"/>
<line x1="206.45" y1="769.55" x2="206.45" y2="765.9499999999999" stroke="#000" stroke-width="1"/>
<line x1="249.43" y1="688.3" x2="249.43" y2="698.8" stroke="#000" stroke-width="1"/>
<line x1="249.43" y1="769.55" x2="249.43" y2="759.05" stroke="#000" stroke-width="1"/>
<line x1="292.42" y1="688.3" x2="292.42" y2="691.9" stroke="#000" stroke-width="1"/>
<line x1="292.42" y1="769.55" x2="292.42" y2="765.9499999999999" stroke="#000" stroke-width="1"/>
<line x1="335.40" y1="688.3" x2="335.40" y2="691.9" stroke="#000" stroke-width="1"/>
<line x1="335.40" y1="769.55" x2="335.40" y2="765.9499999999999" stroke="#000" stroke-width="1"/>
<line x1="378.38" y1="688.3" x2="378.38" y2="691.9" stroke="#000" stroke-width="1"/>
<line x1="378.38" y1="769.55" x2="378.38" y2="765.9499999999999" stroke="#000" stroke-width="1"/>
<line x1="421.37" y1="688.3" x2="421.37" y2="698.8" stroke="#000" stroke-width="1"/>
<line x1="421.37" y1="769.55" x2="421.37" y2="759.05" stroke="#000" stroke-width="1"/>
<line x1="464.35" y1="688.3" x2="464.35" y2="691.9" stroke="#000" stroke-width="1"/>
<line x1="464.35" y1="769.55" x2="464.35" y2="765.9499999999999" stroke="#000" stroke-width="1"/>
<line x1="507.33" y1="688.3" x2="507.33" y2="691.9" stroke="#000" stroke-width="1"/>
<line x1="507.33" y1="769.55" x2="507.33" y2="765.9499999999999" stroke="#000" stroke-width="1"/>
<line x1="550.32" y1="688.3" x2="550.32" y2="691.9" stroke="#000" stroke-width="1"/>
<line x1="550.32" y1="769.55" x2="550.32" y2="765.9499999999999" stroke="#000" stroke-width="1"/>
<line x1="593.30" y1="688.3" x2="593.30" y2="698.8" stroke="#000" stroke-width="1"/>
<line x1="593.30" y1="769.55" x2="593.30" y2="759.05" stroke="#000" stroke-width="1"/>
<line x1="76.85" y1="38.3" x2="593.9499999999999" y2="38.3" stroke="#000" stroke-width="1.3"/>
<line x1="76.85" y1="119.55" x2="593.9499999999999" y2="119.55" stroke="#000" stroke-width="1.3"/>
<line x1="76.85" y1="200.8" x2="593.9499999999999" y2="200.8" stroke="#000" stroke-width="1.3"/>
<line x1="76.85" y1="282.05" x2="593.9499999999999" y2="282.05" stroke="#000" stroke-width="1.3"/>
<line x1="76.85" y1="363.3" x2="593.9499999999999" y2="363.3" stroke="#000" stroke-width="1.3"/>
<line x1="76.85" y1="444.55" x2="593.9499999999999" y2="444.55" stroke="#000" stroke-width="1.3"/>
<line x1="76.85" y1="525.8" x2="593.9499999999999" y2="525.8" stroke="#000" stroke-width="1.3"/>
<line x1="76.85" y1="607.05" x2="593.9499999999999" y2="607.05" stroke="#000" stroke-width="1.3"/>
<line x1="76.85" y1="688.3" x2="593.9499999999999" y2="688.3" stroke="#000" stroke-width="1.3"/>
<line x1="76.85" y1="769.55" x2="593.9499999999999" y2="769.55" stroke="#000" stroke-width="1.3"/>
<line x1="77.5" y1="38.3" x2="77.5" y2="769.55" stroke="#000" stroke-width="1.3"/>
<line x1="593.3" y1="38.3" x2="593.3" y2="769.55" stroke="#000" stroke-width="1.3"/>
<line x1="77.5" y1="117.35" x2="79.9" y2="117.35" stroke="#000" stroke-width="1"/>
<line x1="593.3" y1="117.35" x2="590.9" y2="117.35" stroke="#000" stroke-width="1"/>
<line x1="77.5" y1="115.54" x2="79.9" y2="115.54" stroke="#000" stroke-width="1"/>
<line x1="593.3" y1="115.54" x2="590.9" y2="115.54" stroke="#000" stroke-width="1"/>
<line x1="77.5" y1="113.74" x2="79.9" y2="113.74" stroke="#000" stroke-width="1"/>
<line x1="593.3" y1="113.74" x2="590.9" y2="113.74" stroke="#000" stroke-width="1"/>
<line x1="77.5" y1="111.93" x2="79.9" y2="111.93" stroke="#000" stroke-width="1"/>
<line x1="593.3" y1="111.93" x2="590.9" y2="111.93" stroke="#000" stroke-width="1"/>
<line x1="77.5" y1="110.12" x2="79.9" y2="110.12" stroke="#000" stroke-width="1"/>
<line x1="593.3" y1="110.12" x2="590.9" y2="110.12" stroke="#000" stroke-width="1"/>
<line x1="77.5" y1="108.32" x2="79.9" y2="108.32" stroke="#000" stroke-width="1"/>
<line x1="593.3" y1="108.32" x2="590.9" y2="108.32" stroke="#000" stroke-width="1"/>
<line x1="77.5" y1="106.51" x2="79.9" y2="106.51" stroke="#000" stroke-width="1"/>
<line x1="593.3" y1="106.51" x2="590.9" y2="106.51" stroke="#000" stroke-width="1"/>
<line x1="77.5" y1="104.71" x2="79.9" y2="104.71" stroke="#000" stroke-width="1"/>
<line x1="593.3" y1="104.71" x2="590.9" y2="104.71" stroke="#000" stroke-width="1"/>
<line x1="77.5" y1="102.90" x2="79.9" y2="102.90" stroke="#000" stroke-width="1"/>
<line x1="593.3" y1="102.90" x2="590.9" y2="102.90" stroke="#000" stroke-width="1"/>
<line x1="77.5" y1="101.09" x2="79.9" y2="101.09" stroke="#000" stroke-width="1"/>
<line x1="593.3" y1="101.09" x2="590.9" y2="101.09" stroke="#000" stroke-width="1"/>
<line x1="77.5" y1="99.29" x2="79.9" y2="99.29" stroke="#000" stroke-width="1"/>
<line x1="593.3" y1="99.29" x2="590.9" y2="99.29" stroke="#000" stroke-width="1"/>
<line x1="77.5" y1="97.48" x2="79.9" y2="97.48" stroke="#000" stroke-width="1"/>
<line x1="593.3" y1="97.48" x2="590.9" y2="97.48" stroke="#000" stroke-width="1"/>
<line x1="77.5" y1="95.68" x2="79.9" y2="95.68" stroke="#000" stroke-width="1"/>
<line x1="593.3" y1="95.68" x2="590.9" y2="95.68" stroke="#000" stroke-width="1"/>
<line x1="77.5" y1="93.87" x2="79.9" y2="93.87" stroke="#000" stroke-width="1"/>
<line x1="593.3" y1="93.87" x2="590.9" y2="93.87" stroke="#000" stroke-width="1"/>
<line x1="77.5" y1="92.06" x2="79.9" y2="92.06" stroke="#000" stroke-width="1"/>
<line x1="593.3" y1="92.06" x2="590.9" y2="92.06" stroke="#000" stroke-width="1"/>
<line x1="77.5" y1="90.26" x2="79.9" y2="90.26" stroke="#000" stroke-width="1"/>
<line x1="593.3" y1="90.26" x2="590.9" y2="90.26" stroke="#000" stroke-width="1"/>
<line x1="77.5" y1="88.45" x2="79.9" y2="88.45" stroke="#000" stroke-width="1"/>
<line x1="593.3" y1="88.45" x2="590.9" y2="88.45" stroke="#000" stroke-width="1"/>
<line x1="77.5" y1="86.65" x2="79.9" y2="86.65" stroke="#000" stroke-width="1"/>
<line x1="593.3" y1="86.65" x2="590.9" y2="86.65" stroke="#000" stroke-width="1"/>
<line x1="77.5" y1="84.84" x2="79.9" y2="84.84" stroke="#000" stroke-width="1"/>
<line x1="593.3" y1="84.84" x2="590.9" y2="84.84" stroke="#000" stroke-width="1"/>
<line x1="77.5" y1="83.03" x2="79.9" y2="83.03" stroke="#000" stroke-width="1"/>
<line x1="593.3" y1="83.03" x2="590.9" y2="83.03" stroke="#000" stroke-width="1"/>
<line x1="77.5" y1="81.23" x2="79.9" y2="81.23" stroke="#000" stroke-width="1"/>
<line x1="593.3" y1="81.23" x2="590.9" y2="81.23" stroke="#000" stroke-width="1"/>
<line x1="77.5" y1="79.42" x2="79.9" y2="79.42" stroke="#000" stroke-width="1"/>
<line x1="593.3" y1="79.42" x2="590.9" y2="79.42" stroke="#000" stroke-width="1"/>
<line x1="77.5" y1="77.62" x2="79.9" y2="77.62" stroke="#000" stroke-width="1"/>
<line x1="593.3" y1="77.62" x2="590.9" y2="77.62" stroke="#000" stroke-width="1"/>
<line x1="77.5" y1="75.81" x2="79.9" y2="75.81" stroke="#000" stroke-width="1"/>
<line x1="593.3" y1="75.81" x2="590.9" y2="75.81" stroke="#000" stroke-width="1"/>
<line x1="77.5" y1="74.00" x2="79.9" y2="74.00" stroke="#000" stroke-width="1"/>
<line x1="593.3" y1="74.00" x2="590.9" y2="74.00" stroke="#000" stroke-width="1"/>
<line x1="77.5" y1="72.20" x2="79.9" y2="72.20" stroke="#000" stroke-width="1"/>
<line x1="593.3" y1="72.20" x2="590.9" y2="72.20" stroke="#000" stroke-width="1"/>
<line x1="77.5" y1="70.39" x2="79.9" y2="70.39" stroke="#000" stroke-width="1"/>
<line x1="593.3" y1="70.39" x2="590.9" y2="70.39" stroke="#000" stroke-width="1"/>
<line x1="77.5" y1="68.59" x2="79.9" y2="68.59" stroke="#000" stroke-width="1"/>
<line x1="593.3" y1="68.59" x2="590.9" y2="68.59" stroke="#000" stroke-width="1"/>
<line x1="77.5" y1="66.78" x2="79.9" y2="66.78" stroke="#000" stroke-width="1"/>
<line x1="593.3" y1="66.78" x2="590.9" y2="66.78" stroke="#000" stroke-width="1"/>
<line x1="77.5" y1="64.97" x2="79.9" y2="64.97" stroke="#000" stroke-width="1"/>
<line x1="593.3" y1="64.97" x2="590.9" y2="64.97" stroke="#000" stroke-width="1"/>
<line x1="77.5" y1="63.17" x2="79.9" y2="63.17" stroke="#000" stroke-width="1"/>
<line x1="593.3" y1="63.17" x2="590.9" y2="63.17" stroke="#000" stroke-width="1"/>
<line x1="77.5" y1="61.36" x2="79.9" y2="61.36" stroke="#000" stroke-width="1"/>
<line x1="593.3" y1="61.36" x2="590.9" y2="61.36" stroke="#000" stroke-width="1"/>
<line x1="77.5" y1="59.56" x2="79.9" y2="59.56" stroke="#000" stroke-width="1"/>
<line x1="593.3" y1="59.56" x2="590.9" y2="59.56" stroke="#000" stroke-width="1"/>
<line x1="77.5" y1="57.75" x2="79.9" y2="57.75" stroke="#000" stroke-width="1"/>
<line x1="593.3" y1="57.75" x2="590.9" y2="57.75" stroke="#000" stroke-width="1"/>
<line x1="77.5" y1="55.94" x2="79.9" y2="55.94" stroke="#000" stroke-width="1"/>
<line x1="593.3" y1="55.94" x2="590.9" y2="55.94" stroke="#000" stroke-width="1"/>
<line x1="77.5" y1="54.14" x2="79.9" y2="54.14" stroke="#000" stroke-width="1"/>
<line x1="593.3" y1="54.14" x2="590.9" y2="54.14" stroke="#000" stroke-width="1"/>
<line x1="77.5" y1="52.33" x2="79.9" y2="52.33" stroke="#000" stroke-width="1"/>
<line x1="593.3" y1="52.33" x2="590.9" y2="52.33" stroke="#000" stroke-width="1"/>
<line x1="77.5" y1="50.53" x2="79.9" y2="50.53" stroke="#000" stroke-width="1"/>
<line x1="593.3" y1="50.53" x2="590.9" y2="50.53" stroke="#000" stroke-width="1"/>
<line x1="77.5" y1="48.72" x2="79.9" y2="48.72" stroke="#000" stroke-width="1"/>
<line x1="593.3" y1="48.72" x2="590.9" y2="48.72" stroke="#000" stroke-width="1"/>
<line x1="77.5" y1="46.91" x2="79.9" y2="46.91" stroke="#000" stroke-width="1"/>
<line x1="593.3" y1="46.91" x2="590.9" y2="46.91" stroke="#000" stroke-width="1"/>
<line x1="77.5" y1="45.11" x2="79.9" y2="45.11" stroke="#000" stroke-width="1"/>
<line x1="593.3" y1="45.11" x2="590.9" y2="45.11" stroke="#000" stroke-width="1"/>
<line x1="77.5" y1="43.30" x2="79.9" y2="43.30" stroke="#000" stroke-width="1"/>
<line x1="593.3" y1="43.30" x2="590.9" y2="43.30" stroke="#000" stroke-width="1"/>
<line x1="77.5" y1="41.50" x2="79.9" y2="41.50" stroke="#000" stroke-width="1"/>
<line x1="593.3" y1="41.50" x2="590.9" y2="41.50" stroke="#000" stroke-width="1"/>
<line x1="77.5" y1="39.69" x2="79.9" y2="39.69" stroke="#000" stroke-width="1"/>
<line x1="593.3" y1="39.69" x2="590.9" y2="39.69" stroke="#000" stroke-width="1"/>
<line x1="77.5" y1="102.90" x2="83.5" y2="102.90" stroke="#000" stroke-width="1"/>
<line x1="593.3" y1="102.90" x2="587.3" y2="102.90" stroke="#000" stroke-width="1"/>
<line x1="77.5" y1="84.84" x2="83.5" y2="84.84" stroke="#000" stroke-width="1"/>
<line x1="593.3" y1="84.84" x2="587.3" y2="84.84" stroke="#000" stroke-width="1"/>
<line x1="77.5" y1="66.78" x2="83.5" y2="66.78" stroke="#000" stroke-width="1"/>
<line x1="593.3" y1="66.78" x2="587.3" y2="66.78" stroke="#000" stroke-width="1"/>
<line x1="77.5" y1="48.72" x2="83.5" y2="48.72" stroke="#000" stroke-width="1"/>
<line x1="593.3" y1="48.72" x2="587.3" y2="48.72" stroke="#000" stroke-width="1"/>
<text x="74.2" y="106.50" font-family="'Liberation Sans', sans-serif" font-size="11.5" fill="#000" text-anchor="end" >0</text>
<text x="74.2" y="88.44" font-family="'Liberation Sans', sans-serif" font-size="11.5" fill="#000" text-anchor="end" >100</text>
<text x="74.2" y="70.38" font-family="'Liberation Sans', sans-serif" font-size="11.5" fill="#000" text-anchor="end" >200</text>
<text x="74.2" y="52.32" font-family="'Liberation Sans', sans-serif" font-size="11.5" fill="#000" text-anchor="end" >300</text>
<line x1="77.5" y1="199.14" x2="79.9" y2="199.14" stroke="#000" stroke-width="1"/>
<line x1="593.3" y1="199.14" x2="590.9" y2="199.14" stroke="#000" stroke-width="1"/>
<line x1="77.5" y1="196.23" x2="79.9" y2="196.23" stroke="#000" stroke-width="1"/>
<line x1="593.3" y1="196.23" x2="590.9" y2="196.23" stroke="#000" stroke-width="1"/>
<line x1="77.5" y1="193.32" x2="79.9" y2="193.32" stroke="#000" stroke-width="1"/>
<line x1="593.3" y1="193.32" x2="590.9" y2="193.32" stroke="#000" stroke-width="1"/>
<line x1="77.5" y1="190.41" x2="79.9" y2="190.41" stroke="#000" stroke-width="1"/>
<line x1="593.3" y1="190.41" x2="590.9" y2="190.41" stroke="#000" stroke-width="1"/>
<line x1="77.5" y1="187.50" x2="79.9" y2="187.50" stroke="#000" stroke-width="1"/>
<line x1="593.3" y1="187.50" x2="590.9" y2="187.50" stroke="#000" stroke-width="1"/>
<line x1="77.5" y1="184.59" x2="79.9" y2="184.59" stroke="#000" stroke-width="1"/>
<line x1="593.3" y1="184.59" x2="590.9" y2="184.59" stroke="#000" stroke-width="1"/>
<line x1="77.5" y1="181.68" x2="79.9" y2="181.68" stroke="#000" stroke-width="1"/>
<line x1="593.3" y1="181.68" x2="590.9" y2="181.68" stroke="#000" stroke-width="1"/>
<line x1="77.5" y1="178.77" x2="79.9" y2="178.77" stroke="#000" stroke-width="1"/>
<line x1="593.3" y1="178.77" x2="590.9" y2="178.77" stroke="#000" stroke-width="1"/>
<line x1="77.5" y1="175.86" x2="79.9" y2="175.86" stroke="#000" stroke-width="1"/>
<line x1="593.3" y1="175.86" x2="590.9" y2="175.86" stroke="#000" stroke-width="1"/>
<line x1="77.5" y1="172.95" x2="79.9" y2="172.95" stroke="#000" stroke-width="1"/>
<line x1="593.3" y1="172.95" x2="590.9" y2="172.95" stroke="#000" stroke-width="1"/>
<line x1="77.5" y1="170.04" x2="79.9" y2="170.04" stroke="#000" stroke-width="1"/>
<line x1="593.3" y1="170.04" x2="590.9" y2="170.04" stroke="#000" stroke-width="1"/>
<line x1="77.5" y1="167.13" x2="79.9" y2="167.13" stroke="#000" stroke-width="1"/>
<line x1="593.3" y1="167.13" x2="590.9" y2="167.13" stroke="#000" stroke-width="1"/>
<line x1="77.5" y1="164.22" x2="79.9" y2="164.22" stroke="#000" stroke-width="1"/>
<line x1="593.3" y1="164.22" x2="590.9" y2="164.22" stroke="#000" stroke-width="1"/>
<line x1="77.5" y1="161.31" x2="79.9" y2="161.31" stroke="#000" stroke-width="1"/>
<line x1="593.3" y1="161.31" x2="590.9" y2="161.31" stroke="#000" stroke-width="1"/>
<line x1="77.5" y1="158.40" x2="79.9" y2="158.40" stroke="#000" stroke-width="1"/>
<line x1="593.3" y1="158.40" x2="590.9" y2="158.40" stroke="#000" stroke-width="1"/>
<line x1="77.5" y1="155.49" x2="79.9" y2="155.49" stroke="#000" stroke-width="1"/>
<line x1="593.3" y1="155.49" x2="590.9" y2="155.49" stroke="#000" stroke-width="1"/>
<line x1="77.5" y1="152.58" x2="79.9" y2="152.58" stroke="#000" stroke-width="1"/>
<line x1="593.3" y1="152.58" x2="590.9" y2="152.58" stroke="#000" stroke-width="1"/>
<line x1="77.5" y1="149.67" x2="79.9" y2="149.67" stroke="#000" stroke-width="1"/>
<line x1="593.3" y1="149.67" x2="590.9" y2="149.67" stroke="#000" stroke-width="1"/>
<line x1="77.5" y1="146.76" x2="79.9" y2="146.76" stroke="#000" stroke-width="1"/>
<line x1="593.3" y1="146.76" x2="590.9" y2="146.76" stroke="#000" stroke-width="1"/>
<line x1="77.5" y1="143.85" x2="79.9" y2="143.85" stroke="#000" stroke-width="1"/>
<line x1="593.3" y1="143.85" x2="590.9" y2="143.85" stroke="#000" stroke-width="1"/>
<line x1="77.5" y1="140.94" x2="79.9" y2="140.94" stroke="#000" stroke-width="1"/>
<line x1="593.3" y1="140.94" x2="590.9" y2="140.94" stroke="#000" stroke-width="1"/>
<line x1="77.5" y1="138.03" x2="79.9" y2="138.03" stroke="#000" stroke-width="1"/>
<line x1="593.3" y1="138.03" x2="590.9" y2="138.03" stroke="#000" stroke-width="1"/>
<line x1="77.5" y1="135.12" x2="79.9" y2="135.12" stroke="#000" stroke-width="1"/>
<line x1="593.3" y1="135.12" x2="590.9" y2="135.12" stroke="#000" stroke-width="1"/>
<line x1="77.5" y1="132.21" x2="79.9" y2="132.21" stroke="#000" stroke-width="1"/>
<line x1="593.3" y1="132.21" x2="590.9" y2="132.21" stroke="#000" stroke-width="1"/>
<line x1="77.5" y1="129.30" x2="79.9" y2="129.30" stroke="#000" stroke-width="1"/>
<line x1="593.3" y1="129.30" x2="590.9" y2="129.30" stroke="#000" stroke-width="1"/>
<line x1="77.5" y1="126.39" x2="79.9" y2="126.39" stroke="#000" stroke-width="1"/>
<line x1="593.3" y1="126.39" x2="590.9" y2="126.39" stroke="#000" stroke-width="1"/>
<line x1="77.5" y1="123.48" x2="79.9" y2="123.48" stroke="#000" stroke-width="1"/>
<line x1="593.3" y1="123.48" x2="590.9" y2="123.48" stroke="#000" stroke-width="1"/>
<line x1="77.5" y1="120.57" x2="79.9" y2="120.57" stroke="#000" stroke-width="1"/>
<line x1="593.3" y1="120.57" x2="590.9" y2="120.57" stroke="#000" stroke-width="1"/>
<line x1="77.5" y1="187.50" x2="83.5" y2="187.50" stroke="#000" stroke-width="1"/>
<line x1="593.3" y1="187.50" x2="587.3" y2="187.50" stroke="#000" stroke-width="1"/>
<line x1="77.5" y1="172.95" x2="83.5" y2="172.95" stroke="#000" stroke-width="1"/>
<line x1="593.3" y1="172.95" x2="587.3" y2="172.95" stroke="#000" stroke-width="1"/>
<line x1="77.5" y1="158.40" x2="83.5" y2="158.40" stroke="#000" stroke-width="1"/>
<line x1="593.3" y1="158.40" x2="587.3" y2="158.40" stroke="#000" stroke-width="1"/>
<line x1="77.5" y1="143.85" x2="83.5" y2="143.85" stroke="#000" stroke-width="1"/>
<line x1="593.3" y1="143.85" x2="587.3" y2="143.85" stroke="#000" stroke-width="1"/>
<line x1="77.5" y1="129.30" x2="83.5" y2="129.30" stroke="#000" stroke-width="1"/>
<line x1="593.3" y1="129.30" x2="587.3" y2="129.30" stroke="#000" stroke-width="1"/>
<text x="74.2" y="191.10" font-family="'Liberation Sans', sans-serif" font-size="11.5" fill="#000" text-anchor="end" >0.05</text>
<text x="74.2" y="176.55" font-family="'Liberation Sans', sans-serif" font-size="11.5" fill="#000" text-anchor="end" >0.10</text>
<text x="74.2" y="162.00" font-family="'Liberation Sans', sans-serif" font-size="11.5" fill="#000" text-anchor="end" >0.15</text>
<text x="74.2" y="147.45" font-family="'Liberation Sans', sans-serif" font-size="11.5" fill="#000" text-anchor="end" >0.20</text>
<text x="74.2" y="132.90" font-family="'Liberation Sans', sans-serif" font-size="11.5" fill="#000" text-anchor="end" >0.25</text>
<line x1="77.5" y1="280.28" x2="79.9" y2="280.28" stroke="#000" stroke-width="1"/>
<line x1="593.3" y1="280.28" x2="590.9" y2="280.28" stroke="#000" stroke-width="1"/>
<line x1="77.5" y1="275.56" x2="79.9" y2="275.56" stroke="#000" stroke-width="1"/>
<line x1="593.3" y1="275.56" x2="590.9" y2="275.56" stroke="#000" stroke-width="1"/>
<line x1="77.5" y1="270.84" x2="79.9" y2="270.84" stroke="#000" stroke-width="1"/>
<line x1="593.3" y1="270.84" x2="590.9" y2="270.84" stroke="#000" stroke-width="1"/>
<line x1="77.5" y1="266.12" x2="79.9" y2="266.12" stroke="#000" stroke-width="1"/>
<line x1="593.3" y1="266.12" x2="590.9" y2="266.12" stroke="#000" stroke-width="1"/>
<line x1="77.5" y1="261.40" x2="79.9" y2="261.40" stroke="#000" stroke-width="1"/>
<line x1="593.3" y1="261.40" x2="590.9" y2="261.40" stroke="#000" stroke-width="1"/>
<line x1="77.5" y1="256.68" x2="79.9" y2="256.68" stroke="#000" stroke-width="1"/>
<line x1="593.3" y1="256.68" x2="590.9" y2="256.68" stroke="#000" stroke-width="1"/>
<line x1="77.5" y1="251.96" x2="79.9" y2="251.96" stroke="#000" stroke-width="1"/>
<line x1="593.3" y1="251.96" x2="590.9" y2="251.96" stroke="#000" stroke-width="1"/>
<line x1="77.5" y1="247.24" x2="79.9" y2="247.24" stroke="#000" stroke-width="1"/>
<line x1="593.3" y1="247.24" x2="590.9" y2="247.24" stroke="#000" stroke-width="1"/>
<line x1="77.5" y1="242.52" x2="79.9" y2="242.52" stroke="#000" stroke-width="1"/>
<line x1="593.3" y1="242.52" x2="590.9" y2="242.52" stroke="#000" stroke-width="1"/>
<line x1="77.5" y1="237.80" x2="79.9" y2="237.80" stroke="#000" stroke-width="1"/>
<line x1="593.3" y1="237.80" x2="590.9" y2="237.80" stroke="#000" stroke-width="1"/>
<line x1="77.5" y1="233.08" x2="79.9" y2="233.08" stroke="#000" stroke-width="1"/>
<line x1="593.3" y1="233.08" x2="590.9" y2="233.08" stroke="#000" stroke-width="1"/>
<line x1="77.5" y1="228.36" x2="79.9" y2="228.36" stroke="#000" stroke-width="1"/>
<line x1="593.3" y1="228.36" x2="590.9" y2="228.36" stroke="#000" stroke-width="1"/>
<line x1="77.5" y1="223.64" x2="79.9" y2="223.64" stroke="#000" stroke-width="1"/>
<line x1="593.3" y1="223.64" x2="590.9" y2="223.64" stroke="#000" stroke-width="1"/>
<line x1="77.5" y1="218.92" x2="79.9" y2="218.92" stroke="#000" stroke-width="1"/>
<line x1="593.3" y1="218.92" x2="590.9" y2="218.92" stroke="#000" stroke-width="1"/>
<line x1="77.5" y1="214.20" x2="79.9" y2="214.20" stroke="#000" stroke-width="1"/>
<line x1="593.3" y1="214.20" x2="590.9" y2="214.20" stroke="#000" stroke-width="1"/>
<line x1="77.5" y1="209.48" x2="79.9" y2="209.48" stroke="#000" stroke-width="1"/>
<line x1="593.3" y1="209.48" x2="590.9" y2="209.48" stroke="#000" stroke-width="1"/>
<line x1="77.5" y1="204.76" x2="79.9" y2="204.76" stroke="#000" stroke-width="1"/>
<line x1="593.3" y1="204.76" x2="590.9" y2="204.76" stroke="#000" stroke-width="1"/>
<line x1="77.5" y1="261.40" x2="83.5" y2="261.40" stroke="#000" stroke-width="1"/>
<line x1="593.3" y1="261.40" x2="587.3" y2="261.40" stroke="#000" stroke-width="1"/>
<line x1="77.5" y1="237.80" x2="83.5" y2="237.80" stroke="#000" stroke-width="1"/>
<line x1="593.3" y1="237.80" x2="587.3" y2="237.80" stroke="#000" stroke-width="1"/>
<line x1="77.5" y1="214.20" x2="83.5" y2="214.20" stroke="#000" stroke-width="1"/>
<line x1="593.3" y1="214.20" x2="587.3" y2="214.20" stroke="#000" stroke-width="1"/>
<text x="74.2" y="265.00" font-family="'Liberation Sans', sans-serif" font-size="11.5" fill="#000" text-anchor="end" >0.5</text>
<text x="74.2" y="241.40" font-family="'Liberation Sans', sans-serif" font-size="11.5" fill="#000" text-anchor="end" >1.0</text>
<text x="74.2" y="217.80" font-family="'Liberation Sans', sans-serif" font-size="11.5" fill="#000" text-anchor="end" >1.5</text>
<line x1="77.5" y1="361.70" x2="79.9" y2="361.70" stroke="#000" stroke-width="1"/>
<line x1="593.3" y1="361.70" x2="590.9" y2="361.70" stroke="#000" stroke-width="1"/>
<line x1="77.5" y1="357.70" x2="79.9" y2="357.70" stroke="#000" stroke-width="1"/>
<line x1="593.3" y1="357.70" x2="590.9" y2="357.70" stroke="#000" stroke-width="1"/>
<line x1="77.5" y1="353.70" x2="79.9" y2="353.70" stroke="#000" stroke-width="1"/>
<line x1="593.3" y1="353.70" x2="590.9" y2="353.70" stroke="#000" stroke-width="1"/>
<line x1="77.5" y1="349.70" x2="79.9" y2="349.70" stroke="#000" stroke-width="1"/>
<line x1="593.3" y1="349.70" x2="590.9" y2="349.70" stroke="#000" stroke-width="1"/>
<line x1="77.5" y1="345.70" x2="79.9" y2="345.70" stroke="#000" stroke-width="1"/>
<line x1="593.3" y1="345.70" x2="590.9" y2="345.70" stroke="#000" stroke-width="1"/>
<line x1="77.5" y1="341.70" x2="79.9" y2="341.70" stroke="#000" stroke-width="1"/>
<line x1="593.3" y1="341.70" x2="590.9" y2="341.70" stroke="#000" stroke-width="1"/>
<line x1="77.5" y1="337.70" x2="79.9" y2="337.70" stroke="#000" stroke-width="1"/>
<line x1="593.3" y1="337.70" x2="590.9" y2="337.70" stroke="#000" stroke-width="1"/>
<line x1="77.5" y1="333.70" x2="79.9" y2="333.70" stroke="#000" stroke-width="1"/>
<line x1="593.3" y1="333.70" x2="590.9" y2="333.70" stroke="#000" stroke-width="1"/>
<line x1="77.5" y1="329.70" x2="79.9" y2="329.70" stroke="#000" stroke-width="1"/>
<line x1="593.3" y1="329.70" x2="590.9" y2="329.70" stroke="#000" stroke-width="1"/>
<line x1="77.5" y1="325.70" x2="79.9" y2="325.70" stroke="#000" stroke-width="1"/>
<line x1="593.3" y1="325.70" x2="590.9" y2="325.70" stroke="#000" stroke-width="1"/>
<line x1="77.5" y1="321.70" x2="79.9" y2="321.70" stroke="#000" stroke-width="1"/>
<line x1="593.3" y1="321.70" x2="590.9" y2="321.70" stroke="#000" stroke-width="1"/>
<line x1="77.5" y1="317.70" x2="79.9" y2="317.70" stroke="#000" stroke-width="1"/>
<line x1="593.3" y1="317.70" x2="590.9" y2="317.70" stroke="#000" stroke-width="1"/>
<line x1="77.5" y1="313.70" x2="79.9" y2="313.70" stroke="#000" stroke-width="1"/>
<line x1="593.3" y1="313.70" x2="590.9" y2="313.70" stroke="#000" stroke-width="1"/>
<line x1="77.5" y1="309.70" x2="79.9" y2="309.70" stroke="#000" stroke-width="1"/>
<line x1="593.3" y1="309.70" x2="590.9" y2="309.70" stroke="#000" stroke-width="1"/>
<line x1="77.5" y1="305.70" x2="79.9" y2="305.70" stroke="#000" stroke-width="1"/>
<line x1="593.3" y1="305.70" x2="590.9" y2="305.70" stroke="#000" stroke-width="1"/>
<line x1="77.5" y1="301.70" x2="79.9" y2="301.70" stroke="#000" stroke-width="1"/>
<line x1="593.3" y1="301.70" x2="590.9" y2="301.70" stroke="#000" stroke-width="1"/>
<line x1="77.5" y1="297.70" x2="79.9" y2="297.70" stroke="#000" stroke-width="1"/>
<line x1="593.3" y1="297.70" x2="590.9" y2="297.70" stroke="#000" stroke-width="1"/>
<line x1="77.5" y1="293.70" x2="79.9" y2="293.70" stroke="#000" stroke-width="1"/>
<line x1="593.3" y1="293.70" x2="590.9" y2="293.70" stroke="#000" stroke-width="1"/>
<line x1="77.5" y1="289.70" x2="79.9" y2="289.70" stroke="#000" stroke-width="1"/>
<line x1="593.3" y1="289.70" x2="590.9" y2="289.70" stroke="#000" stroke-width="1"/>
<line x1="77.5" y1="285.70" x2="79.9" y2="285.70" stroke="#000" stroke-width="1"/>
<line x1="593.3" y1="285.70" x2="590.9" y2="285.70" stroke="#000" stroke-width="1"/>
<line x1="77.5" y1="349.70" x2="83.5" y2="349.70" stroke="#000" stroke-width="1"/>
<line x1="593.3" y1="349.70" x2="587.3" y2="349.70" stroke="#000" stroke-width="1"/>
<line x1="77.5" y1="329.70" x2="83.5" y2="329.70" stroke="#000" stroke-width="1"/>
<line x1="593.3" y1="329.70" x2="587.3" y2="329.70" stroke="#000" stroke-width="1"/>
<line x1="77.5" y1="309.70" x2="83.5" y2="309.70" stroke="#000" stroke-width="1"/>
<line x1="593.3" y1="309.70" x2="587.3" y2="309.70" stroke="#000" stroke-width="1"/>
<line x1="77.5" y1="289.70" x2="83.5" y2="289.70" stroke="#000" stroke-width="1"/>
<line x1="593.3" y1="289.70" x2="587.3" y2="289.70" stroke="#000" stroke-width="1"/>
<text x="74.2" y="353.30" font-family="'Liberation Sans', sans-serif" font-size="11.5" fill="#000" text-anchor="end" >8.5</text>
<text x="74.2" y="333.30" font-family="'Liberation Sans', sans-serif" font-size="11.5" fill="#000" text-anchor="end" >9.0</text>
<text x="74.2" y="313.30" font-family="'Liberation Sans', sans-serif" font-size="11.5" fill="#000" text-anchor="end" >9.5</text>
<text x="74.2" y="293.30" font-family="'Liberation Sans', sans-serif" font-size="11.5" fill="#000" text-anchor="end" >10.0</text>
<line x1="77.5" y1="440.54" x2="79.9" y2="440.54" stroke="#000" stroke-width="1"/>
<line x1="593.3" y1="440.54" x2="590.9" y2="440.54" stroke="#000" stroke-width="1"/>
<line x1="77.5" y1="436.98" x2="79.9" y2="436.98" stroke="#000" stroke-width="1"/>
<line x1="593.3" y1="436.98" x2="590.9" y2="436.98" stroke="#000" stroke-width="1"/>
<line x1="77.5" y1="433.41" x2="79.9" y2="433.41" stroke="#000" stroke-width="1"/>
<line x1="593.3" y1="433.41" x2="590.9" y2="433.41" stroke="#000" stroke-width="1"/>
<line x1="77.5" y1="429.85" x2="79.9" y2="429.85" stroke="#000" stroke-width="1"/>
<line x1="593.3" y1="429.85" x2="590.9" y2="429.85" stroke="#000" stroke-width="1"/>
<line x1="77.5" y1="426.29" x2="79.9" y2="426.29" stroke="#000" stroke-width="1"/>
<line x1="593.3" y1="426.29" x2="590.9" y2="426.29" stroke="#000" stroke-width="1"/>
<line x1="77.5" y1="422.73" x2="79.9" y2="422.73" stroke="#000" stroke-width="1"/>
<line x1="593.3" y1="422.73" x2="590.9" y2="422.73" stroke="#000" stroke-width="1"/>
<line x1="77.5" y1="419.16" x2="79.9" y2="419.16" stroke="#000" stroke-width="1"/>
<line x1="593.3" y1="419.16" x2="590.9" y2="419.16" stroke="#000" stroke-width="1"/>
<line x1="77.5" y1="415.60" x2="79.9" y2="415.60" stroke="#000" stroke-width="1"/>
<line x1="593.3" y1="415.60" x2="590.9" y2="415.60" stroke="#000" stroke-width="1"/>
<line x1="77.5" y1="412.04" x2="79.9" y2="412.04" stroke="#000" stroke-width="1"/>
<line x1="593.3" y1="412.04" x2="590.9" y2="412.04" stroke="#000" stroke-width="1"/>
<line x1="77.5" y1="408.48" x2="79.9" y2="408.48" stroke="#000" stroke-width="1"/>
<line x1="593.3" y1="408.48" x2="590.9" y2="408.48" stroke="#000" stroke-width="1"/>
<line x1="77.5" y1="404.91" x2="79.9" y2="404.91" stroke="#000" stroke-width="1"/>
<line x1="593.3" y1="404.91" x2="590.9" y2="404.91" stroke="#000" stroke-width="1"/>
<line x1="77.5" y1="401.35" x2="79.9" y2="401.35" stroke="#000" stroke-width="1"/>
<line x1="593.3" y1="401.35" x2="590.9" y2="401.35" stroke="#000" stroke-width="1"/>
<line x1="77.5" y1="397.79" x2="79.9" y2="397.79" stroke="#000" stroke-width="1"/>
<line x1="593.3" y1="397.79" x2="590.9" y2="397.79" stroke="#000" stroke-width="1"/>
<line x1="77.5" y1="394.23" x2="79.9" y2="394.23" stroke="#000" stroke-width="1"/>
<line x1="593.3" y1="394.23" x2="590.9" y2="394.23" stroke="#000" stroke-width="1"/>
<line x1="77.5" y1="390.66" x2="79.9" y2="390.66" stroke="#000" stroke-width="1"/>
<line x1="593.3" y1="390.66" x2="590.9" y2="390.66" stroke="#000" stroke-width="1"/>
<line x1="77.5" y1="387.10" x2="79.9" y2="387.10" stroke="#000" stroke-width="1"/>
<line x1="593.3" y1="387.10" x2="590.9" y2="387.10" stroke="#000" stroke-width="1"/>
<line x1="77.5" y1="383.54" x2="79.9" y2="383.54" stroke="#000" stroke-width="1"/>
<line x1="593.3" y1="383.54" x2="590.9" y2="383.54" stroke="#000" stroke-width="1"/>
<line x1="77.5" y1="379.98" x2="79.9" y2="379.98" stroke="#000" stroke-width="1"/>
<line x1="593.3" y1="379.98" x2="590.9" y2="379.98" stroke="#000" stroke-width="1"/>
<line x1="77.5" y1="376.41" x2="79.9" y2="376.41" stroke="#000" stroke-width="1"/>
<line x1="593.3" y1="376.41" x2="590.9" y2="376.41" stroke="#000" stroke-width="1"/>
<line x1="77.5" y1="372.85" x2="79.9" y2="372.85" stroke="#000" stroke-width="1"/>
<line x1="593.3" y1="372.85" x2="590.9" y2="372.85" stroke="#000" stroke-width="1"/>
<line x1="77.5" y1="369.29" x2="79.9" y2="369.29" stroke="#000" stroke-width="1"/>
<line x1="593.3" y1="369.29" x2="590.9" y2="369.29" stroke="#000" stroke-width="1"/>
<line x1="77.5" y1="365.73" x2="79.9" y2="365.73" stroke="#000" stroke-width="1"/>
<line x1="593.3" y1="365.73" x2="590.9" y2="365.73" stroke="#000" stroke-width="1"/>
<line x1="77.5" y1="444.10" x2="83.5" y2="444.10" stroke="#000" stroke-width="1"/>
<line x1="593.3" y1="444.10" x2="587.3" y2="444.10" stroke="#000" stroke-width="1"/>
<line x1="77.5" y1="429.85" x2="83.5" y2="429.85" stroke="#000" stroke-width="1"/>
<line x1="593.3" y1="429.85" x2="587.3" y2="429.85" stroke="#000" stroke-width="1"/>
<line x1="77.5" y1="415.60" x2="83.5" y2="415.60" stroke="#000" stroke-width="1"/>
<line x1="593.3" y1="415.60" x2="587.3" y2="415.60" stroke="#000" stroke-width="1"/>
<line x1="77.5" y1="401.35" x2="83.5" y2="401.35" stroke="#000" stroke-width="1"/>
<line x1="593.3" y1="401.35" x2="587.3" y2="401.35" stroke="#000" stroke-width="1"/>
<line x1="77.5" y1="387.10" x2="83.5" y2="387.10" stroke="#000" stroke-width="1"/>
<line x1="593.3" y1="387.10" x2="587.3" y2="387.10" stroke="#000" stroke-width="1"/>
<line x1="77.5" y1="372.85" x2="83.5" y2="372.85" stroke="#000" stroke-width="1"/>
<line x1="593.3" y1="372.85" x2="587.3" y2="372.85" stroke="#000" stroke-width="1"/>
<text x="74.2" y="447.70" font-family="'Liberation Sans', sans-serif" font-size="11.5" fill="#000" text-anchor="end" >0.02</text>
<text x="74.2" y="433.45" font-family="'Liberation Sans', sans-serif" font-size="11.5" fill="#000" text-anchor="end" >0.04</text>
<text x="74.2" y="419.20" font-family="'Liberation Sans', sans-serif" font-size="11.5" fill="#000" text-anchor="end" >0.06</text>
<text x="74.2" y="404.95" font-family="'Liberation Sans', sans-serif" font-size="11.5" fill="#000" text-anchor="end" >0.08</text>
<text x="74.2" y="390.70" font-family="'Liberation Sans', sans-serif" font-size="11.5" fill="#000" text-anchor="end" >0.10</text>
<text x="74.2" y="376.45" font-family="'Liberation Sans', sans-serif" font-size="11.5" fill="#000" text-anchor="end" >0.12</text>
<line x1="77.5" y1="509.25" x2="79.9" y2="509.25" stroke="#000" stroke-width="1"/>
<line x1="593.3" y1="509.25" x2="590.9" y2="509.25" stroke="#000" stroke-width="1"/>
<line x1="77.5" y1="500.62" x2="79.9" y2="500.62" stroke="#000" stroke-width="1"/>
<line x1="593.3" y1="500.62" x2="590.9" y2="500.62" stroke="#000" stroke-width="1"/>
<line x1="77.5" y1="494.50" x2="79.9" y2="494.50" stroke="#000" stroke-width="1"/>
<line x1="593.3" y1="494.50" x2="590.9" y2="494.50" stroke="#000" stroke-width="1"/>
<line x1="77.5" y1="489.75" x2="79.9" y2="489.75" stroke="#000" stroke-width="1"/>
<line x1="593.3" y1="489.75" x2="590.9" y2="489.75" stroke="#000" stroke-width="1"/>
<line x1="77.5" y1="485.87" x2="79.9" y2="485.87" stroke="#000" stroke-width="1"/>
<line x1="593.3" y1="485.87" x2="590.9" y2="485.87" stroke="#000" stroke-width="1"/>
<line x1="77.5" y1="482.59" x2="79.9" y2="482.59" stroke="#000" stroke-width="1"/>
<line x1="593.3" y1="482.59" x2="590.9" y2="482.59" stroke="#000" stroke-width="1"/>
<line x1="77.5" y1="479.75" x2="79.9" y2="479.75" stroke="#000" stroke-width="1"/>
<line x1="593.3" y1="479.75" x2="590.9" y2="479.75" stroke="#000" stroke-width="1"/>
<line x1="77.5" y1="477.24" x2="79.9" y2="477.24" stroke="#000" stroke-width="1"/>
<line x1="593.3" y1="477.24" x2="590.9" y2="477.24" stroke="#000" stroke-width="1"/>
<line x1="77.5" y1="460.25" x2="79.9" y2="460.25" stroke="#000" stroke-width="1"/>
<line x1="593.3" y1="460.25" x2="590.9" y2="460.25" stroke="#000" stroke-width="1"/>
<line x1="77.5" y1="451.62" x2="79.9" y2="451.62" stroke="#000" stroke-width="1"/>
<line x1="593.3" y1="451.62" x2="590.9" y2="451.62" stroke="#000" stroke-width="1"/>
<line x1="77.5" y1="445.50" x2="79.9" y2="445.50" stroke="#000" stroke-width="1"/>
<line x1="593.3" y1="445.50" x2="590.9" y2="445.50" stroke="#000" stroke-width="1"/>
<line x1="77.5" y1="524.00" x2="83.5" y2="524.00" stroke="#000" stroke-width="1"/>
<line x1="593.3" y1="524.00" x2="587.3" y2="524.00" stroke="#000" stroke-width="1"/>
<line x1="77.5" y1="475.00" x2="83.5" y2="475.00" stroke="#000" stroke-width="1"/>
<line x1="593.3" y1="475.00" x2="587.3" y2="475.00" stroke="#000" stroke-width="1"/>
<line x1="77.5" y1="603.52" x2="79.9" y2="603.52" stroke="#000" stroke-width="1"/>
<line x1="593.3" y1="603.52" x2="590.9" y2="603.52" stroke="#000" stroke-width="1"/>
<line x1="77.5" y1="599.31" x2="79.9" y2="599.31" stroke="#000" stroke-width="1"/>
<line x1="593.3" y1="599.31" x2="590.9" y2="599.31" stroke="#000" stroke-width="1"/>
<line x1="77.5" y1="595.10" x2="79.9" y2="595.10" stroke="#000" stroke-width="1"/>
<line x1="593.3" y1="595.10" x2="590.9" y2="595.10" stroke="#000" stroke-width="1"/>
<line x1="77.5" y1="590.89" x2="79.9" y2="590.89" stroke="#000" stroke-width="1"/>
<line x1="593.3" y1="590.89" x2="590.9" y2="590.89" stroke="#000" stroke-width="1"/>
<line x1="77.5" y1="586.68" x2="79.9" y2="586.68" stroke="#000" stroke-width="1"/>
<line x1="593.3" y1="586.68" x2="590.9" y2="586.68" stroke="#000" stroke-width="1"/>
<line x1="77.5" y1="582.47" x2="79.9" y2="582.47" stroke="#000" stroke-width="1"/>
<line x1="593.3" y1="582.47" x2="590.9" y2="582.47" stroke="#000" stroke-width="1"/>
<line x1="77.5" y1="578.26" x2="79.9" y2="578.26" stroke="#000" stroke-width="1"/>
<line x1="593.3" y1="578.26" x2="590.9" y2="578.26" stroke="#000" stroke-width="1"/>
<line x1="77.5" y1="574.05" x2="79.9" y2="574.05" stroke="#000" stroke-width="1"/>
<line x1="593.3" y1="574.05" x2="590.9" y2="574.05" stroke="#000" stroke-width="1"/>
<line x1="77.5" y1="569.84" x2="79.9" y2="569.84" stroke="#000" stroke-width="1"/>
<line x1="593.3" y1="569.84" x2="590.9" y2="569.84" stroke="#000" stroke-width="1"/>
<line x1="77.5" y1="565.63" x2="79.9" y2="565.63" stroke="#000" stroke-width="1"/>
<line x1="593.3" y1="565.63" x2="590.9" y2="565.63" stroke="#000" stroke-width="1"/>
<line x1="77.5" y1="561.42" x2="79.9" y2="561.42" stroke="#000" stroke-width="1"/>
<line x1="593.3" y1="561.42" x2="590.9" y2="561.42" stroke="#000" stroke-width="1"/>
<line x1="77.5" y1="557.21" x2="79.9" y2="557.21" stroke="#000" stroke-width="1"/>
<line x1="593.3" y1="557.21" x2="590.9" y2="557.21" stroke="#000" stroke-width="1"/>
<line x1="77.5" y1="553.00" x2="79.9" y2="553.00" stroke="#000" stroke-width="1"/>
<line x1="593.3" y1="553.00" x2="590.9" y2="553.00" stroke="#000" stroke-width="1"/>
<line x1="77.5" y1="548.79" x2="79.9" y2="548.79" stroke="#000" stroke-width="1"/>
<line x1="593.3" y1="548.79" x2="590.9" y2="548.79" stroke="#000" stroke-width="1"/>
<line x1="77.5" y1="544.58" x2="79.9" y2="544.58" stroke="#000" stroke-width="1"/>
<line x1="593.3" y1="544.58" x2="590.9" y2="544.58" stroke="#000" stroke-width="1"/>
<line x1="77.5" y1="540.37" x2="79.9" y2="540.37" stroke="#000" stroke-width="1"/>
<line x1="593.3" y1="540.37" x2="590.9" y2="540.37" stroke="#000" stroke-width="1"/>
<line x1="77.5" y1="536.16" x2="79.9" y2="536.16" stroke="#000" stroke-width="1"/>
<line x1="593.3" y1="536.16" x2="590.9" y2="536.16" stroke="#000" stroke-width="1"/>
<line x1="77.5" y1="531.95" x2="79.9" y2="531.95" stroke="#000" stroke-width="1"/>
<line x1="593.3" y1="531.95" x2="590.9" y2="531.95" stroke="#000" stroke-width="1"/>
<line x1="77.5" y1="527.74" x2="79.9" y2="527.74" stroke="#000" stroke-width="1"/>
<line x1="593.3" y1="527.74" x2="590.9" y2="527.74" stroke="#000" stroke-width="1"/>
<line x1="77.5" y1="531.95" x2="83.5" y2="531.95" stroke="#000" stroke-width="1"/>
<line x1="593.3" y1="531.95" x2="587.3" y2="531.95" stroke="#000" stroke-width="1"/>
<line x1="77.5" y1="553.00" x2="83.5" y2="553.00" stroke="#000" stroke-width="1"/>
<line x1="593.3" y1="553.00" x2="587.3" y2="553.00" stroke="#000" stroke-width="1"/>
<line x1="77.5" y1="574.05" x2="83.5" y2="574.05" stroke="#000" stroke-width="1"/>
<line x1="593.3" y1="574.05" x2="587.3" y2="574.05" stroke="#000" stroke-width="1"/>
<line x1="77.5" y1="595.10" x2="83.5" y2="595.10" stroke="#000" stroke-width="1"/>
<line x1="593.3" y1="595.10" x2="587.3" y2="595.10" stroke="#000" stroke-width="1"/>
<text x="74.2" y="556.60" font-family="'Liberation Sans', sans-serif" font-size="11.5" fill="#000" text-anchor="end" >-500</text>
<text x="74.2" y="577.65" font-family="'Liberation Sans', sans-serif" font-size="11.5" fill="#000" text-anchor="end" >-600</text>
<text x="74.2" y="598.70" font-family="'Liberation Sans', sans-serif" font-size="11.5" fill="#000" text-anchor="end" >-700</text>
<text x="74.2" y="538.00" font-family="'Liberation Sans', sans-serif" font-size="11.5" fill="#000" text-anchor="end" >-400</text>
<line x1="77.5" y1="684.07" x2="79.9" y2="684.07" stroke="#000" stroke-width="1"/>
<line x1="593.3" y1="684.07" x2="590.9" y2="684.07" stroke="#000" stroke-width="1"/>
<line x1="77.5" y1="680.10" x2="79.9" y2="680.10" stroke="#000" stroke-width="1"/>
<line x1="593.3" y1="680.10" x2="590.9" y2="680.10" stroke="#000" stroke-width="1"/>
<line x1="77.5" y1="676.12" x2="79.9" y2="676.12" stroke="#000" stroke-width="1"/>
<line x1="593.3" y1="676.12" x2="590.9" y2="676.12" stroke="#000" stroke-width="1"/>
<line x1="77.5" y1="672.15" x2="79.9" y2="672.15" stroke="#000" stroke-width="1"/>
<line x1="593.3" y1="672.15" x2="590.9" y2="672.15" stroke="#000" stroke-width="1"/>
<line x1="77.5" y1="668.17" x2="79.9" y2="668.17" stroke="#000" stroke-width="1"/>
<line x1="593.3" y1="668.17" x2="590.9" y2="668.17" stroke="#000" stroke-width="1"/>
<line x1="77.5" y1="664.20" x2="79.9" y2="664.20" stroke="#000" stroke-width="1"/>
<line x1="593.3" y1="664.20" x2="590.9" y2="664.20" stroke="#000" stroke-width="1"/>
<line x1="77.5" y1="660.22" x2="79.9" y2="660.22" stroke="#000" stroke-width="1"/>
<line x1="593.3" y1="660.22" x2="590.9" y2="660.22" stroke="#000" stroke-width="1"/>
<line x1="77.5" y1="656.25" x2="79.9" y2="656.25" stroke="#000" stroke-width="1"/>
<line x1="593.3" y1="656.25" x2="590.9" y2="656.25" stroke="#000" stroke-width="1"/>
<line x1="77.5" y1="652.27" x2="79.9" y2="652.27" stroke="#000" stroke-width="1"/>
<line x1="593.3" y1="652.27" x2="590.9" y2="652.27" stroke="#000" stroke-width="1"/>
<line x1="77.5" y1="648.30" x2="79.9" y2="648.30" stroke="#000" stroke-width="1"/>
<line x1="593.3" y1="648.30" x2="590.9" y2="648.30" stroke="#000" stroke-width="1"/>
<line x1="77.5" y1="644.32" x2="79.9" y2="644.32" stroke="#000" stroke-width="1"/>
<line x1="593.3" y1="644.32" x2="590.9" y2="644.32" stroke="#000" stroke-width="1"/>
<line x1="77.5" y1="640.35" x2="79.9" y2="640.35" stroke="#000" stroke-width="1"/>
<line x1="593.3" y1="640.35" x2="590.9" y2="640.35" stroke="#000" stroke-width="1"/>
<line x1="77.5" y1="636.38" x2="79.9" y2="636.38" stroke="#000" stroke-width="1"/>
<line x1="593.3" y1="636.38" x2="590.9" y2="636.38" stroke="#000" stroke-width="1"/>
<line x1="77.5" y1="632.40" x2="79.9" y2="632.40" stroke="#000" stroke-width="1"/>
<line x1="593.3" y1="632.40" x2="590.9" y2="632.40" stroke="#000" stroke-width="1"/>
<line x1="77.5" y1="628.42" x2="79.9" y2="628.42" stroke="#000" stroke-width="1"/>
<line x1="593.3" y1="628.42" x2="590.9" y2="628.42" stroke="#000" stroke-width="1"/>
<line x1="77.5" y1="624.45" x2="79.9" y2="624.45" stroke="#000" stroke-width="1"/>
<line x1="593.3" y1="624.45" x2="590.9" y2="624.45" stroke="#000" stroke-width="1"/>
<line x1="77.5" y1="620.47" x2="79.9" y2="620.47" stroke="#000" stroke-width="1"/>
<line x1="593.3" y1="620.47" x2="590.9" y2="620.47" stroke="#000" stroke-width="1"/>
<line x1="77.5" y1="616.50" x2="79.9" y2="616.50" stroke="#000" stroke-width="1"/>
<line x1="593.3" y1="616.50" x2="590.9" y2="616.50" stroke="#000" stroke-width="1"/>
<line x1="77.5" y1="612.52" x2="79.9" y2="612.52" stroke="#000" stroke-width="1"/>
<line x1="593.3" y1="612.52" x2="590.9" y2="612.52" stroke="#000" stroke-width="1"/>
<line x1="77.5" y1="608.55" x2="79.9" y2="608.55" stroke="#000" stroke-width="1"/>
<line x1="593.3" y1="608.55" x2="590.9" y2="608.55" stroke="#000" stroke-width="1"/>
<line x1="77.5" y1="688.05" x2="83.5" y2="688.05" stroke="#000" stroke-width="1"/>
<line x1="593.3" y1="688.05" x2="587.3" y2="688.05" stroke="#000" stroke-width="1"/>
<line x1="77.5" y1="668.17" x2="83.5" y2="668.17" stroke="#000" stroke-width="1"/>
<line x1="593.3" y1="668.17" x2="587.3" y2="668.17" stroke="#000" stroke-width="1"/>
<line x1="77.5" y1="648.30" x2="83.5" y2="648.30" stroke="#000" stroke-width="1"/>
<line x1="593.3" y1="648.30" x2="587.3" y2="648.30" stroke="#000" stroke-width="1"/>
<line x1="77.5" y1="628.42" x2="83.5" y2="628.42" stroke="#000" stroke-width="1"/>
<line x1="593.3" y1="628.42" x2="587.3" y2="628.42" stroke="#000" stroke-width="1"/>
<line x1="77.5" y1="608.55" x2="83.5" y2="608.55" stroke="#000" stroke-width="1"/>
<line x1="593.3" y1="608.55" x2="587.3" y2="608.55" stroke="#000" stroke-width="1"/>
<text x="74.2" y="691.65" font-family="'Liberation Sans', sans-serif" font-size="11.5" fill="#000" text-anchor="end" >-100</text>
<text x="74.2" y="671.77" font-family="'Liberation Sans', sans-serif" font-size="11.5" fill="#000" text-anchor="end" >-50</text>
<text x="74.2" y="651.90" font-family="'Liberation Sans', sans-serif" font-size="11.5" fill="#000" text-anchor="end" >0</text>
<text x="74.2" y="632.02" font-family="'Liberation Sans', sans-serif" font-size="11.5" fill="#000" text-anchor="end" >50</text>
<text x="74.2" y="612.15" font-family="'Liberation Sans', sans-serif" font-size="11.5" fill="#000" text-anchor="end" >100</text>
<line x1="77.5" y1="765.45" x2="79.9" y2="765.45" stroke="#000" stroke-width="1"/>
<line x1="593.3" y1="765.45" x2="590.9" y2="765.45" stroke="#000" stroke-width="1"/>
<line x1="77.5" y1="760.90" x2="79.9" y2="760.90" stroke="#000" stroke-width="1"/>
<line x1="593.3" y1="760.90" x2="590.9" y2="760.90" stroke="#000" stroke-width="1"/>
<line x1="77.5" y1="756.35" x2="79.9" y2="756.35" stroke="#000" stroke-width="1"/>
<line x1="593.3" y1="756.35" x2="590.9" y2="756.35" stroke="#000" stroke-width="1"/>
<line x1="77.5" y1="751.80" x2="79.9" y2="751.80" stroke="#000" stroke-width="1"/>
<line x1="593.3" y1="751.80" x2="590.9" y2="751.80" stroke="#000" stroke-width="1"/>
<line x1="77.5" y1="747.25" x2="79.9" y2="747.25" stroke="#000" stroke-width="1"/>
<line x1="593.3" y1="747.25" x2="590.9" y2="747.25" stroke="#000" stroke-width="1"/>
<line x1="77.5" y1="742.70" x2="79.9" y2="742.70" stroke="#000" stroke-width="1"/>
<line x1="593.3" y1="742.70" x2="590.9" y2="742.70" stroke="#000" stroke-width="1"/>
<line x1="77.5" y1="738.15" x2="79.9" y2="738.15" stroke="#000" stroke-width="1"/>
<line x1="593.3" y1="738.15" x2="590.9" y2="738.15" stroke="#000" stroke-width="1"/>
<line x1="77.5" y1="733.60" x2="79.9" y2="733.60" stroke="#000" stroke-width="1"/>
<line x1="593.3" y1="733.60" x2="590.9" y2="733.60" stroke="#000" stroke-width="1"/>
<line x1="77.5" y1="729.05" x2="79.9" y2="729.05" stroke="#000" stroke-width="1"/>
<line x1="593.3" y1="729.05" x2="590.9" y2="729.05" stroke="#000" stroke-width="1"/>
<line x1="77.5" y1="724.50" x2="79.9" y2="724.50" stroke="#000" stroke-width="1"/>
<line x1="593.3" y1="724.50" x2="590.9" y2="724.50" stroke="#000" stroke-width="1"/>
<line x1="77.5" y1="719.95" x2="79.9" y2="719.95" stroke="#000" stroke-width="1"/>
<line x1="593.3" y1="719.95" x2="590.9" y2="719.95" stroke="#000" stroke-width="1"/>
<line x1="77.5" y1="715.40" x2="79.9" y2="715.40" stroke="#000" stroke-width="1"/>
<line x1="593.3" y1="715.40" x2="590.9" y2="715.40" stroke="#000" stroke-width="1"/>
<line x1="77.5" y1="710.85" x2="79.9" y2="710.85" stroke="#000" stroke-width="1"/>
<line x1="593.3" y1="710.85" x2="590.9" y2="710.85" stroke="#000" stroke-width="1"/>
<line x1="77.5" y1="706.30" x2="79.9" y2="706.30" stroke="#000" stroke-width="1"/>
<line x1="593.3" y1="706.30" x2="590.9" y2="706.30" stroke="#000" stroke-width="1"/>
<line x1="77.5" y1="701.75" x2="79.9" y2="701.75" stroke="#000" stroke-width="1"/>
<line x1="593.3" y1="701.75" x2="590.9" y2="701.75" stroke="#000" stroke-width="1"/>
<line x1="77.5" y1="697.20" x2="79.9" y2="697.20" stroke="#000" stroke-width="1"/>
<line x1="593.3" y1="697.20" x2="590.9" y2="697.20" stroke="#000" stroke-width="1"/>
<line x1="77.5" y1="692.65" x2="79.9" y2="692.65" stroke="#000" stroke-width="1"/>
<line x1="593.3" y1="692.65" x2="590.9" y2="692.65" stroke="#000" stroke-width="1"/>
<line x1="77.5" y1="751.80" x2="83.5" y2="751.80" stroke="#000" stroke-width="1"/>
<line x1="593.3" y1="751.80" x2="587.3" y2="751.80" stroke="#000" stroke-width="1"/>
<line x1="77.5" y1="733.60" x2="83.5" y2="733.60" stroke="#000" stroke-width="1"/>
<line x1="593.3" y1="733.60" x2="587.3" y2="733.60" stroke="#000" stroke-width="1"/>
<line x1="77.5" y1="715.40" x2="83.5" y2="715.40" stroke="#000" stroke-width="1"/>
<line x1="593.3" y1="715.40" x2="587.3" y2="715.40" stroke="#000" stroke-width="1"/>
<line x1="77.5" y1="697.20" x2="83.5" y2="697.20" stroke="#000" stroke-width="1"/>
<line x1="593.3" y1="697.20" x2="587.3" y2="697.20" stroke="#000" stroke-width="1"/>
<text x="74.2" y="755.40" font-family="'Liberation Sans', sans-serif" font-size="11.5" fill="#000" text-anchor="end" >0.02</text>
<text x="74.2" y="737.20" font-family="'Liberation Sans', sans-serif" font-size="11.5" fill="#000" text-anchor="end" >0.04</text>
<text x="74.2" y="719.00" font-family="'Liberation Sans', sans-serif" font-size="11.5" fill="#000" text-anchor="end" >0.06</text>
<text x="74.2" y="700.80" font-family="'Liberation Sans', sans-serif" font-size="11.5" fill="#000" text-anchor="end" >0.08</text>
<text x="68.2" y="478.60" font-family="'Liberation Sans', sans-serif" font-size="11.5" text-anchor="end">10</text>
<text x="68.6" y="473.60" font-family="'Liberation Sans', sans-serif" font-size="8.6" text-anchor="start">5</text>
<text x="68.2" y="527.60" font-family="'Liberation Sans', sans-serif" font-size="11.5" text-anchor="end">10</text>
<text x="68.6" y="522.60" font-family="'Liberation Sans', sans-serif" font-size="8.6" text-anchor="start">4</text>
<line x1="77.5" y1="102.90" x2="593.3" y2="102.90" stroke="#000" stroke-width="1.2"/>
<line x1="77.5" y1="648.30" x2="593.3" y2="648.30" stroke="#000" stroke-width="1.2"/>
<text x="0" y="56.0" font-family="'Liberation Sans', sans-serif" font-size="19">(a)</text>
<text x="0" y="132.0" font-family="'Liberation Sans', sans-serif" font-size="19">(b)</text>
<text x="0" y="218.5" font-family="'Liberation Sans', sans-serif" font-size="19">(c)</text>
<text x="0" y="293.3" font-family="'Liberation Sans', sans-serif" font-size="19">(d)</text>
<text x="0" y="375.5" font-family="'Liberation Sans', sans-serif" font-size="19">(e)</text>
<text x="0" y="458.8" font-family="'Liberation Sans', sans-serif" font-size="19">(f)</text>
<text x="0" y="533.0" font-family="'Liberation Sans', sans-serif" font-size="19">(g)</text>
<text x="0" y="617.6" font-family="'Liberation Sans', sans-serif" font-size="19">(h)</text>
<text x="0" y="698.8" font-family="'Liberation Sans', sans-serif" font-size="19">(i)</text>
<text transform="translate(37.5,78.8) rotate(-90)" x="0" y="0" font-family="'Liberation Sans', sans-serif" font-size="11.6" text-anchor="middle" dominant-baseline="central" textLength="65.9" lengthAdjust="spacingAndGlyphs" style="white-space:pre">B GSE (deg)</text>
<text transform="translate(38.0,160.7) rotate(-90)" x="0" y="0" font-family="'Liberation Sans', sans-serif" font-size="11.6" text-anchor="middle" dominant-baseline="central" textLength="63.4" lengthAdjust="spacingAndGlyphs" style="white-space:pre">N(O+7/O+6)</text>
<text transform="translate(37.5,242.5) rotate(-90)" x="0" y="0" font-family="'Liberation Sans', sans-serif" font-size="11.6" text-anchor="middle" dominant-baseline="central" textLength="62.4" lengthAdjust="spacingAndGlyphs" style="white-space:pre">N(C+6/C+5)</text>
<text transform="translate(37.2,323.8) rotate(-90)" x="0" y="0" font-family="'Liberation Sans', sans-serif" font-size="11.6" text-anchor="middle" dominant-baseline="central" textLength="41.4" lengthAdjust="spacingAndGlyphs" style="white-space:pre">&lt;Q&gt;_Fe</text>
<text transform="translate(37.5,403.3) rotate(-90)" x="0" y="0" font-family="'Liberation Sans', sans-serif" font-size="11.6" text-anchor="middle" dominant-baseline="central"  style="white-space:pre">N(Fe/O)</text>
<text transform="translate(37.5,485) rotate(-90)" x="0" y="0" font-family="'Liberation Sans', sans-serif" font-size="11.6" text-anchor="middle" dominant-baseline="central"  style="white-space:pre">Tp (K)</text>
<text transform="translate(37.0,608) rotate(-90)" x="0" y="0" font-family="'Liberation Sans', sans-serif" font-size="11.6" text-anchor="middle" dominant-baseline="central" textLength="77.3" lengthAdjust="spacingAndGlyphs" style="white-space:pre">V GSE  (km/s)</text>
<text transform="translate(37.2,729.5) rotate(-90)" x="0" y="0" font-family="'Liberation Sans', sans-serif" font-size="11.6" text-anchor="middle" dominant-baseline="central" textLength="32.2" lengthAdjust="spacingAndGlyphs" style="white-space:pre">Na/Np</text>
<line x1="78" y1="52.2" x2="92.5" y2="52.2" stroke="#c83030" stroke-width="1.2"/>
<text transform="translate(93.1,57.8) scale(0.93,1)" font-family="'Liberation Serif', serif" font-size="16.5">Phi</text>
<line x1="78" y1="80.6" x2="92.5" y2="80.6" stroke="#3080e0" stroke-width="1.2"/>
<text transform="translate(93.1,86.1) scale(0.93,1)" font-family="'Liberation Serif', serif" font-size="16.5">Lat</text>
<line x1="78" y1="562.5" x2="92" y2="562.5" stroke="#000" stroke-width="1.1"/>
<text transform="translate(93.4,568.1) scale(0.93,1)" font-family="'Liberation Serif', serif" font-size="16.5">Vx</text>
<line x1="78" y1="625.3" x2="92" y2="625.3" stroke="#c83030" stroke-width="1.2"/>
<text transform="translate(93.4,630.7) scale(0.93,1)" font-family="'Liberation Serif', serif" font-size="16.5">Vy</text>
<line x1="78" y1="662" x2="92" y2="662" stroke="#3080e0" stroke-width="1.2"/>
<text transform="translate(93.4,667.4) scale(0.93,1)" font-family="'Liberation Serif', serif" font-size="16.5">Vz</text>
<text x="77.50" y="789" font-family="'Liberation Sans', sans-serif" font-size="11" text-anchor="middle">12</text>
<text x="249.43" y="789" font-family="'Liberation Sans', sans-serif" font-size="11" text-anchor="middle">13</text>
<text x="421.37" y="789" font-family="'Liberation Sans', sans-serif" font-size="11" text-anchor="middle">14</text>
<text x="593.30" y="789" font-family="'Liberation Sans', sans-serif" font-size="11" text-anchor="middle">15</text>
<text x="86" y="805.8" font-family="'Liberation Sans', sans-serif" font-size="12" text-anchor="middle">2008/01/</text>
<text x="335" y="808" font-family="'Liberation Sans', sans-serif" font-size="13.9" text-anchor="middle">Universal Time</text>
</svg></body></html>
